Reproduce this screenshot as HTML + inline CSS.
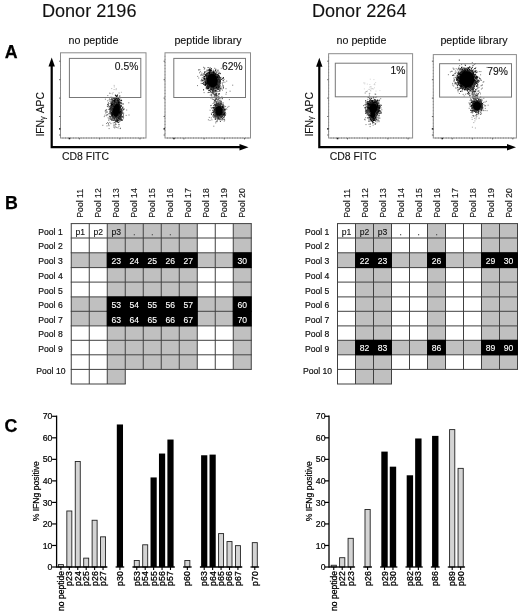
<!DOCTYPE html>
<html><head><meta charset="utf-8"><title>Figure</title>
<style>html,body{margin:0;padding:0;background:#fff;}body{width:520px;height:613px;overflow:hidden;font-family:"Liberation Sans",sans-serif;}svg{display:block;filter:blur(0.3px);}</style>
</head><body>
<svg width="520" height="613" viewBox="0 0 520 613" font-family="Liberation Sans, sans-serif"><text x="41.9" y="17.1" font-size="18.1" text-anchor="start" font-weight="normal" fill="#111" stroke="#111" stroke-width="0.12" >Donor 2196</text>
<text x="311.9" y="17.2" font-size="18.1" text-anchor="start" font-weight="normal" fill="#111" stroke="#111" stroke-width="0.12" >Donor 2264</text>
<text x="4.8" y="57.6" font-size="17.8" text-anchor="start" font-weight="bold" fill="#000" stroke="#000" stroke-width="0.25" >A</text>
<text x="4.9" y="208.7" font-size="17.8" text-anchor="start" font-weight="bold" fill="#000" stroke="#000" stroke-width="0.25" >B</text>
<text x="4.6" y="431.6" font-size="17.8" text-anchor="start" font-weight="bold" fill="#000" stroke="#000" stroke-width="0.25" >C</text>
<rect x="60.5" y="52.8" width="85.5" height="85.2" fill="#fff" stroke="#8c8c8c" stroke-width="1"/>
<path d="M59.1 61.2h1.4M59.1 79.7h1.4M59.1 98.1h1.4M59.1 116.5h1.4M59.1 135.0h1.4M79.4 138v1.4M99.6 138v1.4M119.8 138v1.4M140.0 138v1.4" stroke="#555" stroke-width="0.9" fill="none"/>
<path d="M62.5 138H144" stroke="#777" stroke-width="1" stroke-dasharray="0.9 1.7" fill="none"/>
<path d="M60.5 55.8V136" stroke="#888" stroke-width="1" stroke-dasharray="0.9 2.2" fill="none"/>
<rect x="59.0" y="128.1" width="1.5" height="1.5" fill="#222"/><rect x="68.7" y="137.8" width="1.5" height="1.5" fill="#222"/>
<path d="M112.3 112.9h0M112.2 101.6h0M114.7 117.3h0M117.6 115.9h0M115.1 115.3h0M117.3 104.1h0M116.4 116.0h0M111.5 107.6h0M112.8 112.9h0M119.8 112.8h0M116.6 104.7h0M115.2 104.5h0M119.4 102.3h0M112.8 110.4h0M119.8 113.8h0M111.7 98.1h0M113.6 113.8h0M120.1 114.0h0M112.5 114.8h0M111.6 106.2h0M118.3 103.0h0M113.2 116.4h0M114.2 113.8h0M119.8 109.3h0M113.0 108.8h0M119.7 106.8h0M119.3 105.6h0M119.0 114.8h0M121.1 113.0h0M120.7 100.4h0M122.1 113.4h0M109.8 106.4h0M118.7 105.9h0M118.4 117.4h0M112.2 107.6h0M118.9 99.3h0M118.9 104.7h0M117.9 104.3h0M116.7 115.6h0M116.1 116.9h0M122.9 107.1h0M112.6 102.7h0M113.8 103.2h0M119.3 114.4h0M119.8 107.2h0M118.1 117.7h0M114.2 116.5h0M111.6 115.1h0M119.9 106.9h0M119.0 117.5h0M119.8 110.5h0M114.5 114.2h0M119.7 110.1h0M110.8 107.1h0M111.9 112.6h0M116.5 116.1h0M119.9 118.3h0M111.8 104.3h0M111.6 113.7h0M113.3 109.4h0M120.6 111.7h0M115.8 104.7h0M115.0 114.6h0M112.3 106.6h0M118.7 114.4h0M112.5 106.5h0M112.6 108.8h0M113.5 111.1h0M110.6 110.2h0M114.8 101.4h0M110.9 105.0h0M119.5 114.1h0M117.4 101.5h0M118.5 116.6h0M121.0 103.9h0M117.4 121.2h0M120.8 111.0h0M122.7 117.0h0M117.8 99.4h0M120.3 113.3h0M111.6 113.5h0M119.5 119.0h0M112.9 106.5h0M121.4 116.2h0M113.4 103.7h0M120.4 115.7h0M120.7 115.0h0M111.1 105.6h0M116.0 104.7h0M111.7 109.3h0M113.7 98.1h0M113.8 116.5h0M115.4 104.1h0M119.9 114.4h0M120.3 115.6h0M118.8 106.3h0M115.8 121.2h0M119.3 110.2h0M116.5 121.6h0M113.8 106.9h0M116.3 103.9h0M115.3 101.3h0M115.7 104.0h0M120.7 113.8h0M118.9 107.2h0M115.9 102.3h0M118.2 114.9h0M111.7 108.8h0M117.8 103.1h0M111.9 104.5h0M114.8 103.8h0M119.9 116.4h0M113.2 107.2h0M113.8 104.9h0M117.5 103.7h0M113.3 109.4h0M115.9 98.3h0M112.7 110.2h0M116.7 104.4h0M114.6 103.9h0M121.9 110.4h0M119.0 100.7h0M117.7 120.9h0M117.1 116.1h0M118.1 114.9h0M119.1 106.7h0M116.9 119.7h0M114.4 117.4h0M120.3 111.5h0M119.7 108.2h0M119.5 111.1h0M120.0 116.2h0M115.1 119.9h0M112.1 116.9h0M119.6 105.9h0M112.7 102.3h0M119.1 109.1h0M116.4 104.1h0M115.1 116.8h0M117.7 119.8h0M123.0 104.0h0M111.8 105.2h0M113.8 112.3h0M112.9 109.2h0M120.8 109.1h0M120.0 112.7h0M112.0 115.4h0M118.5 103.3h0M112.7 108.4h0M119.9 108.8h0M113.8 103.7h0M113.4 111.0h0M120.4 113.3h0M116.9 120.2h0M113.9 104.5h0M113.2 108.6h0M119.6 109.6h0M119.9 109.6h0M112.7 109.4h0M113.6 101.0h0M117.4 103.8h0M117.0 117.7h0M114.7 120.1h0M113.3 100.3h0M117.8 122.2h0M120.3 106.0h0M115.4 95.1h0M118.5 120.3h0M113.5 115.9h0M112.5 116.3h0M112.6 113.5h0M116.2 101.0h0M119.5 109.6h0M116.0 117.1h0M120.3 111.6h0M119.2 108.0h0M122.0 109.0h0M117.6 103.9h0M118.1 104.1h0M117.6 117.5h0M119.3 112.3h0M113.2 120.3h0M121.6 103.1h0M113.7 105.1h0M116.2 101.9h0M119.1 118.5h0M110.3 116.9h0M117.6 104.7h0M111.9 110.4h0M119.2 103.0h0M119.4 110.2h0M116.0 117.8h0M113.6 106.1h0M116.2 116.2h0M117.1 105.3h0M113.9 113.0h0M118.2 116.6h0M114.2 119.8h0M115.1 115.2h0M121.6 100.7h0M121.5 112.1h0M112.4 112.9h0M112.2 114.2h0M119.3 111.6h0M113.0 102.0h0M119.1 114.3h0M110.9 107.5h0M118.4 100.2h0M122.4 107.8h0M119.1 107.6h0M112.5 114.0h0M115.5 100.9h0M119.3 112.5h0M113.8 106.4h0M113.5 112.3h0M113.2 112.3h0M119.6 112.1h0M116.7 102.9h0M115.9 102.7h0M121.3 100.3h0M115.8 102.2h0M118.7 122.5h0M110.3 109.2h0M117.6 100.9h0M110.9 108.7h0M119.3 119.8h0M114.1 101.3h0M118.4 117.5h0M118.5 114.4h0M118.4 106.9h0M111.9 104.8h0M122.3 120.3h0M119.4 110.8h0M113.7 115.3h0M111.9 99.5h0M113.3 106.2h0M111.2 108.2h0M116.8 116.1h0M120.0 119.0h0M119.1 114.6h0M119.2 105.6h0M119.7 111.7h0M119.9 108.6h0M116.3 119.7h0M119.1 112.5h0M120.2 114.1h0M119.3 111.6h0M117.3 116.2h0M112.9 109.1h0M121.1 114.4h0M117.1 103.8h0M120.9 111.9h0M114.3 116.0h0M114.7 102.0h0M117.0 105.4h0M116.0 116.4h0M116.1 99.8h0M116.7 119.9h0M113.8 104.7h0M112.9 99.0h0M111.8 110.6h0M114.8 101.8h0M112.7 112.0h0M117.1 116.4h0M121.0 116.1h0M120.6 117.7h0M115.1 104.2h0M115.0 103.2h0M119.2 113.4h0M113.4 115.6h0M118.4 102.6h0M120.7 115.0h0M121.3 106.3h0M118.8 104.5h0M113.3 103.4h0M115.5 116.8h0M118.3 106.0h0M112.5 112.2h0M114.2 115.3h0M116.8 98.5h0M112.0 109.5h0M113.7 116.3h0M115.9 120.6h0M118.9 115.0h0M120.0 115.0h0M114.9 102.7h0M112.7 115.5h0M112.4 107.8h0M116.4 104.0h0M118.9 117.9h0M114.2 103.6h0M116.8 104.8h0M115.0 101.9h0M120.1 110.3h0M121.2 118.3h0M120.5 110.7h0M117.4 116.5h0M112.9 113.9h0M118.4 115.5h0M113.0 113.4h0M112.7 106.1h0M115.4 101.2h0M116.9 103.8h0M118.5 105.6h0M115.0 115.6h0M117.1 103.8h0M113.8 100.7h0M117.7 116.5h0M109.8 109.3h0M119.2 112.4h0M118.5 117.3h0M119.0 109.1h0M118.8 114.4h0M112.6 107.5h0M112.9 108.9h0M117.7 106.0h0M111.4 114.6h0M117.2 116.9h0M113.1 114.0h0M121.3 120.4h0M113.0 112.6h0M116.9 117.5h0M119.0 109.1h0M117.1 118.2h0M119.2 116.6h0M117.5 104.9h0M113.3 110.5h0M117.2 121.6h0M114.2 114.7h0M118.1 103.5h0M120.1 111.5h0M113.2 112.1h0M120.5 107.8h0M120.5 114.3h0M119.8 107.0h0M119.2 117.4h0M122.2 112.7h0M116.7 117.9h0M119.8 106.9h0M118.8 119.0h0M113.0 104.6h0M113.8 101.6h0M117.4 102.5h0M117.5 117.0h0M112.4 107.9h0M111.7 112.4h0M111.7 106.9h0M120.9 111.9h0M113.3 110.6h0M114.0 102.5h0M114.1 105.0h0M119.5 112.3h0M114.0 100.5h0M113.0 120.2h0M115.6 104.1h0M113.8 117.0h0M112.2 108.0h0M113.6 112.1h0M109.8 108.0h0M113.9 103.3h0M115.3 115.5h0M113.5 103.8h0M120.0 113.1h0M118.6 107.3h0M119.2 108.3h0M114.0 103.2h0M119.1 107.9h0M113.8 105.5h0M115.2 104.5h0M117.1 101.0h0M118.2 103.9h0M112.8 101.4h0M119.2 113.0h0M117.5 105.3h0M111.6 103.4h0M119.9 111.5h0M120.8 119.4h0M120.4 116.1h0M120.2 113.7h0M115.2 101.7h0M113.7 104.6h0M110.9 111.3h0M116.1 121.5h0M119.8 111.8h0M114.8 116.4h0M118.7 118.4h0M114.2 113.9h0M113.0 111.8h0M118.9 117.2h0M114.0 114.4h0M113.1 114.5h0M120.3 108.8h0M122.3 116.3h0M115.0 102.1h0M114.7 115.0h0M120.8 110.4h0M111.8 113.0h0M113.7 114.2h0M112.2 103.6h0M113.5 112.2h0M118.3 102.5h0M120.7 113.7h0M118.1 102.7h0M118.9 104.7h0M114.2 100.9h0M112.3 106.6h0M117.5 117.5h0M113.5 105.4h0M116.2 117.5h0M120.0 115.4h0M111.8 104.6h0M118.5 107.4h0M113.1 110.3h0M117.9 116.9h0M114.3 114.0h0M113.9 112.7h0M119.0 114.8h0M123.5 115.0h0M120.2 108.9h0M118.9 100.9h0M111.8 105.9h0M110.7 111.5h0M120.7 119.0h0M116.2 115.9h0M112.5 100.8h0M123.6 109.4h0M120.6 106.1h0M117.2 103.9h0M112.1 99.1h0M116.5 100.1h0M112.9 105.4h0M121.7 114.0h0M117.3 120.6h0M119.7 104.5h0M120.8 117.3h0M118.1 105.7h0M115.6 104.7h0M119.3 118.1h0M114.1 118.3h0M121.3 119.6h0M121.1 114.8h0M111.5 119.0h0M121.8 111.7h0M117.8 106.1h0M118.1 117.5h0M113.4 105.1h0M117.5 105.3h0M118.9 103.7h0M118.1 118.3h0M114.1 113.9h0M119.2 111.3h0M113.6 111.3h0M119.1 115.8h0M118.3 102.9h0M114.7 116.0h0M113.4 114.4h0M120.8 114.9h0M113.4 109.0h0M116.3 118.3h0M119.5 111.8h0M113.7 107.1h0M118.9 106.0h0M112.3 104.5h0M118.2 115.3h0M118.9 101.9h0M117.9 106.2h0M111.8 115.4h0M110.1 113.4h0M118.1 101.7h0M118.2 103.1h0M119.0 112.8h0M121.7 109.1h0M120.4 110.0h0M119.4 108.8h0M118.1 102.4h0M111.0 106.3h0M115.1 115.9h0M118.6 115.0h0M119.1 109.6h0M118.9 113.9h0M118.1 105.7h0M113.2 106.7h0M117.4 117.1h0M113.4 110.8h0M113.9 113.5h0M114.8 122.4h0M115.1 117.2h0M112.7 111.9h0M120.1 109.5h0M114.1 114.9h0M112.8 103.7h0M117.6 105.9h0M116.0 103.1h0M117.1 103.9h0M116.6 104.6h0M110.1 108.8h0M117.3 101.9h0M113.9 113.2h0M117.4 102.4h0M118.2 115.3h0M118.8 104.1h0M111.6 113.3h0M119.9 107.7h0M108.0 104.3h0M113.4 108.9h0M114.3 114.3h0M112.8 117.9h0M115.0 105.2h0M113.8 112.9h0M111.9 105.1h0M113.2 111.7h0M112.0 107.6h0M120.7 110.4h0M119.2 107.0h0M119.4 99.2h0M114.1 105.4h0M111.7 120.1h0M112.7 113.4h0M115.0 116.2h0M118.0 105.9h0M113.3 109.5h0M116.0 116.4h0M108.3 105.2h0M111.9 107.9h0M113.0 104.3h0M120.5 117.0h0M121.1 114.7h0M111.0 103.4h0M113.2 111.7h0M120.6 107.9h0M114.3 118.3h0M111.4 102.3h0M110.4 109.0h0M114.5 118.1h0M112.1 109.9h0M119.5 116.9h0M118.4 116.5h0M112.0 112.0h0M114.0 115.2h0M112.0 116.8h0M117.8 121.0h0M118.9 107.6h0M113.3 109.0h0M115.8 117.6h0M113.7 113.8h0M118.4 118.5h0M114.8 115.7h0M118.7 114.5h0M119.0 116.0h0M119.8 107.2h0M119.8 105.5h0M119.9 112.5h0M113.3 112.8h0M120.3 117.8h0M115.9 103.4h0M118.0 106.0h0M113.0 112.0h0M118.4 104.4h0M118.3 106.1h0M119.6 116.1h0M117.6 120.0h0M116.2 102.1h0M119.6 108.4h0M116.0 102.0h0M119.8 113.5h0M115.0 102.4h0M116.1 115.7h0M119.7 110.0h0M115.3 103.8h0M114.8 118.5h0M118.2 115.2h0M114.1 116.6h0M112.4 107.0h0M118.0 116.4h0M116.8 102.3h0M117.5 117.0h0M120.3 111.0h0M119.6 114.7h0M119.4 110.4h0M119.3 108.1h0M112.4 101.9h0M120.4 112.7h0M117.6 116.4h0M119.4 103.0h0M118.4 117.5h0M118.2 104.6h0M114.2 113.8h0M113.2 115.5h0M113.2 107.0h0M117.9 104.6h0M121.1 105.7h0M110.4 112.7h0M118.8 103.8h0M115.6 116.4h0M114.0 102.6h0M121.5 110.0h0M120.6 102.7h0M119.5 109.8h0M114.8 104.6h0M115.4 115.5h0M113.5 117.1h0M119.3 114.4h0M114.1 113.8h0M113.7 112.3h0M118.6 107.4h0M119.9 116.9h0M113.3 109.8h0M116.8 116.0h0M111.9 112.3h0M112.7 107.2h0M120.1 110.9h0M119.9 116.2h0" stroke="#000" stroke-width="0.9" stroke-linecap="square" fill="none"/>
<path d="M118.5 101.2h0M117.0 100.7h0M117.0 101.2h0M117.0 104.3h0M118.6 102.3h0M117.2 104.0h0M116.5 99.6h0M118.3 99.8h0M118.1 99.8h0M119.2 99.6h0M118.0 105.5h0M115.7 105.4h0M115.9 97.9h0M117.8 103.6h0M116.6 96.2h0M116.8 101.3h0M116.4 101.3h0M114.7 100.7h0M119.1 105.6h0M116.4 100.4h0M117.4 104.4h0M117.8 99.3h0M117.1 102.3h0M118.7 104.8h0M117.6 104.8h0M116.4 105.5h0M116.4 102.9h0M118.0 99.9h0M116.0 97.9h0M117.1 101.9h0M116.5 103.1h0M114.3 101.9h0M117.0 101.4h0M117.9 106.0h0M116.3 99.8h0M116.1 102.2h0M117.6 100.0h0M118.1 99.6h0M117.9 103.0h0M117.5 107.0h0M116.6 101.6h0M117.5 104.0h0M115.2 102.6h0M116.0 103.5h0M118.6 102.1h0M116.8 102.4h0M113.2 103.8h0M117.6 102.4h0M116.4 100.3h0M116.7 104.8h0M116.8 105.1h0M113.7 100.9h0M117.2 102.0h0M114.8 100.5h0M118.5 99.0h0M115.7 99.5h0M116.2 103.5h0M117.6 97.3h0M118.7 100.6h0M116.2 105.8h0M116.8 99.1h0M116.1 100.3h0M115.6 101.2h0M118.0 102.8h0M115.2 108.4h0M115.7 102.3h0M116.9 103.8h0M116.5 103.1h0M119.5 102.2h0M115.5 102.8h0M115.9 101.1h0M117.1 102.8h0M116.5 104.0h0M116.7 99.0h0M118.0 101.2h0M118.4 100.5h0M117.6 102.7h0M113.5 98.6h0M115.5 105.2h0M114.5 104.1h0M118.3 103.1h0M117.7 100.9h0M116.9 102.5h0M117.4 103.6h0M116.6 100.4h0M116.2 102.9h0M114.8 99.1h0M116.4 100.7h0M116.6 95.9h0M116.5 101.4h0M117.9 97.4h0M116.5 103.1h0M117.5 104.8h0M118.2 99.6h0M117.7 101.2h0M115.9 105.5h0M116.1 100.0h0M116.4 100.0h0M118.2 102.9h0M118.7 102.9h0M116.1 104.4h0M116.1 100.9h0M116.7 102.1h0M118.4 100.6h0M117.3 101.9h0M115.3 99.5h0M116.6 102.9h0M117.3 103.1h0M117.0 101.0h0M117.4 99.7h0M115.2 101.2h0M115.1 100.8h0M116.0 100.7h0M116.8 100.1h0M116.4 98.0h0M117.1 100.0h0M117.4 95.5h0M115.9 102.6h0M113.8 101.2h0M117.0 102.2h0M115.0 102.5h0M117.1 99.7h0M117.8 101.9h0M116.9 101.0h0M117.6 102.2h0M118.3 103.0h0M116.1 101.5h0M118.1 101.2h0M117.4 103.2h0M116.7 96.6h0M117.1 102.5h0M117.1 100.2h0M118.4 101.7h0M116.1 100.3h0M117.4 99.5h0M115.6 106.6h0M118.5 104.4h0M118.6 103.4h0M114.8 104.8h0M118.5 103.1h0M114.4 104.9h0M118.6 100.9h0M117.1 103.8h0M116.8 104.6h0M117.0 103.6h0M117.0 98.6h0M115.6 109.4h0M117.3 105.0h0M118.3 106.0h0M117.6 100.6h0M116.9 97.5h0M116.7 104.1h0M114.2 102.5h0M117.9 105.1h0M115.7 100.5h0M114.5 99.6h0M117.6 106.8h0M115.5 105.2h0M117.4 100.8h0M119.7 96.1h0M116.8 102.5h0M119.6 106.2h0M119.8 102.3h0M118.1 105.2h0M117.5 102.8h0M116.7 101.0h0M115.3 106.5h0M116.3 97.1h0M117.2 101.9h0M117.1 106.2h0M116.8 101.4h0M116.0 101.9h0M116.3 102.5h0M120.8 102.9h0M115.8 106.5h0M118.0 103.9h0M117.8 103.9h0M117.8 105.3h0M118.2 105.1h0M116.3 102.0h0M116.0 104.2h0M118.0 100.9h0M117.6 108.1h0M118.5 99.4h0M116.8 103.5h0M116.9 102.9h0M118.4 102.8h0M115.5 103.7h0M116.8 102.3h0M116.2 98.8h0M115.3 101.2h0M115.5 95.7h0M118.4 99.3h0M116.0 103.2h0M113.8 105.1h0M115.9 103.5h0M116.3 102.7h0M117.0 102.0h0M114.6 98.6h0M116.8 105.3h0M116.2 103.2h0M117.1 103.1h0M118.2 98.5h0M117.2 101.6h0M116.5 100.0h0M115.9 99.6h0M115.5 107.9h0M119.1 102.0h0M117.8 99.7h0M113.4 97.7h0M117.1 105.4h0M116.8 99.7h0M116.6 99.7h0M115.1 101.5h0M116.4 100.1h0M115.8 99.8h0M117.2 105.3h0M116.6 107.2h0M114.9 102.6h0M115.4 101.6h0" stroke="#000" stroke-width="0.9" stroke-linecap="square" fill="none"/>
<path d="M115.7 116.1h0M120.3 108.8h0M109.6 109.8h0M116.5 107.2h0M119.2 124.7h0M108.8 113.6h0M119.8 98.9h0M116.1 110.5h0M108.8 120.4h0M116.2 108.7h0M117.2 116.9h0M118.6 116.7h0M117.0 103.9h0M113.3 112.6h0M102.8 125.3h0M113.5 104.2h0M107.0 112.5h0M115.3 107.8h0M113.3 105.3h0M111.8 110.8h0M112.3 116.4h0M114.6 112.8h0M117.0 121.4h0M117.9 114.1h0M114.5 106.1h0M113.7 116.7h0M116.2 109.4h0M109.2 100.0h0M116.6 119.6h0M116.9 102.4h0M114.2 113.4h0M111.1 113.8h0M114.3 105.9h0M109.6 116.9h0M116.8 105.9h0M110.7 117.7h0M117.9 110.2h0M122.3 111.1h0M110.5 119.1h0M114.4 114.3h0M115.4 104.8h0M109.9 109.8h0M121.5 105.8h0M121.3 114.6h0M110.2 113.1h0M117.7 106.0h0M105.7 113.0h0M110.2 114.4h0M106.6 109.6h0M111.6 100.8h0M114.1 113.1h0M112.7 103.1h0M116.2 99.6h0M117.6 115.9h0M122.7 119.5h0M116.8 114.1h0M115.3 102.5h0M121.7 116.8h0M113.9 103.6h0M121.8 116.9h0M109.9 116.0h0M123.7 113.2h0M117.0 109.3h0M112.4 119.2h0M129.0 115.0h0M114.6 117.6h0M113.8 117.0h0M118.9 105.3h0M110.4 110.7h0M118.9 114.6h0M120.7 103.1h0M117.4 107.9h0M115.6 114.4h0M110.9 109.7h0M110.0 113.1h0M111.4 107.9h0M116.2 107.5h0M120.3 108.3h0M119.0 114.6h0M110.6 109.7h0M111.5 108.8h0M114.0 124.8h0M113.3 122.9h0M117.2 103.0h0M104.9 115.2h0M106.3 115.7h0M119.8 115.5h0M114.3 110.1h0M116.4 110.0h0M112.8 109.0h0M120.4 108.4h0M116.9 104.1h0M112.0 101.7h0M114.3 116.7h0M116.6 108.7h0M117.9 110.0h0M116.9 114.2h0M117.6 94.7h0M109.4 116.6h0M114.7 127.9h0M114.2 107.9h0M121.9 117.0h0M123.6 117.0h0M114.3 117.0h0M111.7 108.3h0M112.7 110.0h0M118.7 109.1h0M116.6 108.7h0M119.1 93.0h0M114.3 113.1h0M110.4 118.4h0M116.2 121.3h0M119.5 117.3h0M114.5 104.2h0M114.2 108.6h0M116.3 108.9h0M128.8 102.8h0M120.4 109.5h0M114.1 118.4h0M115.2 103.4h0M117.0 110.9h0M106.1 111.9h0M110.5 106.0h0M117.3 114.5h0M113.9 127.2h0M117.1 107.9h0M116.3 111.3h0M105.4 99.2h0M109.0 125.7h0M114.4 109.9h0M112.7 118.6h0M115.3 124.1h0M118.7 124.3h0M114.7 114.6h0M113.3 110.5h0M107.5 106.6h0M111.0 106.7h0M120.6 114.7h0M120.6 119.0h0M119.3 119.8h0M112.5 117.3h0M113.8 108.0h0M120.5 128.2h0M110.9 123.6h0M118.9 106.6h0M116.4 114.8h0M116.9 109.7h0M109.5 111.3h0M119.0 118.2h0M118.1 120.3h0M110.8 111.0h0M116.7 119.3h0M115.9 115.8h0M115.8 127.0h0M105.5 110.3h0M126.2 115.4h0M107.1 111.6h0M108.8 106.2h0M116.2 124.3h0M117.3 117.1h0M119.7 114.1h0M111.4 110.7h0M116.7 110.3h0M112.2 109.0h0M108.5 103.7h0M114.8 109.4h0M115.4 122.0h0M116.5 112.0h0M110.0 103.5h0M116.9 106.1h0M117.1 104.7h0M115.8 111.6h0M119.6 109.9h0M113.6 113.5h0M115.4 124.0h0M114.1 108.0h0M113.8 115.1h0M116.2 117.1h0M109.1 128.6h0M123.3 113.1h0M109.8 112.2h0M117.0 96.5h0M115.3 101.5h0M117.2 122.1h0M119.8 102.1h0M121.3 119.4h0M113.6 115.3h0M121.9 110.7h0M115.1 108.0h0M120.3 97.6h0M121.5 106.2h0M119.3 101.1h0M111.1 107.1h0M118.9 101.1h0M117.9 107.9h0M120.7 110.7h0M117.4 111.1h0M123.1 110.7h0M115.1 126.0h0M115.5 116.9h0M111.9 112.9h0M105.2 111.1h0M112.3 100.9h0M108.9 119.1h0M117.1 101.6h0M123.2 108.4h0M113.6 113.5h0M110.2 99.7h0M111.9 119.8h0M119.4 101.5h0M120.5 113.1h0M117.4 112.7h0M117.0 105.2h0M111.2 106.4h0M113.6 116.1h0M109.8 122.4h0M112.4 107.4h0M118.3 115.6h0M113.7 104.2h0M110.8 100.0h0M120.3 120.5h0M123.5 116.9h0M116.7 117.6h0M119.4 110.8h0M116.8 127.5h0M107.7 100.8h0M110.9 116.7h0M120.5 110.4h0M118.2 112.1h0M116.5 108.4h0M115.1 111.9h0M120.2 128.6h0M107.2 114.5h0M115.2 118.9h0M119.9 118.3h0M118.8 105.8h0M107.6 122.6h0M120.6 106.1h0M120.9 117.6h0M104.3 116.6h0M110.8 119.6h0M112.2 106.2h0M108.4 109.4h0M119.7 108.0h0M107.0 125.9h0M123.4 118.2h0M112.8 103.0h0M107.9 114.8h0M121.0 105.4h0M115.2 110.0h0M114.1 115.4h0M124.5 109.0h0M119.0 120.3h0M113.9 110.7h0M109.3 118.7h0M112.8 107.0h0M115.5 106.0h0M110.6 109.1h0M121.8 111.6h0M117.5 102.0h0M106.6 123.5h0M113.4 100.8h0M114.7 116.2h0M107.5 104.5h0M116.4 105.6h0M118.7 119.4h0M117.2 109.3h0M115.0 107.5h0M114.6 114.2h0M113.9 118.7h0M126.7 110.0h0M116.7 118.1h0M118.1 110.8h0M113.1 118.8h0M118.0 116.0h0M111.6 115.9h0M118.7 111.3h0M118.1 127.9h0M106.9 115.0h0M110.0 101.5h0M114.2 115.7h0M115.4 103.7h0M108.8 107.0h0M115.3 106.1h0M108.5 123.4h0M111.5 110.3h0M112.8 107.4h0M115.4 109.9h0M118.0 104.0h0M108.6 124.8h0M114.9 117.4h0M120.5 116.8h0M115.4 100.9h0M108.1 117.8h0M118.2 116.5h0M107.8 95.6h0M110.5 102.8h0M115.9 104.8h0M122.3 108.7h0M112.7 117.8h0M116.7 105.8h0M118.9 126.3h0M109.7 109.3h0M110.4 97.4h0M118.0 117.4h0M119.5 115.8h0M106.2 110.4h0M112.2 103.1h0M110.3 116.7h0M113.9 125.8h0M117.3 98.7h0M119.2 121.6h0M115.3 103.3h0M123.1 103.9h0M114.8 98.3h0M109.6 98.9h0M120.1 121.2h0M113.4 102.0h0M114.9 114.7h0M108.4 102.6h0M114.7 117.0h0M115.5 115.3h0M109.6 93.2h0M116.6 105.6h0M114.6 109.2h0M117.4 106.8h0M121.7 113.3h0M117.6 116.9h0M119.9 115.7h0M107.3 106.2h0" stroke="#444" stroke-width="0.7" stroke-linecap="square" fill="none"/>
<path d="M120.5 101.7h0M116.6 101.7h0M113.1 92.7h0M113.1 107.1h0M116.1 111.9h0M116.5 112.8h0M116.3 88.7h0M120.1 100.6h0M118.5 99.7h0M114.0 99.3h0M111.7 88.6h0M112.4 93.9h0M111.0 97.2h0M115.9 113.9h0M120.4 97.6h0M117.6 96.3h0M116.2 97.7h0M113.4 98.6h0M110.6 101.5h0M114.1 89.5h0M113.9 102.4h0M113.0 101.7h0M116.7 110.3h0M111.8 97.1h0M116.5 109.8h0M115.8 103.9h0M110.7 93.4h0M119.9 95.8h0M121.4 92.3h0M114.2 85.4h0M116.9 100.1h0M121.0 99.3h0M114.3 86.9h0M114.8 105.5h0M117.2 107.7h0M117.6 97.6h0M116.8 99.4h0M111.1 111.5h0M116.1 89.7h0M116.1 100.3h0" stroke="#888" stroke-width="0.6" stroke-linecap="square" fill="none"/>
<ellipse cx="116.3" cy="110.3" rx="3.4" ry="6.6" fill="#000" transform="rotate(8 116.3 110.3)"/>
<rect x="69.4" y="58.4" width="71.4" height="39.1" fill="none" stroke="#777" stroke-width="1"/>
<text x="93.5" y="43.8" font-size="10.7" text-anchor="middle" font-weight="normal" fill="#111" stroke="#111" stroke-width="0.12" >no peptide</text>
<text x="138.3" y="69.6" font-size="10.3" text-anchor="end" font-weight="normal" fill="#111" stroke="#111" stroke-width="0.12" >0.5%</text>
<rect x="165" y="52.8" width="85.5" height="85.2" fill="#fff" stroke="#8c8c8c" stroke-width="1"/>
<path d="M163.6 61.2h1.4M163.6 79.7h1.4M163.6 98.1h1.4M163.6 116.5h1.4M163.6 135.0h1.4M183.9 138v1.4M204.1 138v1.4M224.3 138v1.4M244.5 138v1.4" stroke="#555" stroke-width="0.9" fill="none"/>
<path d="M167 138H248.5" stroke="#777" stroke-width="1" stroke-dasharray="0.9 1.7" fill="none"/>
<path d="M165 55.8V136" stroke="#888" stroke-width="1" stroke-dasharray="0.9 2.2" fill="none"/>
<rect x="163.5" y="128.1" width="1.5" height="1.5" fill="#222"/><rect x="173.2" y="137.8" width="1.5" height="1.5" fill="#222"/>
<path d="M215.6 87.1h0M202.1 81.0h0M217.4 77.7h0M206.1 80.6h0M219.7 83.2h0M210.3 70.5h0M214.8 73.7h0M213.3 86.2h0M215.2 74.8h0M207.3 73.6h0M207.5 80.3h0M215.9 84.6h0M208.0 81.3h0M208.8 75.0h0M209.8 74.3h0M212.6 86.7h0M217.0 88.5h0M213.0 92.9h0M213.8 73.4h0M208.6 74.8h0M218.4 80.6h0M212.8 90.3h0M213.3 86.9h0M216.7 78.9h0M217.6 80.5h0M214.7 88.0h0M217.0 86.0h0M218.1 75.8h0M218.9 81.9h0M206.4 76.9h0M207.6 79.6h0M207.2 75.5h0M215.3 74.5h0M211.5 72.4h0M204.9 72.1h0M210.7 75.0h0M208.4 83.0h0M207.8 72.3h0M211.6 73.1h0M217.8 77.5h0M209.5 72.7h0M206.0 83.0h0M215.8 90.2h0M207.3 82.0h0M217.2 80.8h0M217.5 78.7h0M218.0 70.2h0M218.1 75.5h0M209.5 86.4h0M213.4 72.2h0M217.3 86.3h0M210.4 85.6h0M207.5 78.5h0M204.5 76.8h0M206.0 84.5h0M209.0 69.9h0M210.6 89.1h0M210.1 67.9h0M210.3 74.4h0M212.2 73.6h0M217.4 82.7h0M217.1 80.2h0M208.1 76.5h0M208.0 76.1h0M217.4 80.3h0M211.4 87.5h0M216.1 75.4h0M209.9 75.5h0M218.9 82.6h0M218.3 89.5h0M208.7 85.0h0M216.2 86.9h0M212.4 88.0h0M209.0 73.2h0M207.1 81.3h0M218.3 74.0h0M213.7 86.7h0M208.4 76.2h0M216.1 87.2h0M217.6 79.3h0M213.0 86.3h0M214.3 87.4h0M205.3 74.4h0M208.1 83.4h0M220.6 82.9h0M204.0 78.3h0M201.8 79.3h0M213.6 91.3h0M209.5 85.2h0M215.6 87.9h0M217.0 81.5h0M207.3 77.2h0M218.6 89.0h0M207.9 79.0h0M206.3 84.2h0M208.7 72.9h0M219.5 84.9h0M219.0 80.1h0M215.9 75.1h0M209.8 75.5h0M214.6 72.6h0M218.7 85.9h0M207.2 78.7h0M217.3 84.6h0M209.4 73.5h0M210.0 74.3h0M218.1 79.8h0M205.0 85.0h0M209.3 74.0h0M216.3 83.9h0M216.5 79.4h0M209.0 85.1h0M206.3 87.3h0M213.0 72.9h0M209.3 75.5h0M209.8 69.8h0M214.2 87.6h0M214.3 75.9h0M216.4 74.5h0M214.7 86.7h0M211.8 87.0h0M218.3 88.1h0M208.6 75.4h0M211.8 87.8h0M214.1 73.8h0M216.0 84.4h0M214.2 87.0h0M214.3 74.0h0M207.0 78.2h0M217.7 82.9h0M209.0 75.1h0M206.8 73.7h0M213.2 73.0h0M210.5 70.0h0M210.1 86.3h0M216.7 83.4h0M218.6 78.2h0M210.9 73.4h0M219.4 77.7h0M207.6 81.4h0M219.7 80.9h0M217.4 84.4h0M219.6 87.9h0M215.0 87.4h0M212.0 87.3h0M218.0 76.0h0M203.9 80.8h0M207.0 81.1h0M215.3 91.0h0M217.2 86.2h0M214.9 87.2h0M206.8 83.4h0M215.2 77.0h0M218.1 82.1h0M206.6 74.0h0M215.9 75.0h0M213.4 89.8h0M208.2 83.0h0M216.6 76.9h0M212.6 90.0h0M215.8 69.3h0M211.5 73.6h0M216.0 74.6h0M217.5 79.0h0M210.1 74.8h0M218.9 84.3h0M209.1 86.2h0M213.7 72.6h0M215.0 71.4h0M210.5 85.7h0M216.8 77.4h0M209.7 87.9h0M206.8 75.5h0M206.2 83.8h0M217.4 79.9h0M217.6 88.1h0M216.7 82.6h0M207.4 82.4h0M206.1 78.3h0M213.3 87.5h0M220.2 73.4h0M210.3 71.0h0M209.7 86.0h0M207.2 79.7h0M217.6 89.7h0M212.7 72.3h0M207.3 86.9h0M205.0 79.1h0M219.2 75.8h0M204.4 78.5h0M208.1 74.3h0M208.2 82.4h0M211.1 73.6h0M206.4 74.1h0M213.6 86.1h0M211.3 73.6h0M211.0 74.0h0M211.4 88.3h0M213.8 74.9h0M204.7 68.1h0M209.3 86.1h0M203.8 83.1h0M204.1 80.0h0M209.6 69.8h0M216.2 88.1h0M215.5 75.8h0M209.4 84.7h0M207.6 77.7h0M211.5 70.4h0M215.9 75.4h0M208.0 76.5h0M207.9 88.2h0M217.2 77.0h0M207.6 86.4h0M216.7 78.9h0M208.8 83.7h0M207.4 86.7h0M209.2 86.7h0M215.1 86.5h0M218.0 84.4h0M211.7 73.9h0M219.3 76.5h0M205.0 76.3h0M218.8 86.9h0M212.2 72.4h0M216.3 76.4h0M204.7 72.7h0M211.1 74.7h0M214.3 86.1h0M208.1 70.1h0M206.2 88.3h0M223.2 80.5h0M209.0 85.5h0M206.7 82.3h0M215.7 77.4h0M218.6 78.9h0M208.4 84.1h0M218.4 81.9h0M218.4 82.0h0M208.0 83.0h0M207.3 76.8h0M205.1 85.0h0M219.8 79.4h0M217.3 77.3h0M213.8 73.4h0M217.5 81.2h0M209.9 86.5h0M211.9 86.2h0M216.0 88.2h0M217.5 78.6h0M215.7 86.9h0M205.7 75.3h0M211.7 74.5h0M207.1 86.4h0M223.5 77.6h0M208.3 82.3h0M214.4 74.4h0M205.8 81.6h0M205.5 85.3h0M212.3 88.2h0M218.0 85.9h0M211.2 73.8h0M207.9 87.8h0M216.2 78.1h0M218.0 80.4h0M218.4 87.1h0M214.1 75.0h0M206.1 81.2h0M219.8 79.8h0M215.1 86.4h0M206.9 77.3h0M221.6 79.4h0M215.2 85.4h0M217.2 79.5h0M206.9 87.3h0M215.6 76.5h0M209.3 84.4h0M209.5 90.5h0M212.6 91.8h0M214.9 75.8h0M209.2 71.3h0M217.4 81.2h0M206.0 84.0h0M206.9 75.5h0M215.1 88.2h0M218.6 87.5h0M211.5 89.0h0M216.9 71.2h0M216.6 85.8h0M209.0 84.6h0M222.7 78.7h0M217.0 81.2h0M207.7 86.6h0M207.1 75.7h0M209.2 73.1h0M216.4 78.8h0M216.5 84.6h0M204.3 78.4h0M216.8 77.9h0M215.1 76.2h0M214.9 85.9h0M212.0 74.0h0M208.1 67.6h0M208.1 83.5h0M219.9 81.5h0M218.0 78.6h0M210.2 74.3h0M204.1 73.7h0M217.5 83.4h0M207.6 76.4h0M209.3 85.3h0M208.7 84.8h0M210.7 91.6h0M216.9 85.1h0M215.5 76.8h0M216.2 88.3h0M208.6 84.1h0M208.1 86.6h0M217.3 77.6h0M215.3 77.0h0M217.1 80.3h0M213.0 74.3h0M212.4 90.1h0M210.7 72.9h0M206.8 80.3h0M208.7 85.3h0M212.9 87.9h0M209.4 74.9h0M208.8 75.2h0M208.0 70.3h0M213.9 74.4h0M210.6 71.7h0M216.3 74.5h0M208.7 90.3h0M210.8 89.5h0M216.6 74.4h0M217.7 87.7h0M208.3 84.9h0M209.7 85.6h0M217.4 82.3h0M214.4 88.8h0M208.5 77.1h0M210.1 85.5h0M207.5 86.5h0M219.7 90.1h0M212.7 88.8h0M212.5 86.2h0M214.1 73.7h0M211.6 87.6h0M202.4 80.4h0M213.0 86.5h0M213.4 73.0h0M211.9 87.5h0M202.3 83.5h0M207.6 85.7h0M214.1 89.2h0M216.0 85.3h0M209.2 87.1h0M209.7 74.9h0M213.0 88.0h0M206.1 81.5h0M208.4 84.7h0M217.3 80.0h0M214.6 86.3h0M207.6 80.3h0M207.9 74.9h0M206.3 82.3h0M207.1 76.8h0M218.5 80.3h0M220.6 77.7h0M219.4 82.8h0M206.3 82.4h0M210.9 89.5h0M218.0 77.0h0M217.9 78.3h0M218.8 86.9h0M207.9 77.9h0M215.1 90.9h0M211.2 87.1h0M217.9 82.8h0M212.1 72.1h0M209.1 85.5h0M206.3 79.2h0M214.1 87.2h0M208.5 86.0h0M209.1 83.8h0M218.4 81.8h0M212.1 88.4h0M207.9 78.0h0M216.2 75.8h0M209.6 73.2h0M207.6 82.1h0M213.5 89.0h0M214.1 85.9h0M205.8 79.2h0M220.1 83.0h0M207.9 77.1h0M216.8 83.8h0M207.1 77.5h0M217.5 86.3h0M208.2 85.1h0M210.4 73.4h0M217.9 83.2h0M205.6 84.4h0M219.7 86.4h0M206.9 82.3h0M208.0 81.1h0M207.5 86.0h0M208.9 75.8h0M211.0 73.8h0M213.7 86.6h0M209.5 75.0h0M210.2 85.2h0M206.4 77.4h0M216.4 85.8h0M219.6 86.0h0M217.7 82.6h0M208.4 73.6h0M207.8 84.1h0M206.9 82.2h0M219.0 78.5h0M205.2 82.4h0M210.8 85.5h0M210.6 86.5h0M206.8 74.8h0M210.7 75.1h0M211.5 86.3h0M217.5 85.4h0M206.9 79.4h0M219.4 80.9h0M220.4 81.5h0M212.0 88.2h0M217.2 81.4h0M218.3 85.7h0M207.1 81.2h0M216.4 84.8h0M209.2 74.9h0M210.4 73.8h0M215.5 90.6h0M218.1 80.1h0M212.1 74.0h0M218.3 78.7h0M214.3 73.4h0M215.1 76.0h0M215.3 86.6h0M213.4 88.8h0M209.1 87.1h0M219.0 82.5h0M216.6 85.2h0M219.4 81.3h0M217.0 87.2h0M217.6 82.4h0M214.2 75.0h0M206.4 77.2h0M214.2 87.0h0M207.0 76.4h0M209.1 76.0h0M217.8 78.0h0M210.2 71.0h0M209.2 75.2h0M217.7 78.8h0M215.9 85.0h0M209.4 72.0h0M223.2 78.2h0M206.6 82.0h0M205.1 84.7h0M206.6 83.7h0M213.1 75.3h0M210.2 85.3h0M206.6 83.2h0M209.4 69.8h0M214.6 76.3h0M216.7 85.5h0M213.7 75.5h0M215.7 85.0h0M219.2 73.0h0M215.9 77.0h0M211.0 89.6h0M215.6 73.4h0M212.4 86.1h0M212.6 74.9h0M211.0 69.5h0M210.0 70.5h0M208.7 73.9h0M213.1 87.2h0M207.7 78.7h0M210.2 85.1h0M218.0 79.6h0M208.8 86.1h0M213.5 71.2h0M204.3 79.5h0M215.7 88.0h0M210.9 75.1h0M216.7 86.6h0M215.0 74.1h0M214.0 90.5h0M219.1 81.9h0M212.9 73.6h0M208.0 74.0h0M216.2 73.2h0M210.3 86.0h0M209.7 72.7h0M216.7 87.6h0M210.6 74.4h0M216.6 86.4h0M217.4 84.6h0M216.5 84.7h0M208.7 72.7h0M212.6 88.0h0M211.0 73.3h0M207.1 78.4h0M215.5 76.7h0M219.4 77.3h0M206.5 79.4h0M207.5 85.1h0M215.8 85.4h0M211.8 71.1h0M218.6 77.0h0M216.6 78.6h0M215.9 75.0h0M207.8 85.3h0M213.6 87.6h0M214.3 88.0h0M206.0 75.4h0M216.8 79.5h0M216.1 90.0h0M203.4 82.8h0M208.9 86.0h0M209.7 74.6h0M206.7 85.9h0M217.7 83.1h0M213.9 75.7h0M217.3 80.5h0M207.5 78.5h0M213.1 88.7h0M216.3 76.0h0M212.9 87.2h0M210.7 86.6h0M208.9 85.7h0M206.7 76.2h0M213.8 87.9h0M206.9 77.4h0M212.0 86.7h0M212.7 74.8h0M207.1 82.0h0M207.8 78.5h0M211.7 75.1h0M214.9 87.0h0M216.5 86.0h0M211.4 89.0h0M212.3 74.2h0M220.4 78.9h0M205.7 83.1h0M218.7 83.0h0M213.1 74.2h0M208.1 87.5h0M217.0 87.9h0M218.6 77.9h0M217.5 82.9h0M207.3 79.7h0M214.0 86.4h0M203.7 84.4h0M214.3 87.0h0M207.5 73.9h0M205.5 85.6h0M207.4 88.7h0M204.5 76.4h0M217.2 86.9h0M213.2 73.9h0M213.4 74.3h0M210.2 86.0h0M207.5 83.4h0M219.9 84.6h0M207.7 84.7h0M206.2 80.8h0M218.2 85.6h0M220.4 80.5h0M210.7 73.9h0M207.1 75.4h0M217.9 81.4h0M216.3 77.7h0M205.3 84.5h0M223.4 87.7h0M219.0 88.1h0M215.3 75.5h0M217.4 83.2h0M207.5 81.2h0M205.8 75.7h0M216.1 76.9h0M211.6 73.5h0M210.5 86.6h0M207.4 75.7h0M215.1 74.4h0M211.4 73.7h0M208.8 74.2h0M216.6 78.5h0M209.8 75.5h0M206.6 79.8h0M217.7 82.3h0M217.9 74.6h0M217.4 76.6h0M210.4 73.2h0M212.9 88.1h0M216.7 75.2h0M215.7 84.9h0M217.7 81.0h0M217.4 84.0h0M217.9 84.8h0M218.4 75.7h0M212.3 90.1h0M206.5 82.3h0M214.6 87.0h0M208.3 88.6h0M208.3 83.0h0M210.7 85.7h0M212.2 86.1h0M211.3 87.6h0M205.4 82.7h0M213.4 71.9h0M205.5 83.6h0M212.3 92.1h0M207.2 78.7h0M217.0 88.0h0M209.0 84.9h0M209.6 85.5h0M213.8 88.4h0M213.8 73.8h0M210.0 72.0h0M214.3 76.0h0M218.0 80.9h0M215.5 70.4h0M209.1 75.1h0M220.7 88.4h0M216.8 83.0h0M205.1 83.0h0M208.9 75.6h0M207.1 77.4h0M218.5 83.8h0M215.2 85.5h0M210.5 88.1h0M209.9 73.4h0M208.5 88.4h0M217.3 74.5h0M213.3 75.5h0M218.0 86.5h0M210.6 73.2h0M214.3 72.8h0M212.7 74.3h0M216.0 87.7h0M206.3 81.3h0M206.7 79.0h0M216.0 75.9h0M211.2 88.9h0M218.7 86.8h0M210.0 74.9h0M214.1 75.0h0M206.6 78.2h0M216.9 77.4h0M210.8 90.7h0M213.3 74.7h0M210.5 86.6h0M206.2 80.1h0M207.7 86.2h0M206.6 76.7h0M203.8 77.1h0M219.5 82.3h0M209.5 85.7h0M217.2 81.3h0M217.8 77.3h0M210.6 85.6h0M207.0 88.9h0M217.6 79.8h0M218.7 81.1h0M211.8 74.2h0M216.8 74.9h0M216.1 75.2h0M211.6 87.2h0M209.6 84.7h0M217.3 86.7h0M208.4 87.6h0M216.3 91.0h0M206.9 75.5h0M211.3 68.5h0M203.6 89.8h0M204.0 76.8h0M205.3 74.8h0M218.9 79.0h0M212.0 88.2h0M209.3 84.1h0M212.7 87.2h0" stroke="#000" stroke-width="0.9" stroke-linecap="square" fill="none"/>
<path d="M211.4 79.4h0M214.6 81.3h0M211.2 76.1h0M214.1 84.3h0M222.5 84.1h0M203.5 82.7h0M224.9 82.2h0M208.6 80.0h0M197.7 76.4h0M211.8 72.5h0M215.9 77.4h0M203.0 75.3h0M216.2 94.6h0M219.4 84.8h0M210.1 79.8h0M217.9 80.0h0M215.0 88.5h0M208.0 77.3h0M215.2 82.6h0M212.1 78.6h0M212.5 93.3h0M220.0 73.8h0M213.1 82.6h0M213.0 73.6h0M212.1 82.7h0M209.2 83.1h0M199.9 69.7h0M213.3 84.5h0M211.9 79.0h0M213.8 88.9h0M217.6 82.6h0M210.3 87.9h0M215.7 88.1h0M211.3 76.4h0M213.8 78.4h0M218.9 88.7h0M201.2 83.4h0M219.9 90.0h0M210.3 76.1h0M217.9 89.4h0M213.1 75.0h0M204.7 81.7h0M208.4 76.8h0M215.2 89.0h0M201.9 75.3h0M219.7 83.4h0M211.0 85.5h0M206.8 73.1h0M212.9 91.6h0M218.2 83.2h0M218.2 80.8h0M206.6 70.2h0M214.2 87.9h0M214.8 82.2h0M210.7 88.2h0M212.6 73.1h0M220.1 79.7h0M214.9 82.5h0M218.4 84.8h0M219.3 84.8h0M210.4 78.3h0M216.3 77.7h0M217.7 81.7h0M207.9 75.5h0M212.0 92.7h0M216.9 83.1h0M208.0 92.6h0M211.3 81.6h0M210.6 89.7h0M213.7 79.4h0M213.8 76.1h0M207.2 79.7h0M197.5 85.6h0M223.3 77.7h0M212.0 72.1h0M213.7 83.5h0M216.7 74.7h0M209.6 77.3h0M211.5 95.7h0M211.7 81.5h0M210.1 86.3h0M226.4 92.4h0M220.9 77.3h0M218.4 83.5h0M219.4 90.1h0M216.3 72.5h0M213.5 79.1h0M215.2 82.8h0M218.4 73.5h0M208.9 80.6h0M214.5 79.9h0M212.6 82.3h0M218.4 82.6h0M214.1 71.1h0M198.9 69.7h0M214.7 68.3h0M215.0 81.9h0M212.8 77.5h0M210.6 86.6h0M214.7 82.3h0M210.2 82.7h0M219.1 83.4h0M210.9 74.3h0M213.3 76.5h0M205.2 85.6h0M209.5 68.7h0M209.0 92.4h0M212.2 73.7h0M206.9 85.0h0M215.0 83.8h0M211.8 84.7h0M221.0 86.9h0M211.9 73.2h0M215.2 92.2h0M216.2 75.1h0M213.8 90.2h0M209.4 84.2h0M219.2 93.6h0M204.3 69.2h0M214.8 86.8h0M210.9 81.4h0M210.6 88.9h0M201.0 80.8h0M206.0 76.2h0M204.7 74.5h0M212.7 82.1h0M222.3 82.9h0M214.6 84.6h0M214.2 91.4h0M213.5 83.1h0M212.2 81.9h0M212.5 88.1h0M212.9 82.4h0M212.5 86.6h0M210.3 87.2h0M209.8 85.6h0M223.0 85.9h0M212.3 74.6h0M216.7 83.0h0M217.6 79.1h0M215.6 93.8h0M214.9 80.5h0M205.9 80.3h0M216.3 86.5h0M206.8 74.2h0M207.6 74.5h0M211.3 83.3h0M223.0 85.6h0M220.5 73.6h0M221.0 88.9h0M215.1 87.7h0M216.1 94.6h0M217.1 72.3h0M203.5 89.8h0M212.4 90.1h0M211.0 77.5h0M211.0 83.5h0M213.8 78.4h0M215.7 86.5h0M207.9 74.0h0M202.3 77.6h0M212.9 77.7h0M209.6 80.4h0M213.0 85.6h0M217.2 85.8h0M218.8 77.4h0M216.0 85.1h0M207.2 76.5h0M215.2 83.0h0M206.1 77.0h0M220.9 89.2h0M213.2 90.5h0M208.0 79.8h0M217.9 81.1h0M206.8 84.2h0M221.3 68.3h0M213.6 74.5h0M211.2 72.9h0M226.7 81.1h0M213.0 77.7h0M207.5 77.9h0M213.9 93.1h0M214.3 92.1h0M207.1 81.1h0M210.5 71.7h0M232.7 85.2h0M214.1 77.6h0M209.7 74.9h0M218.3 80.8h0M212.0 82.9h0M206.3 81.9h0M211.9 84.5h0M210.7 81.8h0M215.6 88.6h0M209.1 87.2h0M207.5 79.6h0M213.5 83.1h0M199.5 72.8h0M211.8 87.5h0M209.0 90.5h0M203.2 80.2h0M215.7 82.8h0M214.2 88.1h0M208.5 84.6h0M218.5 81.9h0M200.4 71.7h0M208.2 74.4h0M215.1 77.6h0M226.0 88.7h0M205.8 78.6h0M221.0 88.1h0M207.4 87.1h0M210.3 95.1h0M209.9 85.0h0M215.8 80.0h0M212.0 89.0h0M215.5 82.3h0M215.2 93.4h0M217.8 86.1h0M214.6 72.7h0M213.5 79.2h0M216.7 79.2h0M215.2 76.1h0M217.6 78.6h0M212.6 85.5h0M211.1 81.6h0M218.5 94.3h0M203.2 74.1h0M216.4 88.7h0M210.3 82.0h0M211.8 95.9h0M211.7 74.4h0M204.5 72.1h0M219.8 81.2h0M223.2 88.4h0M214.8 86.5h0M217.0 88.7h0M207.6 77.3h0M209.9 82.0h0M211.5 74.1h0M209.1 92.2h0M224.1 79.4h0M214.8 82.3h0M208.3 85.3h0M212.4 92.3h0M215.2 80.7h0M198.7 78.0h0M217.3 78.7h0M217.5 87.4h0M203.4 78.6h0M214.5 87.1h0M213.6 82.1h0M211.0 79.8h0M212.8 75.4h0M216.2 80.8h0M215.6 79.5h0M215.0 83.3h0M217.6 86.0h0M217.8 82.2h0M212.5 80.3h0M206.1 79.6h0M218.6 88.1h0M208.3 82.8h0M216.8 74.5h0M214.7 84.5h0M216.8 84.5h0M203.5 67.3h0M223.4 82.1h0M219.6 91.4h0M213.3 75.0h0M220.1 83.5h0M215.6 85.6h0M217.9 89.5h0M205.2 71.5h0M213.6 82.2h0M216.9 82.1h0M211.8 94.3h0M220.1 90.9h0M218.3 78.4h0M212.3 81.5h0M207.0 75.2h0M213.7 74.7h0M215.7 85.6h0M211.5 79.6h0M216.0 85.7h0M214.8 74.9h0M204.1 92.6h0M209.3 78.9h0M203.1 74.8h0M208.9 86.0h0M198.7 70.0h0M210.6 78.4h0M208.7 78.3h0M204.4 81.7h0M219.2 84.5h0M209.9 89.1h0M215.4 76.3h0M209.7 77.5h0M212.6 89.4h0M209.0 80.2h0M213.4 74.8h0M210.3 85.2h0M218.8 71.9h0M216.6 81.1h0M219.7 87.5h0M223.3 86.4h0M210.7 76.4h0M205.2 83.6h0M215.6 87.7h0M214.7 73.2h0M210.6 80.0h0M213.7 86.9h0M220.4 85.6h0M201.8 73.1h0M201.4 74.6h0M206.4 82.0h0M211.6 88.6h0M218.6 80.6h0M217.8 83.3h0M215.2 90.9h0M206.7 80.1h0M221.0 79.2h0M213.9 83.1h0M210.6 73.4h0M209.1 75.1h0M218.6 84.9h0M216.5 75.6h0M215.5 83.5h0M218.4 78.9h0M217.1 91.5h0M222.4 78.6h0M206.8 71.6h0M217.9 86.9h0M214.6 77.1h0M219.5 93.5h0M212.6 81.2h0M219.1 86.6h0M220.0 81.2h0M214.6 80.4h0M209.8 79.5h0M211.3 84.7h0M211.2 82.1h0M208.5 73.4h0M220.4 77.8h0M222.5 90.1h0M200.6 75.2h0M210.6 81.6h0M211.9 78.1h0M219.5 82.8h0M217.9 79.0h0M209.1 89.3h0M211.3 74.9h0M211.9 88.3h0M211.9 77.4h0M216.2 88.8h0M211.7 79.8h0M210.9 98.1h0M211.8 92.5h0M212.0 84.3h0M201.9 80.5h0M213.1 80.1h0M210.6 73.1h0M204.9 81.1h0M209.4 80.6h0M211.8 78.7h0M208.9 92.5h0M206.9 77.5h0M211.2 74.6h0M207.7 86.1h0M217.8 84.0h0M230.1 91.2h0M219.4 78.6h0M218.6 93.7h0M210.8 92.6h0M208.5 74.0h0M212.6 77.0h0M216.2 76.0h0M213.3 70.1h0M212.6 88.4h0M211.4 83.6h0" stroke="#444" stroke-width="0.7" stroke-linecap="square" fill="none"/>
<path d="M221.5 107.9h0M216.1 110.8h0M216.8 114.3h0M223.6 109.0h0M213.2 110.0h0M218.1 117.8h0M223.2 113.4h0M222.2 110.0h0M216.8 108.2h0M222.3 106.5h0M219.6 106.6h0M223.4 114.5h0M215.5 108.5h0M221.1 115.5h0M223.2 110.3h0M220.4 103.8h0M218.4 107.0h0M220.9 106.2h0M216.6 107.3h0M216.9 116.1h0M224.0 115.1h0M220.7 108.1h0M213.4 112.1h0M218.5 114.5h0M224.0 114.2h0M222.1 116.2h0M222.2 112.6h0M215.6 112.9h0M216.7 112.7h0M217.9 118.2h0M216.2 111.6h0M218.3 106.4h0M221.1 114.9h0M220.3 106.8h0M216.2 112.3h0M219.7 104.9h0M224.7 109.5h0M222.9 106.2h0M223.3 117.6h0M221.2 108.2h0M222.4 115.7h0M214.8 107.5h0M218.2 114.7h0M218.3 116.5h0M219.8 115.3h0M214.8 109.5h0M217.6 115.9h0M219.4 115.3h0M221.2 108.5h0M221.1 117.8h0M216.7 108.2h0M217.2 107.2h0M222.4 111.1h0M221.7 113.1h0M219.7 115.7h0M220.6 115.3h0M216.3 107.3h0M222.4 107.8h0M219.3 106.8h0M218.6 117.6h0M224.5 110.2h0M216.8 115.5h0M217.1 105.3h0M215.8 113.8h0M217.4 107.5h0M222.6 114.8h0M223.0 114.8h0M219.1 106.3h0M216.4 112.8h0M213.7 107.7h0M216.1 110.3h0M217.1 104.0h0M219.2 107.1h0M221.4 113.3h0M222.4 107.1h0M220.6 115.8h0M217.6 113.9h0M217.5 116.6h0M224.9 112.3h0M218.3 114.6h0M221.6 116.2h0M219.3 115.1h0M221.1 113.6h0M218.9 106.6h0M221.6 109.0h0M217.8 105.3h0M221.0 108.3h0M218.9 105.6h0M218.4 115.0h0M215.7 109.6h0M221.2 116.3h0M222.9 104.2h0M215.2 116.0h0M224.6 113.4h0M216.9 114.8h0M213.0 110.5h0M223.2 108.2h0M216.4 109.1h0M219.3 106.9h0M218.5 106.8h0M217.0 107.8h0M221.7 107.8h0M218.7 114.7h0M224.3 112.0h0M221.7 109.0h0M222.8 113.9h0M217.9 104.8h0M220.1 106.6h0M214.2 111.7h0M221.4 101.9h0M221.9 110.3h0M218.7 106.3h0M218.7 116.8h0M221.0 107.2h0M215.9 108.5h0M218.9 116.6h0M223.0 112.6h0M220.4 105.2h0M218.8 118.0h0M221.7 110.1h0M222.4 114.9h0M219.0 118.7h0M221.0 106.5h0M215.9 108.2h0M217.3 115.2h0M219.0 105.4h0M217.9 114.3h0M222.2 111.1h0M214.2 115.7h0M218.7 118.5h0M217.7 114.8h0M221.6 108.1h0M221.9 119.8h0M215.7 107.3h0M219.6 106.4h0M218.6 115.0h0M216.0 109.5h0M222.4 115.3h0M215.8 115.6h0M223.2 105.0h0M222.3 114.7h0M220.5 105.5h0M224.5 113.9h0M219.9 117.8h0M221.7 113.8h0M221.1 114.8h0M221.2 108.1h0M217.8 106.7h0M223.4 113.9h0M219.5 107.3h0M219.1 107.1h0M218.5 114.5h0M214.4 109.5h0M216.0 110.3h0M215.5 110.1h0M221.0 108.7h0M219.7 106.4h0M222.7 111.3h0M216.5 114.0h0M215.0 104.7h0M215.7 114.9h0M221.6 115.6h0M215.4 111.5h0M223.0 107.2h0M221.3 114.5h0M223.3 112.4h0M219.1 104.6h0M222.3 110.4h0M222.8 110.5h0M220.5 106.4h0M221.8 112.2h0M221.4 117.4h0M219.7 107.2h0M221.1 107.3h0M221.1 115.3h0M218.8 116.1h0M218.3 106.2h0M216.7 106.9h0M223.4 111.8h0M215.7 109.9h0M222.0 109.3h0M215.1 109.9h0M218.9 104.5h0M214.7 111.9h0M221.0 113.8h0M218.9 105.5h0M222.1 110.3h0M221.3 113.8h0M215.0 114.0h0M217.0 106.2h0M215.5 108.2h0M224.1 119.3h0M216.3 108.5h0M218.0 106.0h0M215.1 110.8h0M215.8 105.2h0M222.4 114.2h0M222.2 111.7h0M216.0 112.7h0M214.9 110.0h0M222.6 115.8h0M217.6 103.7h0M213.7 107.4h0M216.0 112.5h0M218.1 114.4h0M221.7 114.2h0M213.5 107.7h0M222.6 110.7h0M216.4 112.0h0M216.9 113.4h0M215.2 110.2h0M220.4 106.4h0M216.3 113.8h0M220.0 115.1h0M224.3 109.3h0M215.7 106.6h0M219.6 106.6h0M221.4 113.1h0M216.2 107.6h0M220.3 114.7h0M221.5 104.1h0M221.1 108.4h0M222.9 107.5h0M219.1 114.9h0M217.4 116.0h0M222.2 112.5h0M212.7 107.7h0M224.5 109.6h0M216.1 109.9h0M220.3 116.2h0M215.1 110.9h0M221.8 109.2h0M218.0 107.1h0M221.9 112.8h0M215.6 105.1h0M222.6 111.8h0M217.3 113.7h0M215.2 118.9h0M216.6 115.6h0M220.5 106.0h0M224.1 109.6h0M222.0 114.5h0M218.6 116.3h0M216.3 116.6h0M217.4 116.2h0M221.8 114.0h0M223.7 106.1h0M218.7 106.8h0M223.8 114.4h0M225.2 109.7h0M220.2 115.1h0M216.7 108.5h0M219.4 107.2h0M217.6 114.9h0M220.8 107.3h0M221.9 110.3h0M213.9 105.5h0M223.1 115.7h0M223.8 114.3h0M222.1 109.5h0M222.0 110.0h0M218.9 106.7h0M221.1 114.0h0M221.3 108.2h0M219.0 105.2h0M219.9 104.7h0M217.9 115.4h0M217.4 105.8h0M215.4 119.2h0M219.3 105.0h0M222.2 116.6h0M217.0 113.3h0M222.0 112.9h0M218.3 106.1h0M215.4 114.1h0M221.9 111.7h0M224.7 113.5h0M214.7 108.9h0M215.5 104.7h0M216.9 104.4h0M222.2 115.2h0M216.8 116.9h0M220.5 103.3h0M215.0 109.6h0M221.7 112.6h0M215.7 108.4h0M217.3 114.2h0M216.9 104.6h0M217.1 113.4h0M214.6 110.9h0M216.4 113.4h0M222.6 118.4h0M215.3 110.3h0M216.7 113.2h0M224.4 116.3h0M217.3 114.5h0M218.6 114.8h0M217.9 107.3h0M219.0 106.6h0M221.9 113.6h0M215.1 110.9h0M217.9 106.7h0M218.2 114.7h0M215.1 115.7h0M216.8 104.9h0M216.6 114.3h0M225.2 110.0h0M216.1 112.6h0M221.1 114.3h0M222.6 107.1h0M221.9 108.5h0M218.7 105.4h0M218.1 99.8h0M217.0 115.6h0M220.4 121.3h0M217.6 115.3h0M215.3 113.0h0M222.8 110.5h0M217.8 105.2h0M224.0 107.9h0M221.8 111.4h0M216.4 114.7h0M217.4 106.6h0M220.9 106.6h0M216.1 111.1h0M218.7 105.8h0M217.0 115.2h0M216.6 113.8h0M215.5 115.0h0M222.7 109.4h0M216.1 112.2h0M221.8 112.1h0M221.3 108.7h0M222.7 111.3h0M218.3 105.7h0M221.9 106.3h0M216.2 110.5h0M212.8 112.3h0M214.6 104.3h0M216.6 108.3h0M214.2 102.1h0M221.2 108.9h0M216.4 105.9h0M218.4 105.1h0M215.2 113.5h0M225.4 115.2h0M219.7 107.2h0M219.4 104.7h0M221.0 107.6h0M215.9 111.9h0M217.1 113.8h0M220.1 114.6h0M218.8 105.7h0M220.6 107.9h0M215.9 108.2h0M214.2 108.2h0M225.0 112.2h0M223.1 107.8h0M215.1 107.8h0M222.0 115.7h0M218.7 114.6h0M221.9 112.4h0M222.3 112.7h0M223.8 114.4h0M222.6 106.7h0M219.1 106.5h0M215.5 113.9h0M216.5 103.4h0M216.5 114.9h0M218.4 114.8h0M216.9 106.9h0M222.7 107.5h0M213.5 112.0h0M220.5 116.7h0M222.3 112.9h0M214.9 109.9h0M218.3 105.8h0M222.4 109.5h0M221.6 113.1h0M221.8 114.0h0M215.0 111.4h0M213.5 114.8h0M216.0 109.6h0M215.0 112.1h0M217.8 105.3h0M216.1 109.4h0M223.2 112.0h0M220.8 108.0h0M218.8 105.8h0M215.3 105.6h0M220.7 114.9h0M220.9 115.5h0M224.4 115.1h0M221.9 113.5h0M218.1 104.2h0M222.6 107.8h0M215.3 117.1h0M217.6 118.0h0M213.6 114.1h0" stroke="#000" stroke-width="0.9" stroke-linecap="square" fill="none"/>
<path d="M218.5 112.2h0M219.7 109.2h0M219.7 103.2h0M217.2 120.9h0M209.3 117.4h0M210.5 105.7h0M221.8 108.2h0M216.5 102.1h0M218.2 109.5h0M216.3 101.7h0M219.2 112.8h0M222.7 113.4h0M224.1 117.2h0M208.4 119.8h0M218.2 104.6h0M220.2 115.9h0M213.0 103.6h0M221.1 107.4h0M223.9 111.7h0M216.6 103.0h0M220.8 100.8h0M213.9 103.1h0M224.7 120.1h0M217.8 108.3h0M221.1 117.5h0M215.7 122.9h0M217.8 116.9h0M210.1 110.2h0M216.1 121.6h0M217.8 103.3h0M225.6 106.6h0M218.6 103.5h0M221.0 111.6h0M217.6 108.2h0M216.5 106.5h0M213.5 117.3h0M221.8 102.7h0M214.4 112.8h0M226.8 109.3h0M217.5 109.1h0M219.5 109.5h0M222.5 116.0h0M220.6 119.3h0M217.8 107.4h0M229.4 99.6h0M213.0 97.3h0M219.9 104.5h0M222.4 98.7h0M218.1 108.3h0M214.7 116.8h0M217.2 113.0h0M216.7 111.3h0M217.0 110.9h0M218.2 106.7h0M220.2 109.5h0M215.1 104.6h0M220.2 118.0h0M213.9 108.1h0M220.2 116.4h0M221.2 103.8h0M218.7 115.5h0M219.5 109.2h0M214.3 111.4h0M218.4 110.7h0M224.0 117.2h0M215.7 111.8h0M217.5 111.1h0M224.5 115.6h0M218.7 106.8h0M218.0 112.5h0M216.8 116.7h0M218.7 103.9h0M226.0 94.2h0M217.6 109.8h0M222.2 116.8h0M223.9 119.3h0M219.7 111.1h0M222.3 110.3h0M214.0 107.9h0M221.0 113.9h0M214.6 117.2h0M219.7 102.1h0M220.3 116.2h0M220.5 108.7h0M215.7 116.8h0M219.4 110.5h0M217.2 104.7h0M211.8 108.6h0M222.6 114.8h0M216.1 119.1h0M217.8 104.8h0M222.1 118.3h0M217.2 103.6h0M218.4 96.8h0M218.8 119.1h0M219.6 106.4h0M221.2 107.7h0M223.2 108.5h0M226.0 108.5h0M219.3 105.2h0M214.0 112.4h0M219.9 105.0h0M220.6 108.2h0M216.6 110.1h0M220.0 114.6h0M223.1 112.6h0M216.0 106.6h0M219.9 103.8h0M218.0 108.3h0M218.2 111.5h0M222.4 119.7h0M221.8 116.2h0M214.7 116.3h0M223.3 102.9h0M227.7 107.3h0M210.0 120.4h0M218.8 106.0h0M216.5 116.5h0M219.5 108.4h0M222.8 105.2h0M215.5 107.3h0M215.9 114.4h0M217.8 104.6h0M216.9 99.3h0M219.2 111.1h0M220.8 109.2h0M220.0 105.3h0M218.7 111.4h0M214.2 113.8h0M219.1 110.8h0M216.9 121.7h0M218.6 106.2h0M215.5 113.8h0M217.8 106.1h0M216.0 115.7h0M218.9 116.4h0M218.5 103.9h0M221.7 112.3h0M216.2 108.8h0M215.1 115.2h0M217.1 113.2h0M219.5 109.0h0M219.9 109.1h0M214.3 108.2h0M214.3 114.7h0M220.9 107.2h0M220.8 111.9h0M222.1 105.3h0M218.7 104.9h0M216.1 118.2h0M211.4 105.4h0M220.4 114.8h0M215.8 99.1h0M212.4 112.5h0M222.6 115.6h0M216.0 118.1h0M217.9 113.9h0M217.9 119.4h0M216.7 98.5h0M217.5 111.6h0M219.6 106.5h0M217.8 104.1h0M217.8 111.0h0M219.5 119.7h0M211.4 113.4h0M220.2 104.0h0M218.9 110.5h0M215.0 114.5h0M225.5 114.3h0M221.4 116.5h0M218.1 115.9h0M215.7 111.5h0M221.1 117.8h0M217.6 108.9h0M220.3 110.1h0M219.1 115.0h0M215.8 115.4h0M220.0 109.0h0M214.1 107.0h0M218.4 115.7h0M211.5 114.5h0M219.3 104.2h0M221.7 112.7h0M220.2 105.0h0M214.6 115.6h0M223.6 112.5h0M217.9 108.0h0M212.5 116.0h0M218.3 117.4h0M216.0 116.4h0M216.0 113.8h0M223.5 106.6h0M221.9 110.5h0M215.2 111.6h0M220.9 106.5h0M217.6 107.3h0M215.8 109.3h0M221.5 107.7h0M223.1 108.4h0M216.1 116.5h0M223.6 106.9h0M220.7 104.0h0M217.1 108.4h0M221.1 103.5h0M216.8 106.7h0M219.0 103.7h0M213.8 126.2h0M219.4 102.1h0M221.6 103.2h0M211.9 119.8h0M223.1 105.8h0M214.7 113.1h0M225.8 113.8h0M221.0 103.9h0M212.3 112.6h0M222.2 111.3h0M218.6 118.2h0M215.6 116.6h0M221.6 107.0h0M219.0 111.1h0M220.7 105.1h0M217.8 111.0h0M218.7 110.6h0M219.5 109.4h0M216.8 116.2h0M216.3 108.7h0M215.5 104.2h0M220.2 110.3h0M218.1 113.0h0M218.0 114.3h0M225.0 112.4h0M217.7 119.6h0M221.1 101.3h0M223.3 111.7h0M221.6 104.1h0M215.6 106.9h0M220.6 104.3h0M216.1 115.8h0M216.3 111.1h0M215.4 101.1h0M218.3 109.8h0M213.5 115.9h0M221.5 115.4h0M216.8 104.2h0M218.3 111.4h0M218.0 107.3h0M215.1 106.4h0M218.3 107.8h0M224.5 109.0h0M220.2 107.9h0M217.9 105.1h0M216.9 102.3h0M211.3 117.9h0M214.9 112.9h0M218.2 107.4h0M221.2 107.4h0M220.1 108.5h0M222.0 115.8h0M218.8 116.5h0M220.4 119.1h0M218.2 102.0h0M219.3 111.8h0M217.3 109.4h0M217.6 103.6h0M224.7 106.2h0M214.8 101.8h0M215.6 110.3h0M223.8 113.8h0M216.0 103.7h0M214.6 110.0h0M221.7 107.9h0M224.2 121.1h0M219.2 98.6h0M222.4 110.0h0M220.9 115.9h0M215.0 110.8h0M219.2 106.4h0M221.0 109.8h0M217.2 120.8h0M219.2 119.5h0M218.0 116.2h0M215.9 111.3h0M222.4 98.6h0M220.5 109.0h0M222.4 111.5h0M218.3 103.5h0M228.9 106.4h0M217.5 106.5h0M217.5 111.7h0M213.9 116.3h0M217.7 113.8h0M211.2 107.6h0M217.5 108.4h0M216.2 112.2h0M220.0 105.1h0M211.7 114.5h0M217.5 116.3h0M221.7 109.9h0M213.6 108.5h0M216.0 117.3h0" stroke="#444" stroke-width="0.7" stroke-linecap="square" fill="none"/>
<path d="M213.2 99.4h0M213.5 94.0h0M213.7 93.7h0M215.6 98.9h0M215.3 99.9h0M219.9 100.6h0M214.2 96.0h0M216.3 96.5h0M218.7 103.6h0M220.4 102.3h0M211.3 94.4h0M217.8 95.8h0M215.3 100.7h0M216.8 93.9h0M215.4 85.8h0M216.5 93.4h0M216.4 93.5h0M214.7 95.0h0M221.9 96.8h0M214.2 94.6h0M218.6 102.2h0M217.8 97.6h0M216.7 95.3h0M216.1 94.8h0M213.6 92.6h0M220.3 101.7h0M215.0 96.7h0M215.6 102.0h0M216.4 95.6h0M217.8 100.0h0M215.2 94.3h0M216.8 92.0h0M214.7 100.7h0M218.2 103.2h0M215.6 95.2h0M216.0 95.9h0M219.0 98.6h0M219.1 96.9h0M217.2 104.5h0M215.0 94.7h0M215.3 91.3h0M215.9 95.2h0M220.8 98.8h0M212.3 99.0h0M218.3 99.0h0M217.0 101.0h0M215.4 97.5h0M216.8 104.3h0M219.2 100.3h0M213.9 99.7h0M216.4 102.3h0M216.6 98.7h0M217.8 96.0h0M215.2 105.8h0M214.8 100.4h0M217.8 101.8h0M219.1 94.6h0M218.3 91.4h0M216.6 99.3h0M218.5 103.2h0M214.7 95.9h0M216.2 95.2h0M214.9 94.5h0M218.7 104.4h0M217.9 105.1h0M216.7 94.0h0M215.2 98.0h0M218.5 103.7h0M214.7 100.5h0M215.4 99.6h0" stroke="#333" stroke-width="0.7" stroke-linecap="square" fill="none"/>
<ellipse cx="212.3" cy="80.6" rx="5.4" ry="6.8" fill="#000" transform="rotate(-10 212.3 80.6)"/>
<ellipse cx="219" cy="110.9" rx="3.5" ry="4.8" fill="#000" transform="rotate(0 219 110.9)"/>
<rect x="173.8" y="58.4" width="71.69999999999999" height="39.1" fill="none" stroke="#777" stroke-width="1"/>
<text x="208" y="43.8" font-size="10.7" text-anchor="middle" font-weight="normal" fill="#111" stroke="#111" stroke-width="0.12" >peptide library</text>
<text x="242.7" y="69.8" font-size="10.3" text-anchor="end" font-weight="normal" fill="#111" stroke="#111" stroke-width="0.12" >62%</text>
<rect x="328.6" y="53.7" width="84.0" height="84.3" fill="#fff" stroke="#8c8c8c" stroke-width="1"/>
<path d="M327.2 61.2h1.4M327.2 79.7h1.4M327.2 98.1h1.4M327.2 116.5h1.4M327.2 135.0h1.4M347.5 138v1.4M367.7 138v1.4M387.9 138v1.4M408.1 138v1.4" stroke="#555" stroke-width="0.9" fill="none"/>
<path d="M330.6 138H410.6" stroke="#777" stroke-width="1" stroke-dasharray="0.9 1.7" fill="none"/>
<path d="M328.6 56.7V136" stroke="#888" stroke-width="1" stroke-dasharray="0.9 2.2" fill="none"/>
<rect x="327.1" y="128.1" width="1.5" height="1.5" fill="#222"/><rect x="336.8" y="137.8" width="1.5" height="1.5" fill="#222"/>
<path d="M375.6 113.5h0M369.1 106.0h0M379.1 110.3h0M371.9 102.2h0M377.3 104.9h0M368.9 111.1h0M376.5 109.1h0M373.1 113.2h0M375.4 113.8h0M375.6 111.8h0M372.5 104.1h0M372.4 100.9h0M371.2 111.9h0M370.7 105.6h0M370.0 106.9h0M369.5 103.1h0M369.8 104.5h0M377.3 113.2h0M376.4 106.7h0M374.8 104.7h0M369.2 108.8h0M374.8 101.6h0M367.1 107.1h0M370.4 110.1h0M377.4 109.5h0M375.1 114.7h0M368.9 107.3h0M374.4 116.8h0M370.1 105.3h0M368.6 103.5h0M372.1 104.2h0M372.1 115.6h0M374.7 113.4h0M375.9 111.6h0M371.6 112.0h0M377.9 110.5h0M367.7 102.6h0M372.3 100.9h0M369.4 115.0h0M374.1 100.9h0M373.7 104.0h0M372.5 115.2h0M372.9 115.6h0M374.4 104.3h0M376.9 112.9h0M379.7 106.6h0M372.1 116.2h0M377.3 105.3h0M374.4 115.3h0M376.6 108.9h0M376.6 109.4h0M370.9 105.4h0M374.3 114.8h0M378.0 107.6h0M379.6 105.1h0M371.1 111.4h0M369.4 111.2h0M370.2 109.5h0M369.8 107.6h0M368.3 102.8h0M376.6 107.9h0M371.3 112.5h0M372.8 103.3h0M376.4 107.9h0M368.7 106.3h0M370.4 110.4h0M376.6 112.4h0M369.8 109.6h0M369.1 110.7h0M373.2 116.2h0M369.7 110.3h0M374.7 99.5h0M372.9 113.1h0M372.7 115.4h0M374.0 113.0h0M370.0 104.7h0M371.4 112.3h0M367.5 110.0h0M369.9 107.4h0M369.5 108.4h0M365.7 100.7h0M378.0 107.7h0M371.1 103.8h0M370.3 105.8h0M367.4 107.7h0M370.6 103.6h0M372.6 113.6h0M376.4 105.2h0M379.1 110.0h0M376.6 109.5h0M377.1 106.4h0M376.6 103.3h0M372.0 112.5h0M378.0 111.5h0M368.1 109.4h0M375.6 112.3h0M373.9 115.8h0M375.3 100.7h0M379.9 106.2h0M379.0 108.5h0M369.5 108.5h0M377.4 105.7h0M377.8 113.3h0M378.1 108.6h0M369.0 108.0h0M370.9 112.1h0M376.5 104.4h0M377.4 106.2h0M375.7 103.2h0M373.5 114.0h0M370.4 106.4h0M373.1 102.5h0M369.2 110.4h0M375.2 103.9h0M375.7 100.3h0M379.3 110.8h0M369.0 109.9h0M374.7 104.0h0M372.0 113.6h0M375.1 114.1h0M369.8 104.6h0M367.7 101.4h0M370.5 105.8h0M374.8 102.5h0M377.2 107.5h0M372.3 103.6h0M377.3 106.7h0M377.6 110.3h0M373.1 102.7h0M371.4 104.4h0M373.3 113.5h0M367.4 103.5h0M376.3 106.0h0M371.3 112.4h0M374.4 104.1h0M365.9 110.9h0M377.4 107.7h0M369.6 109.0h0M374.9 112.6h0M371.1 112.4h0M374.2 113.1h0M379.0 107.6h0M371.1 111.4h0M370.5 112.3h0M374.9 112.1h0M372.4 104.4h0M369.4 108.2h0M366.8 112.5h0M369.7 106.0h0M374.6 101.9h0M372.7 112.7h0M373.0 104.2h0M379.0 108.3h0M377.0 112.6h0M376.4 111.9h0M375.1 113.3h0M375.4 105.5h0M366.7 110.7h0M368.9 105.8h0M379.1 106.5h0M375.1 104.3h0M372.3 104.3h0M377.7 106.7h0M377.1 100.5h0M370.2 114.4h0M378.0 108.8h0M370.3 103.7h0M373.7 104.3h0M376.9 104.6h0M370.4 111.5h0M370.7 111.7h0M370.0 105.8h0M372.6 112.3h0M371.6 112.2h0M376.1 111.6h0M379.2 108.8h0M374.1 112.6h0M373.0 113.2h0M374.2 102.0h0M370.2 111.2h0M379.2 110.6h0M375.1 116.9h0M370.1 110.0h0M369.0 107.9h0M374.3 103.1h0M377.6 110.1h0M376.0 111.2h0M376.8 107.2h0M372.9 103.8h0M368.4 105.4h0M374.0 112.9h0M368.7 112.8h0M376.9 105.9h0M377.7 105.2h0M377.4 105.5h0M372.1 114.2h0M376.5 113.8h0M369.8 110.4h0M367.0 106.6h0M365.8 109.0h0M365.0 107.9h0M376.5 105.5h0M378.3 112.0h0M372.2 117.6h0M377.1 114.0h0M370.2 107.9h0M373.5 104.1h0M376.5 108.1h0M373.0 103.8h0M368.7 109.5h0M375.4 104.5h0M376.5 113.6h0M375.3 100.1h0M365.7 113.1h0M372.7 113.0h0M378.1 111.5h0M375.9 111.0h0M368.3 108.0h0M371.1 102.8h0M370.0 109.6h0M370.9 113.7h0M369.5 108.6h0M376.1 106.4h0M370.1 104.2h0M369.2 101.8h0M377.4 107.1h0M372.9 113.7h0M368.8 104.8h0M375.1 112.9h0M371.2 104.3h0M376.5 105.3h0M376.3 106.0h0M370.0 102.5h0M373.2 103.6h0M372.3 101.9h0M368.6 110.4h0M376.7 114.0h0M374.7 118.5h0M377.3 103.4h0M375.9 104.3h0M372.6 103.8h0M376.8 105.2h0M368.6 110.4h0M367.2 103.8h0M373.5 115.0h0M370.1 101.8h0M372.1 113.1h0M377.4 104.1h0M371.7 102.1h0M371.1 105.0h0M374.4 112.3h0M379.5 107.6h0M373.6 114.9h0M375.1 113.8h0M376.7 106.8h0M377.0 105.8h0M377.3 110.7h0M376.3 105.4h0M375.3 113.5h0M372.5 118.2h0M372.5 114.3h0M373.0 103.5h0M376.1 101.8h0M372.7 112.4h0M377.8 110.0h0M378.8 110.1h0M374.9 103.1h0M374.9 116.7h0M377.3 108.0h0M375.5 115.1h0M370.3 105.4h0M374.5 101.1h0M370.3 112.7h0M370.3 115.2h0M371.4 112.4h0M373.1 113.8h0M372.5 102.1h0M374.3 114.1h0M371.4 103.5h0M371.2 111.9h0M373.0 114.4h0M370.5 103.1h0M371.1 102.1h0M371.0 103.2h0M375.1 104.6h0M372.4 112.6h0M377.2 104.7h0M374.5 112.7h0M375.1 102.2h0M378.4 109.7h0M372.3 104.4h0M376.4 112.1h0M373.8 112.5h0M368.7 106.6h0M377.4 106.1h0M375.2 104.5h0M370.3 106.9h0M376.6 108.0h0M369.7 111.3h0M379.4 100.2h0M376.7 112.5h0M373.9 103.2h0M368.4 108.0h0M374.0 104.0h0M378.0 110.9h0M370.0 111.3h0M371.6 101.8h0M376.6 107.5h0M369.6 105.8h0M372.8 103.6h0M371.9 103.8h0M376.1 106.4h0M368.1 114.7h0M369.4 111.6h0M375.8 111.8h0M373.0 115.6h0M370.6 104.1h0M369.2 107.4h0M377.4 107.2h0M371.7 115.0h0M376.0 102.4h0M367.7 108.9h0M369.7 101.4h0M368.9 105.1h0M373.5 104.2h0M370.1 106.7h0M371.9 101.2h0M377.7 111.6h0M370.7 113.3h0M376.0 106.1h0M376.5 108.1h0M377.1 107.2h0M376.1 113.4h0M375.2 112.7h0M376.5 108.5h0M371.9 100.7h0M373.6 113.4h0M377.2 108.8h0M376.1 105.6h0M369.3 107.8h0M369.0 108.2h0M375.6 115.0h0M368.3 109.2h0M374.1 115.5h0M373.6 113.0h0M367.5 111.9h0M377.2 102.8h0M376.2 106.6h0M378.2 103.0h0M373.8 117.4h0M372.1 119.4h0M368.5 108.8h0M375.1 101.7h0M367.3 107.4h0M369.3 103.6h0M376.2 106.4h0M374.6 102.6h0M369.6 110.0h0M368.6 107.3h0M378.9 102.0h0M370.7 112.0h0M368.5 106.0h0M373.1 114.5h0M369.5 105.0h0M370.2 105.8h0M372.6 104.2h0M370.8 102.3h0M372.1 100.9h0M372.7 112.7h0M372.4 115.5h0M370.9 104.9h0M369.6 101.2h0M377.8 109.9h0M371.0 104.1h0M372.4 113.3h0M370.2 111.3h0M376.1 104.9h0M377.4 106.1h0M371.2 115.5h0M377.6 108.0h0M370.4 113.3h0M373.6 115.1h0M368.5 110.3h0M367.2 110.3h0M379.2 107.4h0M377.0 111.5h0M371.5 98.4h0M377.1 110.3h0M379.7 113.3h0M374.8 113.1h0M370.1 108.6h0M370.0 116.0h0M371.0 104.2h0M370.6 100.0h0M377.5 112.1h0M370.5 102.7h0M365.4 107.4h0M367.9 103.7h0M370.0 109.0h0M371.7 101.9h0M375.9 115.4h0M369.0 103.8h0M376.1 113.4h0M370.0 110.7h0M372.5 102.4h0M373.7 120.3h0M368.3 111.1h0M376.1 111.4h0M373.9 112.5h0M369.6 108.2h0M376.4 105.4h0M375.3 104.3h0M374.1 114.6h0M368.8 106.5h0M369.9 105.3h0M370.2 106.2h0M370.9 116.0h0M369.8 100.3h0M369.9 106.1h0M369.3 103.4h0M377.1 108.5h0M368.2 113.7h0M376.5 112.3h0M371.2 105.1h0M377.6 114.3h0M370.1 106.1h0M369.9 111.8h0M369.4 107.4h0M369.9 112.4h0M380.1 111.0h0M374.4 114.3h0M376.4 105.1h0M369.3 112.0h0M377.9 108.2h0M369.7 111.2h0M368.4 109.9h0M374.1 112.7h0M367.7 107.6h0M371.9 112.1h0M373.0 103.6h0M369.8 107.4h0M371.0 112.7h0M370.8 110.7h0M373.8 113.2h0M373.4 102.3h0M379.5 108.1h0M372.9 113.6h0M375.9 111.7h0M372.2 102.7h0M377.8 103.6h0M369.2 105.9h0M371.2 112.3h0M368.7 103.7h0M373.9 103.5h0M368.1 106.1h0M370.1 105.1h0M374.5 112.6h0M369.7 117.9h0M370.1 108.4h0M371.7 112.9h0M368.8 110.2h0M376.4 107.3h0M377.6 100.0h0M378.0 112.7h0M377.3 109.3h0M376.7 104.9h0M370.2 107.1h0M374.5 112.3h0M378.6 105.6h0M377.2 107.7h0M377.5 106.4h0M371.1 113.7h0M376.6 108.9h0M376.6 106.2h0M377.0 108.5h0M367.8 109.1h0M369.8 106.4h0M377.4 110.6h0M377.3 108.5h0M372.3 112.3h0M372.6 102.4h0M377.1 108.1h0M370.3 105.9h0M376.2 106.4h0M377.6 103.7h0M375.9 111.5h0M372.4 112.4h0M370.3 110.2h0M376.6 110.5h0M367.8 104.8h0M376.1 105.6h0M369.0 107.4h0M369.4 109.7h0M371.0 111.3h0M372.9 103.9h0M371.1 112.3h0M369.6 103.2h0M374.6 113.1h0M369.7 107.2h0M369.7 107.5h0M376.7 106.4h0M369.5 109.7h0M365.0 104.9h0M374.6 120.5h0M377.5 107.9h0M378.7 107.7h0M377.6 112.5h0M366.2 104.8h0M376.7 108.9h0M373.7 115.4h0M374.2 115.4h0M370.9 113.6h0M371.9 100.6h0M371.3 114.0h0M370.6 116.5h0M377.8 112.3h0M375.0 113.6h0M370.1 111.8h0M379.8 110.6h0M370.5 105.0h0M377.2 101.0h0M378.1 109.3h0M376.0 103.1h0M369.0 107.7h0M377.2 109.9h0M378.1 104.8h0M370.1 109.0h0M378.0 100.5h0M372.8 101.7h0M373.7 102.9h0M377.2 105.7h0M377.2 103.3h0M368.9 106.7h0M372.8 104.3h0M367.3 111.0h0M374.3 104.2h0M373.7 104.2h0M368.7 104.8h0M375.8 115.1h0M372.6 116.4h0M376.7 101.6h0M366.1 102.7h0M376.8 110.6h0M380.0 111.5h0M374.5 113.5h0M377.1 110.7h0M376.5 107.8h0M370.8 110.6h0M375.9 113.0h0M369.3 107.2h0M378.2 106.1h0M375.7 113.0h0M367.3 109.9h0M377.3 109.3h0M368.1 106.2h0M371.6 104.8h0M368.4 103.7h0M374.5 119.1h0M369.0 105.5h0M373.3 120.1h0M374.4 115.3h0M366.0 104.1h0M376.5 104.8h0M375.3 103.8h0M373.7 102.6h0M373.0 113.9h0M375.5 103.7h0M371.8 112.3h0M372.0 112.2h0M376.0 103.4h0M373.7 114.0h0M374.6 104.1h0M372.5 103.9h0M375.8 104.9h0M375.5 104.6h0M371.4 104.0h0M376.9 109.1h0M371.1 104.4h0M374.2 113.7h0M377.8 103.6h0M381.3 105.3h0M373.1 104.0h0M370.1 107.4h0M379.7 105.7h0M375.4 101.4h0M368.6 106.7h0M376.6 115.2h0M377.0 110.3h0M375.7 112.4h0M369.7 106.4h0M370.4 104.0h0M370.5 112.7h0M375.9 111.9h0M377.0 101.8h0M375.3 102.8h0M371.8 114.8h0M374.6 102.8h0M374.4 104.2h0M376.2 104.6h0M376.9 112.0h0M370.2 109.1h0M370.1 106.7h0M378.0 111.4h0M369.5 110.4h0M371.7 117.0h0M376.7 110.9h0M370.3 100.2h0M377.2 111.0h0M372.6 101.0h0M375.9 118.2h0M368.2 97.4h0M371.4 103.8h0M370.2 107.0h0M377.2 105.7h0M380.8 113.0h0M367.5 104.8h0M373.7 103.9h0M372.5 113.3h0M368.8 104.0h0M370.3 106.1h0M370.1 109.1h0M367.5 108.1h0M369.1 109.3h0M376.6 115.3h0M374.0 104.3h0M376.1 105.7h0M374.8 112.8h0M367.3 112.8h0M368.2 101.6h0M375.5 102.6h0M373.9 113.4h0M376.7 103.1h0M377.4 105.7h0M369.2 107.2h0M375.3 104.2h0M376.2 111.7h0M369.9 110.3h0M369.8 98.4h0M376.2 111.9h0M370.8 111.6h0M373.6 97.2h0M370.0 106.5h0M370.0 106.7h0M370.7 102.2h0M371.7 103.8h0M369.0 105.2h0M368.5 107.7h0M369.9 106.9h0M376.6 105.5h0M370.4 110.9h0M371.8 114.5h0M368.3 108.3h0M377.7 111.5h0M369.1 108.5h0M378.5 106.3h0M377.8 103.9h0M374.2 102.7h0M374.2 102.1h0M370.3 111.9h0M377.3 109.1h0M366.3 111.3h0M372.4 104.0h0M371.6 101.1h0M370.3 104.1h0M373.2 112.9h0M370.4 110.5h0M377.9 113.7h0M377.5 109.0h0M369.8 114.7h0M374.9 103.9h0M369.7 110.0h0" stroke="#000" stroke-width="0.9" stroke-linecap="square" fill="none"/>
<path d="M372.2 111.7h0M373.6 119.2h0M372.3 114.1h0M373.7 117.6h0M374.4 116.7h0M371.7 116.2h0M372.8 108.9h0M374.8 116.4h0M375.0 114.3h0M374.0 114.3h0M373.1 117.5h0M372.9 116.5h0M372.7 118.5h0M373.8 109.1h0M375.4 115.9h0M372.0 112.5h0M376.0 114.8h0M373.6 116.4h0M371.8 120.2h0M376.1 112.0h0M374.6 109.2h0M372.3 114.7h0M372.9 116.4h0M373.4 115.7h0M372.6 115.5h0M371.9 120.9h0M372.9 118.5h0M373.0 114.0h0M372.5 110.3h0M376.1 115.9h0M373.0 113.0h0M374.8 113.4h0M372.1 112.7h0M375.3 115.5h0M372.6 112.4h0M374.8 115.4h0M372.3 117.4h0M374.2 111.3h0M374.6 118.1h0M372.4 110.2h0M374.5 113.4h0M372.5 113.6h0M372.4 117.2h0M371.1 116.2h0M374.6 117.9h0M373.9 115.4h0M372.5 114.1h0M371.4 119.9h0M372.6 111.2h0M374.1 119.4h0M373.2 113.5h0M371.0 116.6h0M372.4 112.4h0M373.8 110.3h0M374.0 106.6h0M371.8 109.9h0M372.4 117.1h0M370.8 118.9h0M371.7 112.9h0M374.4 112.1h0M375.1 113.8h0M372.7 111.4h0M374.6 114.3h0M372.0 111.4h0M371.8 114.2h0M371.7 117.1h0M372.8 112.5h0M373.5 119.1h0M369.5 115.7h0M374.5 114.9h0M374.1 109.5h0M371.6 117.8h0M372.7 114.7h0M373.8 115.7h0M373.5 112.9h0M372.3 118.7h0M372.0 109.9h0M372.3 117.4h0M375.6 115.0h0M371.8 116.5h0M373.3 118.3h0M373.6 116.9h0M373.6 115.9h0M371.4 114.0h0M375.3 118.8h0M374.3 115.8h0M372.7 115.6h0M372.3 118.0h0M372.3 112.1h0M370.3 119.5h0M371.6 111.7h0M373.5 120.3h0M373.9 113.4h0M373.7 111.8h0M372.4 114.6h0M372.9 117.0h0M373.7 120.6h0M374.1 113.6h0M373.2 111.8h0M371.9 113.4h0M374.4 112.3h0M370.4 111.2h0M371.0 113.9h0M372.4 110.8h0M371.6 113.2h0M373.5 116.5h0M374.9 113.7h0M373.8 114.8h0M371.1 112.5h0M376.3 114.0h0M375.4 117.2h0M375.4 113.9h0M374.3 113.5h0M371.1 110.8h0M373.5 109.3h0M373.4 111.7h0M373.4 110.1h0M374.2 113.8h0M370.5 109.9h0M373.0 109.3h0M373.4 116.1h0M371.8 119.0h0M375.1 115.5h0M373.6 116.0h0M372.5 118.7h0M372.0 106.4h0M372.9 115.9h0M374.1 111.0h0M375.0 111.9h0M373.8 116.9h0M373.1 118.1h0M372.1 121.1h0M373.6 113.2h0M376.9 114.5h0M370.4 119.1h0M375.3 112.7h0M371.3 118.1h0M373.0 111.4h0M372.1 114.7h0M374.4 119.5h0M371.9 119.4h0M370.5 116.8h0M372.6 115.9h0M372.2 112.2h0M373.3 118.1h0M369.4 114.7h0M372.2 111.1h0M370.8 116.2h0M373.7 116.6h0M369.8 109.6h0M371.9 113.1h0M375.6 113.3h0M373.1 117.7h0M375.5 115.7h0M373.4 120.7h0M372.2 108.7h0M371.7 113.5h0M374.9 115.5h0M374.7 114.8h0M372.9 112.7h0M371.0 116.1h0M373.4 116.4h0M372.0 113.2h0M373.5 116.5h0M375.9 111.7h0M374.4 117.4h0M372.5 115.0h0M372.8 119.4h0M376.8 115.5h0M372.5 117.6h0M373.6 113.9h0M374.0 117.3h0M372.3 117.2h0M369.4 110.4h0M372.4 115.0h0M370.6 119.3h0M372.3 115.0h0M372.8 116.9h0M372.0 116.9h0M371.6 109.7h0M373.7 115.0h0M374.2 108.3h0M373.0 112.4h0M372.6 113.2h0M372.3 112.4h0M374.4 109.0h0M370.3 115.6h0M376.0 112.0h0M371.5 110.7h0M371.3 118.5h0M373.9 117.4h0M373.4 115.3h0M372.0 111.4h0M373.8 122.5h0M372.3 118.6h0M371.8 114.6h0M375.5 114.3h0M373.9 112.7h0M375.8 110.5h0M373.7 113.7h0M373.2 115.7h0M374.9 117.3h0M374.5 115.7h0M371.2 118.8h0M375.2 116.1h0M374.1 113.8h0M370.6 117.7h0M371.7 120.7h0M373.9 114.4h0M371.9 114.9h0M371.3 113.3h0M375.3 113.6h0M375.7 114.2h0M373.5 111.5h0M372.4 113.1h0M370.7 120.8h0M373.8 114.2h0M371.2 114.6h0M371.2 111.4h0M372.6 121.5h0M370.2 116.3h0M372.0 105.1h0M370.7 114.1h0M373.0 112.1h0M375.6 116.2h0M371.9 109.2h0M373.1 112.3h0M374.4 111.1h0M374.7 113.0h0M373.2 113.6h0M373.8 118.2h0M372.0 111.6h0M375.8 117.6h0M375.8 117.6h0M373.1 119.8h0M371.8 113.1h0M372.2 116.7h0M371.5 113.9h0M371.5 113.7h0M374.6 118.1h0M372.5 122.8h0M371.8 116.0h0M372.1 107.3h0M371.0 118.5h0M370.3 124.0h0M372.7 115.4h0M374.8 114.6h0M371.9 112.5h0M371.4 116.3h0M372.1 116.2h0M370.5 113.1h0M376.1 115.7h0M372.7 118.4h0M373.3 119.5h0M371.0 117.0h0M371.2 116.7h0M376.7 119.5h0M371.5 115.9h0M373.6 112.2h0M373.2 111.0h0M374.4 117.5h0M372.6 116.7h0M376.6 114.0h0M369.9 115.6h0M372.1 112.0h0M374.3 117.8h0M373.8 119.8h0M371.9 113.2h0M373.5 105.7h0M368.6 115.6h0M372.5 114.7h0M371.4 115.2h0M374.5 112.5h0M373.7 114.0h0M372.6 114.9h0M375.2 116.2h0M373.9 115.0h0M369.5 117.6h0M372.8 114.8h0M372.1 109.5h0M375.2 120.5h0M375.3 108.5h0M373.7 110.7h0M372.6 112.8h0M371.9 112.0h0M372.1 117.0h0M375.3 117.5h0M372.8 114.0h0M372.5 114.4h0M371.9 113.9h0M374.2 113.8h0M371.6 114.1h0M373.0 114.3h0M372.4 116.8h0M372.8 111.2h0M373.7 112.2h0M374.0 117.2h0M373.6 115.5h0M370.7 113.9h0M373.0 116.6h0" stroke="#000" stroke-width="0.9" stroke-linecap="square" fill="none"/>
<path d="M368.8 110.0h0M367.2 112.1h0M373.4 111.8h0M379.4 115.7h0M372.3 107.4h0M371.4 116.0h0M376.6 107.8h0M372.6 108.3h0M375.7 112.2h0M370.3 105.4h0M378.0 102.2h0M366.2 91.6h0M380.8 107.6h0M376.3 114.5h0M376.3 118.2h0M371.3 110.9h0M376.8 114.5h0M370.2 106.2h0M367.6 112.7h0M371.0 101.2h0M370.9 113.1h0M373.8 109.6h0M373.7 115.1h0M368.5 105.9h0M376.8 115.7h0M367.7 106.4h0M378.6 115.8h0M372.5 117.5h0M378.3 119.9h0M367.7 102.8h0M371.1 110.7h0M371.7 112.6h0M378.7 118.0h0M376.9 111.0h0M379.4 113.9h0M374.0 110.9h0M366.0 124.6h0M373.0 116.7h0M381.8 109.8h0M368.6 117.4h0M374.0 105.1h0M376.8 111.1h0M369.4 95.1h0M369.3 113.4h0M369.1 117.1h0M381.5 113.0h0M373.9 110.5h0M376.4 111.2h0M377.1 120.0h0M376.4 105.0h0M375.6 109.4h0M374.3 117.1h0M370.5 112.3h0M378.7 105.8h0M372.3 115.6h0M372.2 117.5h0M369.2 101.6h0M374.5 110.2h0M374.3 117.1h0M377.1 108.8h0M371.6 98.8h0M369.3 112.6h0M373.9 101.7h0M376.1 110.8h0M377.3 108.8h0M376.8 104.1h0M365.9 106.0h0M375.8 113.6h0M365.8 111.9h0M375.7 121.6h0M376.1 114.2h0M367.0 113.4h0M365.5 109.2h0M371.6 104.9h0M369.2 110.1h0M375.3 107.0h0M374.2 115.5h0M373.0 123.0h0M371.9 106.4h0M365.7 117.7h0M375.7 109.9h0M374.3 110.2h0M376.4 111.0h0M373.9 110.5h0M369.7 97.1h0M375.2 103.2h0M374.6 115.0h0M380.3 106.4h0M373.6 117.0h0M370.5 107.3h0M374.8 124.0h0M377.2 117.0h0M369.4 115.2h0M377.5 103.1h0M373.1 109.8h0M375.6 100.1h0M375.8 111.0h0M372.0 97.8h0M365.1 107.6h0M375.6 113.7h0M376.0 100.4h0M373.8 119.4h0M367.1 115.1h0M370.3 114.4h0M373.4 100.8h0M369.0 119.0h0M372.6 118.8h0M374.4 116.6h0M371.5 112.4h0M371.6 116.7h0M370.8 117.9h0M379.1 103.4h0M372.4 114.4h0M379.9 118.2h0M373.4 100.2h0M376.3 107.3h0M373.8 113.5h0M367.6 117.7h0M376.6 114.6h0M375.4 113.2h0M367.7 107.8h0M376.2 109.0h0M373.2 113.3h0M373.4 112.6h0M374.9 111.0h0M368.8 109.3h0M376.7 106.8h0M374.9 112.9h0M369.7 93.4h0M373.0 106.2h0M370.6 116.8h0M370.1 113.2h0M373.5 112.3h0M380.7 98.7h0M376.8 110.1h0M372.0 106.9h0M373.2 111.3h0M369.5 121.2h0M370.2 110.2h0M368.2 112.0h0M374.4 117.8h0M376.8 107.9h0M379.2 110.4h0M379.0 121.7h0M371.5 104.3h0M375.1 120.0h0M374.6 117.8h0M375.3 116.5h0M378.2 109.2h0M367.6 110.3h0M370.0 103.6h0M372.4 115.5h0M366.0 101.6h0M376.1 105.5h0M371.5 119.4h0M377.4 113.2h0M375.1 94.1h0M375.2 113.4h0M367.7 112.1h0M374.8 110.3h0M376.1 116.5h0M373.3 109.5h0M368.5 118.1h0M370.8 113.0h0M378.9 115.8h0M368.2 110.5h0M370.3 100.8h0M370.0 114.6h0M374.4 109.7h0M373.7 103.8h0M370.1 110.0h0M376.1 109.0h0M372.4 113.1h0M378.7 103.2h0M375.1 112.2h0M372.8 112.5h0M365.4 111.2h0M372.1 103.3h0M376.3 110.3h0M371.7 115.7h0M369.5 106.6h0M376.2 116.4h0M380.8 108.2h0M367.5 101.8h0M368.4 111.7h0M372.1 106.8h0M369.2 106.7h0M371.6 118.4h0M375.4 119.5h0M376.2 115.7h0M377.6 113.8h0M379.0 118.0h0M380.0 112.4h0M370.1 126.6h0M372.0 114.2h0M371.6 106.7h0M374.7 104.1h0M372.4 119.8h0M373.5 116.1h0M375.5 113.4h0M373.4 114.8h0M369.3 114.6h0M368.9 106.3h0M370.8 102.7h0M365.5 113.4h0M375.0 115.1h0M381.5 112.1h0M375.9 106.4h0M375.8 103.9h0M380.6 105.0h0M371.5 115.7h0M364.6 119.3h0M369.4 112.2h0M376.8 112.0h0M376.6 107.9h0M375.3 97.5h0M378.8 106.9h0M369.7 111.1h0M379.6 106.6h0M372.9 108.8h0M369.4 102.9h0M375.3 115.4h0M370.1 112.4h0M374.8 113.4h0M372.4 111.3h0M374.1 104.4h0M372.5 115.9h0M370.9 119.2h0M372.1 104.2h0M371.9 102.6h0M375.4 101.1h0M373.1 109.5h0M371.9 113.6h0M374.1 107.5h0M376.2 108.2h0M376.5 119.3h0M374.5 116.8h0M367.9 114.5h0M367.3 109.9h0M375.7 94.3h0M370.0 106.2h0M369.4 111.1h0M375.5 103.8h0M370.6 99.5h0M370.3 98.0h0M367.2 113.9h0M376.4 106.0h0M374.4 106.2h0M377.1 121.9h0M363.5 105.6h0M370.5 108.0h0M379.0 120.8h0M373.0 115.0h0M366.9 109.2h0M371.9 110.1h0M374.2 101.3h0M369.0 124.3h0M366.3 111.4h0M375.8 114.1h0M373.2 101.0h0M371.2 101.3h0M380.6 113.2h0M375.8 112.3h0M371.5 118.3h0M376.4 115.0h0M375.2 115.6h0M371.9 113.7h0M373.3 109.4h0M375.5 124.3h0M365.2 119.9h0M371.3 118.5h0M369.1 109.9h0M376.9 110.6h0M374.4 103.5h0M368.6 121.4h0M373.6 110.5h0M367.7 104.6h0M369.0 110.7h0M372.6 107.2h0M370.4 111.7h0M377.5 102.3h0M367.5 118.0h0M367.5 108.5h0M373.5 122.3h0M365.2 93.0h0M372.7 117.7h0M373.6 106.0h0M373.7 98.2h0M376.2 120.2h0M372.2 116.1h0M368.9 120.2h0M370.5 106.0h0M370.1 100.0h0M375.6 123.5h0M367.5 109.8h0M374.7 107.5h0M367.0 113.1h0M376.9 111.7h0M368.9 109.1h0M365.6 110.6h0M377.7 117.9h0M372.7 113.7h0M371.0 111.8h0M370.7 112.0h0M371.0 112.2h0M375.7 110.9h0M368.0 114.1h0M372.1 107.9h0M375.2 105.8h0M376.6 114.5h0M370.3 106.7h0M372.5 105.4h0M376.6 97.0h0M373.6 108.8h0M368.8 114.9h0M371.1 113.8h0M371.3 109.2h0M375.0 117.0h0M376.8 110.9h0M378.7 108.9h0M367.8 99.4h0M367.5 105.6h0M366.2 113.0h0M373.1 110.8h0M373.9 110.3h0M372.0 109.0h0M373.2 104.0h0M377.9 120.6h0M373.1 125.2h0M369.3 116.6h0" stroke="#444" stroke-width="0.7" stroke-linecap="square" fill="none"/>
<path d="M364.4 88.9h0M367.4 90.8h0M370.4 90.5h0M372.1 88.5h0M369.1 93.5h0M371.2 88.3h0M374.9 84.8h0M376.0 91.1h0M370.3 79.2h0M374.2 84.5h0M370.3 86.6h0M373.3 89.0h0M363.7 82.9h0M371.2 86.8h0M372.7 88.7h0M375.6 82.6h0M374.5 87.8h0M371.0 89.2h0M368.9 89.4h0M369.3 89.4h0M367.4 91.6h0M364.8 82.9h0M369.8 87.2h0M367.3 84.1h0M370.9 91.0h0M374.5 83.8h0M369.8 84.5h0M364.8 83.9h0M373.9 79.6h0M379.9 90.6h0" stroke="#bbb" stroke-width="0.6" stroke-linecap="square" fill="none"/>
<ellipse cx="373.3" cy="108.4" rx="4.0" ry="5.2" fill="#000" transform="rotate(5 373.3 108.4)"/>
<ellipse cx="372.9" cy="113.5" rx="2.3" ry="4.6" fill="#000" transform="rotate(0 372.9 113.5)"/>
<rect x="335.3" y="63.2" width="71.59999999999997" height="33.599999999999994" fill="none" stroke="#777" stroke-width="1"/>
<text x="361.5" y="43.8" font-size="10.7" text-anchor="middle" font-weight="normal" fill="#111" stroke="#111" stroke-width="0.12" >no peptide</text>
<text x="405.3" y="73.5" font-size="10.3" text-anchor="end" font-weight="normal" fill="#111" stroke="#111" stroke-width="0.12" >1%</text>
<rect x="433.3" y="54.6" width="83.09999999999997" height="83.4" fill="#fff" stroke="#8c8c8c" stroke-width="1"/>
<path d="M431.9 61.2h1.4M431.9 79.7h1.4M431.9 98.1h1.4M431.9 116.5h1.4M431.9 135.0h1.4M452.2 138v1.4M472.4 138v1.4M492.6 138v1.4M512.8 138v1.4" stroke="#555" stroke-width="0.9" fill="none"/>
<path d="M435.3 138H514.4" stroke="#777" stroke-width="1" stroke-dasharray="0.9 1.7" fill="none"/>
<path d="M433.3 57.6V136" stroke="#888" stroke-width="1" stroke-dasharray="0.9 2.2" fill="none"/>
<rect x="431.8" y="128.1" width="1.5" height="1.5" fill="#222"/><rect x="441.5" y="137.8" width="1.5" height="1.5" fill="#222"/>
<path d="M474.1 80.9h0M457.4 79.8h0M473.5 77.7h0M472.2 83.0h0M459.5 74.1h0M461.8 72.5h0M472.2 92.8h0M468.1 88.0h0M473.5 85.3h0M468.1 86.7h0M464.8 70.7h0M466.4 86.6h0M467.6 71.2h0M472.6 81.3h0M471.8 85.4h0M473.3 80.8h0M469.6 95.8h0M463.1 83.1h0M475.2 84.1h0M468.1 72.2h0M463.7 70.9h0M469.9 89.0h0M459.1 79.7h0M466.8 85.1h0M473.5 79.5h0M468.8 87.6h0M468.6 73.5h0M458.3 75.0h0M464.0 73.3h0M474.9 72.0h0M469.0 85.8h0M467.3 71.0h0M460.2 76.2h0M468.8 72.7h0M464.6 84.1h0M473.5 86.1h0M461.9 88.2h0M466.5 73.3h0M460.9 79.1h0M469.3 69.6h0M460.9 85.0h0M461.8 76.0h0M477.7 80.8h0M465.8 68.9h0M463.9 85.6h0M470.4 74.7h0M461.4 78.2h0M462.3 73.5h0M460.7 77.9h0M460.6 81.1h0M466.9 71.9h0M462.6 84.3h0M475.0 77.1h0M469.2 85.7h0M472.6 82.2h0M468.0 73.4h0M478.3 93.7h0M464.1 84.6h0M455.2 82.4h0M463.1 73.3h0M465.1 73.0h0M462.6 85.2h0M470.9 73.2h0M467.4 85.0h0M461.0 85.4h0M464.6 71.3h0M459.6 81.0h0M467.4 70.5h0M469.5 86.5h0M459.4 74.0h0M457.0 83.8h0M472.2 72.4h0M466.5 85.1h0M470.3 72.6h0M471.7 85.8h0M462.6 70.6h0M466.7 73.1h0M464.0 84.9h0M471.4 84.4h0M464.6 73.4h0M470.0 73.2h0M469.9 87.0h0M468.5 72.9h0M475.4 80.3h0M463.1 85.8h0M471.9 73.0h0M466.2 72.1h0M471.2 70.3h0M474.5 75.8h0M462.8 87.5h0M472.6 74.6h0M461.4 81.3h0M476.5 82.7h0M460.2 78.9h0M469.9 86.7h0M472.4 75.6h0M465.9 71.4h0M458.8 77.0h0M469.9 85.6h0M456.9 79.6h0M464.5 69.3h0M466.3 71.9h0M460.9 76.6h0M472.4 79.4h0M462.6 75.0h0M467.9 91.7h0M473.7 83.6h0M463.3 88.6h0M464.1 83.8h0M461.6 81.8h0M463.9 84.3h0M464.7 71.0h0M472.9 81.8h0M463.4 83.5h0M467.1 85.8h0M460.9 78.3h0M466.2 85.4h0M473.5 74.9h0M467.5 86.8h0M469.0 71.0h0M470.0 72.9h0M465.4 84.6h0M473.3 82.0h0M461.5 79.8h0M459.9 85.2h0M464.4 72.1h0M472.5 74.4h0M458.1 77.7h0M468.0 72.9h0M463.9 72.8h0M461.4 85.1h0M469.9 67.8h0M477.3 81.2h0M460.5 82.4h0M467.0 72.2h0M468.6 72.3h0M467.0 89.3h0M459.7 82.7h0M474.3 86.1h0M457.4 77.8h0M460.3 83.4h0M472.9 82.8h0M474.3 84.7h0M472.7 75.1h0M458.0 76.9h0M477.1 79.6h0M465.6 73.1h0M463.8 72.1h0M467.6 85.4h0M462.9 73.7h0M467.5 89.2h0M471.7 89.6h0M474.8 81.8h0M460.9 79.7h0M463.4 73.5h0M470.1 74.8h0M461.7 67.9h0M472.3 87.4h0M459.6 73.7h0M461.0 78.3h0M461.8 72.9h0M474.9 79.1h0M472.8 82.2h0M468.0 86.1h0M462.1 71.5h0M466.5 87.4h0M466.9 69.8h0M467.1 88.9h0M459.7 80.2h0M471.6 84.1h0M468.0 88.4h0M462.5 88.5h0M473.8 79.8h0M473.0 75.9h0M468.1 73.7h0M468.9 85.4h0M473.2 73.7h0M464.8 85.5h0M470.1 73.3h0M467.7 85.7h0M461.6 72.6h0M467.7 85.1h0M468.7 84.9h0M464.3 73.2h0M467.9 73.3h0M465.1 89.3h0M466.6 71.6h0M466.8 71.4h0M469.2 74.0h0M472.4 75.4h0M472.0 71.4h0M460.1 85.2h0M468.7 72.9h0M465.3 85.4h0M471.5 86.1h0M474.9 81.2h0M460.1 75.3h0M473.0 71.0h0M474.1 75.0h0M475.1 91.5h0M472.9 79.4h0M454.2 80.0h0M461.4 78.9h0M462.2 81.9h0M458.9 78.9h0M471.3 76.2h0M471.5 85.5h0M472.1 76.7h0M467.6 73.6h0M475.0 91.2h0M467.1 68.0h0M474.2 79.3h0M476.0 75.8h0M461.1 77.0h0M468.4 68.1h0M457.3 79.5h0M473.3 73.4h0M462.9 71.9h0M458.8 78.0h0M469.6 73.7h0M462.4 86.0h0M458.0 82.1h0M477.0 77.6h0M470.4 86.7h0M457.8 77.0h0M464.6 73.3h0M466.7 71.1h0M475.9 82.7h0M472.6 79.2h0M463.2 86.1h0M451.9 71.3h0M467.4 72.2h0M465.8 72.5h0M461.6 76.1h0M461.2 79.4h0M470.0 85.6h0M475.5 80.6h0M472.4 77.3h0M460.3 86.5h0M466.1 71.3h0M465.8 89.4h0M472.9 71.5h0M460.6 76.2h0M473.1 76.8h0M458.9 83.3h0M473.9 76.5h0M461.6 82.0h0M463.0 70.6h0M466.7 87.6h0M468.6 73.2h0M465.7 86.3h0M477.8 88.0h0M467.5 69.7h0M472.4 88.5h0M463.4 73.8h0M471.7 71.4h0M471.0 74.7h0M465.8 70.3h0M476.9 76.4h0M461.1 74.4h0M464.2 86.9h0M469.6 87.4h0M460.9 74.8h0M468.6 89.0h0M468.6 72.6h0M461.6 72.1h0M466.4 72.3h0M464.1 73.7h0M472.9 78.4h0M473.8 74.6h0M467.1 69.5h0M469.0 85.2h0M466.0 85.3h0M471.3 73.1h0M466.1 73.3h0M474.2 79.1h0M469.7 72.6h0M459.8 85.2h0M462.3 85.7h0M466.8 87.5h0M475.5 71.4h0M471.5 74.9h0M464.3 84.6h0M474.7 68.6h0M462.3 81.7h0M460.6 82.2h0M468.0 89.3h0M473.3 78.5h0M467.5 86.4h0M475.6 78.6h0M461.0 76.4h0M461.3 73.0h0M462.7 83.3h0M465.3 84.6h0M461.0 73.7h0M472.4 76.9h0M470.8 73.5h0M472.9 89.6h0M472.4 76.1h0M459.2 89.5h0M463.3 73.9h0M468.7 71.4h0M476.8 78.1h0M461.3 87.4h0M475.2 71.7h0M459.5 81.0h0M472.3 82.6h0M461.1 78.8h0M462.8 87.1h0M460.8 84.2h0M473.4 76.2h0M463.5 83.4h0M473.4 79.7h0M467.3 73.1h0M471.3 84.6h0M473.1 89.5h0M469.3 85.8h0M475.2 70.7h0M460.0 76.2h0M468.6 72.9h0M473.5 83.6h0M473.6 80.4h0M461.7 80.9h0M464.0 71.9h0M463.6 85.2h0M462.3 84.5h0M461.4 78.2h0M473.7 82.9h0M471.7 85.5h0M464.4 89.6h0M464.1 85.0h0M462.2 74.0h0M460.3 74.9h0M459.7 80.2h0M458.2 80.2h0M469.6 84.5h0M459.6 79.6h0M461.7 76.4h0M477.9 82.0h0M456.0 77.4h0M471.2 88.9h0M467.3 73.6h0M475.1 77.6h0M474.2 84.0h0M472.3 79.3h0M466.9 72.6h0M458.5 84.5h0M462.8 86.8h0M465.3 85.5h0M466.0 72.3h0M471.2 74.7h0M473.1 84.1h0M475.2 77.7h0M465.6 69.2h0M475.1 76.7h0M470.5 75.0h0M452.7 75.4h0M472.9 89.3h0M473.2 72.9h0M456.7 79.1h0M468.3 85.9h0M464.6 71.1h0M458.5 77.8h0M464.4 87.5h0M462.9 71.9h0M461.4 83.2h0M469.0 72.1h0M466.0 87.7h0M467.4 73.4h0M463.5 84.8h0M473.2 83.0h0M460.7 82.1h0M476.5 78.1h0M475.6 74.7h0M463.7 68.0h0M469.9 85.1h0M476.6 78.1h0M459.3 60.1h0M465.5 70.6h0M468.6 87.4h0M468.5 73.4h0M470.3 74.2h0M463.1 71.6h0M474.3 81.4h0M474.9 82.8h0M472.7 73.7h0M460.0 81.3h0M471.3 86.2h0M469.3 72.9h0M462.7 71.6h0M460.5 78.7h0M461.6 80.1h0M466.8 68.7h0M462.4 69.3h0M461.0 77.2h0M461.0 80.3h0M461.8 83.4h0M464.5 84.1h0M468.8 73.3h0M467.9 72.8h0M468.5 92.5h0M468.4 86.8h0M462.5 86.0h0M465.5 87.4h0M463.5 83.4h0M464.6 84.5h0M463.5 83.4h0M459.5 78.8h0M467.6 73.4h0M474.6 81.9h0M471.4 75.6h0M457.7 77.7h0M472.4 79.2h0M473.0 65.6h0M461.7 80.3h0M468.9 89.6h0M468.1 68.1h0M466.6 85.5h0M474.9 83.7h0M464.1 84.8h0M462.5 85.6h0M472.4 77.7h0M460.9 77.4h0M469.6 69.5h0M461.8 72.3h0M471.7 70.1h0M460.6 82.8h0M470.6 87.9h0M458.5 77.6h0M471.1 83.9h0M464.5 89.2h0M460.2 78.5h0M463.1 83.6h0M466.5 86.2h0M461.8 83.7h0M461.5 80.6h0M458.4 83.2h0M478.7 80.2h0M466.1 88.6h0M473.3 84.1h0M471.0 87.4h0M467.4 90.2h0M463.1 84.7h0M473.1 77.0h0M469.5 71.9h0M466.3 87.1h0M460.7 79.3h0M463.6 71.8h0M470.3 75.0h0M464.5 72.7h0M471.5 73.3h0M473.7 76.0h0M466.7 86.4h0M462.7 84.5h0M461.8 76.5h0M473.1 72.9h0M461.1 75.5h0M476.6 86.4h0M467.4 73.5h0M477.7 86.1h0M461.1 74.9h0M460.7 83.5h0M461.3 74.7h0M457.3 78.1h0M462.2 69.1h0M473.5 83.2h0M475.3 77.6h0M469.8 89.1h0M473.3 81.4h0M460.0 77.2h0M458.9 82.7h0M473.6 76.6h0M468.7 89.4h0M467.3 85.6h0M467.5 89.4h0M473.3 77.6h0M472.6 70.6h0M459.2 82.7h0M467.3 71.7h0M465.8 85.4h0M465.2 88.1h0M465.2 85.1h0M472.8 74.8h0M476.5 83.5h0M469.6 72.8h0M468.6 73.0h0M460.8 78.7h0M471.3 74.8h0M459.3 82.0h0M466.8 85.6h0M462.1 82.9h0M466.4 71.7h0M470.3 85.6h0M458.5 80.9h0M469.6 87.4h0M471.9 76.8h0M461.0 85.1h0M460.8 78.7h0M468.4 72.5h0M473.8 91.7h0M462.8 74.1h0M462.0 82.8h0M472.1 84.2h0M469.6 84.6h0M473.8 76.5h0M461.7 67.4h0M465.3 85.8h0M476.0 81.0h0M470.0 73.3h0M468.9 70.7h0M467.1 85.2h0M460.3 81.2h0M472.1 74.3h0M470.6 87.5h0M466.2 85.7h0M463.8 73.5h0M473.4 81.5h0M468.5 68.1h0M464.3 85.0h0M474.6 76.9h0M456.7 80.5h0M460.6 88.0h0M460.1 88.3h0M458.6 72.4h0M468.7 87.1h0M465.9 89.1h0M466.0 72.0h0M465.0 85.7h0M465.5 85.8h0M461.5 84.1h0M458.7 74.5h0M461.2 71.8h0M468.4 85.2h0M472.3 83.5h0M459.7 77.5h0M469.5 85.7h0M457.3 79.4h0M468.1 86.1h0M461.9 71.8h0M466.3 87.0h0M471.7 74.6h0M470.0 84.8h0M457.8 82.6h0M460.7 82.8h0M469.9 87.8h0M468.3 68.2h0M476.3 72.6h0M460.1 81.0h0M457.9 80.9h0M462.6 82.2h0M461.7 75.8h0M462.4 83.3h0M475.1 74.7h0M473.3 81.0h0M464.7 86.5h0M461.6 76.6h0M457.9 79.1h0M460.5 78.9h0M457.3 76.0h0M471.2 87.4h0M461.7 74.3h0M466.6 87.3h0M460.0 88.1h0M463.4 72.7h0M461.2 75.6h0M459.5 81.5h0M468.1 86.8h0M470.1 73.3h0M472.4 80.7h0M464.3 71.2h0M465.6 73.3h0M460.8 86.1h0M471.1 83.4h0M467.2 73.2h0M470.9 74.8h0M472.1 77.7h0M470.2 74.5h0M461.4 76.5h0M469.7 66.8h0M470.4 90.2h0M466.1 71.1h0M476.6 81.2h0M461.4 86.4h0M463.5 71.2h0M472.4 81.3h0M453.5 75.1h0M460.5 77.1h0M470.0 87.4h0M474.7 81.4h0M461.5 86.9h0M466.3 85.9h0M469.9 85.6h0M467.8 85.3h0M468.1 85.4h0M469.2 69.5h0M464.6 86.2h0M463.7 87.5h0M473.2 78.1h0M470.4 87.9h0M472.9 77.1h0M472.5 79.9h0M470.1 74.2h0M476.1 77.9h0M461.9 74.1h0M464.2 84.5h0M461.2 82.5h0M467.5 89.7h0M469.5 72.0h0M461.8 75.6h0M460.6 91.5h0M473.5 88.3h0M464.9 68.0h0M467.7 69.6h0M464.7 72.2h0M474.9 74.7h0M461.4 80.1h0M462.4 83.6h0M463.5 85.6h0M458.6 78.5h0M460.1 71.1h0M467.1 85.6h0M478.2 80.7h0M470.2 74.4h0M479.5 78.2h0M472.6 77.9h0M461.6 70.2h0M462.2 75.5h0M475.4 81.9h0M471.6 74.4h0M466.5 85.2h0M460.7 77.4h0M473.8 87.0h0M453.9 69.1h0M472.6 83.8h0M472.4 67.3h0M472.0 75.6h0M471.3 83.6h0M464.7 86.4h0M472.2 84.2h0M466.7 87.0h0M477.2 76.8h0M475.3 82.5h0M473.4 81.7h0M474.5 77.2h0M465.5 65.3h0M475.6 77.7h0M467.1 90.4h0M461.1 76.2h0M473.2 72.8h0M474.4 80.9h0M468.0 85.2h0M457.5 75.4h0M461.9 81.9h0M471.9 84.1h0M476.4 81.8h0M461.2 80.8h0M459.9 76.4h0M459.0 68.7h0M460.7 73.1h0M469.4 85.0h0M464.9 72.8h0M463.6 72.1h0M461.4 74.7h0M473.0 82.3h0M476.8 83.3h0M472.8 80.2h0M460.4 84.0h0M471.7 86.2h0M467.6 85.1h0M463.0 83.2h0M461.7 85.1h0M473.9 79.0h0M466.1 72.6h0M461.8 71.9h0M477.6 84.7h0M458.7 78.5h0M471.8 76.9h0M461.0 80.9h0M474.0 80.2h0M472.7 76.5h0M459.0 76.5h0M468.8 70.6h0M460.4 74.3h0M463.0 84.1h0M466.2 72.5h0M460.0 72.9h0M469.5 86.8h0M464.8 85.3h0M458.2 76.3h0M464.9 69.3h0M465.4 73.2h0M471.5 68.6h0M472.7 79.0h0M463.0 69.1h0M472.4 75.5h0M474.1 82.7h0M471.4 86.1h0M469.7 67.8h0M467.8 72.7h0M473.3 77.2h0M466.9 86.2h0M470.8 74.6h0M460.7 72.7h0M469.1 87.4h0M475.4 77.5h0M463.8 83.5h0M462.0 73.5h0M463.2 83.7h0M464.8 69.7h0M466.2 73.3h0M477.5 77.4h0M474.1 83.5h0M466.0 87.6h0M464.8 73.5h0M472.6 76.0h0M464.7 85.3h0M472.7 84.9h0M461.7 85.8h0M467.5 86.8h0M460.2 75.4h0M472.0 77.8h0M473.8 74.4h0M461.3 80.1h0M458.5 73.7h0M463.6 87.7h0M465.7 84.6h0M460.7 79.1h0M462.2 74.1h0M476.8 85.7h0M470.5 86.4h0M472.1 83.0h0M462.9 89.2h0M465.4 71.5h0M474.3 91.6h0M469.6 72.0h0M472.7 78.2h0M473.6 87.5h0M461.6 74.3h0M467.7 72.1h0M459.3 82.3h0M460.0 72.3h0M459.0 83.4h0M464.0 84.7h0M460.4 83.4h0M462.3 81.8h0M460.6 74.4h0M458.6 81.0h0M468.7 93.1h0M474.6 80.7h0M458.4 77.1h0M465.5 87.4h0M461.9 75.8h0M456.2 82.9h0M464.6 89.8h0M468.1 70.2h0M462.1 69.5h0M465.6 88.6h0M468.2 72.9h0M460.3 80.0h0M472.8 81.0h0M475.1 83.9h0M475.3 68.6h0M472.9 82.6h0M473.4 72.9h0M464.9 72.5h0M460.2 83.2h0M466.4 72.3h0M465.1 84.4h0M459.2 78.2h0M460.0 69.8h0M468.1 72.4h0M462.0 75.7h0M467.8 71.7h0M465.5 84.7h0M459.2 85.5h0M455.0 73.4h0M473.7 81.6h0M457.5 87.2h0M463.5 84.6h0M463.8 71.7h0M463.1 72.0h0M465.2 73.3h0M464.9 86.1h0M459.3 73.5h0M471.2 74.4h0M466.6 73.0h0M457.8 78.1h0M464.7 69.1h0M460.3 83.3h0M461.4 79.6h0M463.2 74.5h0M458.0 90.1h0M465.2 84.6h0M461.3 80.2h0M458.0 80.4h0M473.0 77.0h0M463.8 84.6h0M461.1 75.1h0M458.6 80.3h0M470.4 75.1h0M459.8 79.1h0M470.6 70.4h0M473.4 80.7h0M464.3 71.8h0M472.8 81.4h0M460.7 80.2h0M464.6 73.1h0M471.0 84.8h0M468.2 72.2h0M463.0 74.4h0M467.4 93.7h0M463.0 72.6h0M472.9 79.2h0M471.2 84.0h0M467.8 89.1h0M471.0 74.6h0M462.9 70.5h0M460.7 83.1h0M476.6 76.5h0M461.2 73.0h0M472.8 83.1h0M461.4 76.4h0M460.0 69.8h0M472.1 75.7h0M461.4 77.8h0M457.8 79.5h0M473.4 81.4h0M457.5 85.4h0M471.9 86.2h0M467.3 71.2h0M460.5 68.8h0M472.4 81.9h0M459.3 76.5h0M470.7 70.8h0M470.0 73.0h0M455.2 83.5h0M472.5 79.0h0M468.3 88.0h0M474.6 86.4h0M472.8 75.7h0M464.3 72.8h0M463.9 85.8h0M462.9 73.6h0M466.2 71.9h0M473.9 83.6h0M463.9 69.2h0M466.3 85.9h0M462.9 86.1h0M465.3 88.1h0M474.1 81.8h0M470.2 84.8h0M462.0 85.8h0M468.7 85.2h0M460.5 78.7h0M469.4 73.4h0M470.0 85.8h0M470.6 72.7h0M462.0 74.6h0M474.8 85.1h0M476.2 78.4h0M459.6 73.7h0M462.8 85.8h0M470.6 75.4h0M462.3 74.6h0M479.3 81.1h0M475.8 89.7h0M462.4 89.9h0M456.5 78.4h0M459.7 80.8h0M461.5 67.8h0M463.2 72.0h0M472.9 83.9h0M459.8 81.2h0M468.7 72.8h0M464.6 71.8h0M470.2 90.6h0M474.0 80.9h0M475.8 90.0h0M472.4 78.7h0M471.6 76.3h0M472.0 77.6h0M462.1 73.4h0M472.2 82.1h0M478.2 81.9h0M460.3 82.8h0M464.9 85.5h0M460.7 82.4h0M472.3 83.6h0M463.2 84.6h0M463.6 70.6h0M470.3 71.8h0M473.7 83.7h0M459.9 74.6h0M476.5 82.2h0M464.5 84.7h0M462.9 84.8h0M470.0 70.6h0M461.3 78.3h0M463.2 71.5h0M468.0 71.9h0M460.2 83.4h0M473.3 81.6h0M460.3 80.3h0M464.0 73.6h0M460.9 86.5h0M457.9 73.6h0" stroke="#000" stroke-width="0.9" stroke-linecap="square" fill="none"/>
<path d="M466.9 79.9h0M473.4 80.4h0M476.4 81.7h0M468.6 80.0h0M468.9 82.8h0M463.4 84.1h0M482.4 84.9h0M467.8 75.1h0M462.6 74.3h0M468.7 75.8h0M476.7 78.4h0M461.8 73.7h0M466.6 78.8h0M472.7 76.1h0M469.1 85.7h0M465.4 69.2h0M468.5 86.1h0M469.5 80.1h0M455.6 88.0h0M466.0 72.5h0M465.1 80.5h0M467.4 74.4h0M481.4 89.0h0M473.1 84.3h0M464.8 72.4h0M459.5 85.2h0M467.6 89.6h0M453.7 86.0h0M469.9 76.8h0M472.4 76.4h0M465.5 82.7h0M468.0 81.6h0M468.4 86.1h0M462.1 67.1h0M461.6 64.6h0M478.7 77.2h0M466.9 81.7h0M462.5 76.2h0M468.6 80.0h0M471.9 78.9h0M463.1 70.5h0M457.1 80.1h0M469.0 77.5h0M474.3 64.5h0M470.9 73.1h0M465.1 78.1h0M462.6 77.5h0M468.8 94.3h0M467.1 84.1h0M472.0 74.7h0M470.0 77.7h0M472.4 76.9h0M473.5 75.2h0M464.3 84.5h0M473.2 85.7h0M479.0 87.4h0M467.0 85.4h0M462.2 84.0h0M469.5 79.1h0M462.8 85.6h0M455.1 77.3h0M458.7 76.6h0M464.5 74.5h0M463.4 81.0h0M478.8 91.7h0M465.9 77.1h0M470.7 75.2h0M458.2 84.5h0M464.7 88.6h0M469.1 71.3h0M468.8 82.9h0M467.4 71.6h0M458.1 89.8h0M450.4 71.9h0M471.9 91.1h0M470.9 80.1h0M469.4 86.9h0M463.9 87.0h0M468.6 81.2h0M469.7 82.0h0M461.6 88.4h0M464.2 77.8h0M453.1 68.1h0M470.5 79.6h0M466.5 77.4h0M470.8 76.3h0M458.3 68.9h0M462.3 81.1h0M475.7 84.2h0M463.0 71.3h0M472.0 83.4h0M466.8 83.5h0M470.6 83.3h0M475.0 71.5h0M463.2 76.1h0M461.2 90.9h0M469.2 82.6h0M471.8 78.9h0M472.1 79.1h0M471.6 83.7h0M474.9 71.6h0M461.6 74.5h0M462.2 81.5h0M472.9 78.4h0M473.5 85.9h0M463.6 83.3h0M475.6 77.9h0M454.0 81.5h0M468.8 83.7h0M470.2 79.9h0M467.0 74.9h0M478.8 90.6h0M466.3 74.5h0M469.7 89.8h0M467.4 74.9h0M472.7 82.0h0M462.4 77.9h0M468.1 73.2h0M468.8 87.7h0M473.4 88.1h0M471.6 79.8h0M470.8 87.7h0M467.4 83.0h0M463.5 79.4h0M464.3 73.0h0M469.5 93.5h0M457.1 75.7h0M468.3 75.5h0M468.2 85.1h0M457.5 78.0h0M470.7 83.8h0M478.0 82.5h0M474.6 77.4h0M461.8 76.0h0M464.6 85.0h0M471.7 80.6h0M461.9 80.1h0M464.7 77.3h0M456.9 88.1h0M470.7 98.3h0M483.1 82.2h0M480.4 79.0h0M483.8 81.7h0M456.3 78.5h0M472.0 90.9h0M473.0 91.4h0M468.3 70.8h0M468.2 74.7h0M472.2 67.6h0M461.4 72.2h0M467.9 86.3h0M465.5 71.8h0M464.2 78.6h0M474.1 81.5h0M475.5 63.7h0M477.8 94.7h0M464.2 96.0h0M458.0 84.5h0M459.5 75.3h0M470.2 81.7h0M469.0 79.0h0M456.2 68.7h0M462.2 73.2h0M464.5 69.2h0M466.5 82.8h0M464.3 87.7h0M468.5 85.8h0M461.9 80.6h0M458.8 67.3h0M456.8 76.2h0M468.7 93.1h0M469.1 77.9h0M473.5 81.4h0M467.3 80.8h0M473.1 90.5h0M458.8 79.5h0M464.4 79.7h0M481.4 80.3h0M452.6 83.4h0M464.4 74.0h0M480.5 93.9h0M473.4 82.3h0M462.9 88.3h0M465.8 81.2h0M466.2 80.8h0M455.4 71.0h0M459.6 65.6h0M460.3 76.0h0M466.1 79.3h0M464.6 86.0h0M454.8 75.1h0M465.8 74.4h0M475.5 80.2h0M473.8 84.1h0M465.6 85.8h0M458.5 71.3h0M464.9 64.9h0M464.7 78.4h0M456.8 72.2h0M459.4 93.5h0M474.8 84.6h0M468.5 88.2h0M467.9 87.6h0M472.5 93.6h0M473.6 77.3h0M470.9 87.3h0M471.2 93.9h0M469.0 77.6h0M472.6 87.6h0M467.2 83.1h0M468.1 81.6h0M469.4 77.8h0M471.7 82.7h0M477.7 83.1h0M468.0 72.5h0M480.8 80.2h0M464.2 77.9h0M467.3 79.3h0M477.4 78.2h0M465.9 77.0h0M470.9 70.3h0M473.3 78.4h0M458.7 87.9h0M459.3 83.2h0M467.4 75.8h0M457.3 74.3h0M471.8 80.0h0M463.8 85.4h0M467.5 80.4h0M462.1 70.8h0M464.5 81.3h0M464.8 81.5h0M465.7 78.2h0M467.0 82.0h0M453.8 78.1h0M466.1 77.0h0M473.1 87.7h0M474.1 85.2h0M470.0 81.0h0M471.8 76.4h0M466.5 81.7h0M466.4 72.1h0M466.7 77.2h0M463.4 83.1h0M473.7 81.1h0M460.3 77.9h0M466.1 73.2h0M463.6 80.2h0M463.7 82.1h0M459.4 82.8h0M463.0 80.0h0M467.3 76.7h0M473.5 69.7h0M468.4 83.8h0M465.8 79.2h0M460.4 78.6h0M468.2 76.2h0M467.3 77.5h0M461.1 78.5h0M462.5 84.5h0M462.5 87.7h0M467.1 79.6h0M462.8 81.8h0M461.0 69.6h0M469.8 67.3h0M474.0 77.3h0M476.7 82.3h0M477.1 72.1h0M464.5 81.0h0M463.8 79.7h0M466.2 83.6h0M475.8 67.6h0M471.0 73.2h0M477.0 71.9h0M462.1 82.2h0M466.1 83.7h0M469.4 75.3h0M457.3 85.5h0M465.9 78.9h0M465.3 77.9h0M462.8 79.5h0M468.7 72.3h0M457.6 81.8h0M472.5 77.0h0M466.2 76.5h0M469.6 79.5h0M463.8 74.6h0M469.9 82.2h0M464.6 81.8h0M448.4 74.7h0M468.2 67.5h0M463.7 80.7h0M474.8 83.0h0M459.7 84.1h0M465.5 84.4h0M458.7 68.7h0M457.5 82.0h0M474.4 82.0h0M468.2 79.1h0M468.4 73.6h0M474.6 85.4h0M473.0 79.9h0M472.3 86.2h0M482.4 88.1h0M462.7 74.3h0M472.5 83.3h0M470.5 80.4h0M462.3 79.9h0M458.3 80.3h0M481.0 85.8h0M462.0 73.8h0M481.8 85.4h0M464.1 82.8h0M465.2 73.0h0M468.1 82.8h0M475.1 73.1h0M476.2 79.3h0M455.1 84.1h0M473.3 83.6h0M472.3 74.9h0M470.3 70.2h0M463.2 94.4h0M477.3 83.3h0M470.3 80.6h0M471.1 81.4h0M461.5 76.8h0M455.5 73.0h0M466.2 81.8h0M480.9 71.6h0M480.1 78.7h0M464.6 78.9h0M480.6 74.8h0M464.9 82.7h0M473.1 82.8h0M468.0 85.7h0M461.3 88.4h0M464.2 81.6h0M461.6 75.3h0M473.3 83.9h0M466.1 84.4h0M487.0 67.4h0M454.7 79.3h0M456.7 84.5h0M462.2 79.0h0M462.1 91.5h0M476.6 70.7h0M471.3 78.4h0M476.3 82.8h0M462.7 76.5h0M467.6 90.0h0M467.8 76.6h0M464.8 84.5h0M465.4 90.0h0M472.7 81.3h0M467.9 77.8h0M452.7 85.0h0M476.5 79.7h0M469.0 71.8h0M466.0 80.7h0M466.8 80.0h0M473.4 84.8h0M472.1 76.9h0M464.1 79.4h0M457.4 69.9h0M469.3 80.0h0M467.8 86.9h0M454.1 80.6h0M465.8 71.7h0M471.4 88.7h0M458.2 78.9h0M473.2 80.7h0M464.5 85.2h0M456.7 78.2h0M463.3 78.8h0M459.5 79.9h0M474.9 83.4h0M459.3 75.7h0M462.6 70.2h0M471.8 83.3h0M466.2 88.5h0M471.7 76.8h0M467.5 79.0h0M467.2 87.7h0M475.1 74.9h0M479.3 71.6h0M465.6 94.2h0M471.5 87.4h0M468.1 82.9h0M463.3 88.1h0M466.0 76.5h0M458.1 91.8h0M458.1 72.5h0M470.3 80.4h0M477.9 84.9h0M469.4 75.3h0M470.6 71.6h0M462.6 87.5h0M469.0 73.1h0M463.4 78.5h0M469.2 81.2h0M472.3 62.6h0M471.8 69.1h0M464.5 80.3h0M473.8 76.9h0M459.1 73.8h0M468.9 94.5h0M459.7 75.8h0M462.9 86.1h0M470.8 79.3h0M469.2 89.6h0M465.6 72.8h0M467.5 72.4h0M468.7 85.3h0M465.1 85.2h0M474.7 91.9h0M465.1 83.1h0M472.3 85.4h0M473.2 83.5h0M471.6 86.0h0M470.3 83.8h0" stroke="#444" stroke-width="0.7" stroke-linecap="square" fill="none"/>
<path d="M472.7 105.7h0M476.0 108.9h0M476.4 100.3h0M479.9 106.6h0M475.7 102.0h0M479.6 108.1h0M478.9 108.7h0M473.0 106.6h0M475.7 108.7h0M480.5 103.5h0M479.2 107.7h0M476.6 102.7h0M472.9 108.3h0M477.7 108.9h0M480.7 107.8h0M477.9 109.0h0M474.1 111.0h0M478.9 99.8h0M477.3 109.9h0M481.7 104.6h0M481.3 102.2h0M473.4 107.2h0M473.5 99.0h0M472.8 102.2h0M480.5 103.7h0M480.8 105.4h0M472.8 108.4h0M473.3 106.2h0M472.0 105.6h0M481.5 105.8h0M478.0 102.3h0M473.7 102.2h0M474.4 108.6h0M472.9 102.9h0M479.6 107.6h0M480.2 102.6h0M472.5 105.9h0M473.0 103.3h0M473.6 104.1h0M474.4 106.9h0M479.8 106.6h0M481.5 108.8h0M475.9 112.1h0M472.9 105.8h0M476.4 109.5h0M478.9 111.1h0M479.3 108.0h0M472.4 106.7h0M478.7 113.4h0M477.6 102.9h0M480.5 100.9h0M481.4 107.1h0M479.7 102.4h0M479.0 102.8h0M481.4 106.7h0M475.5 108.9h0M480.1 107.1h0M474.9 109.7h0M476.2 108.8h0M472.9 104.0h0M481.4 100.9h0M476.8 114.4h0M470.8 110.4h0M476.9 110.2h0M480.1 104.5h0M471.7 108.7h0M481.4 102.3h0M475.1 102.1h0M481.2 106.5h0M479.4 109.3h0M478.7 102.4h0M472.2 110.5h0M474.3 107.2h0M476.0 103.0h0M477.8 109.6h0M473.6 105.8h0M482.0 105.4h0M475.4 109.8h0M480.8 107.4h0M477.8 110.5h0M473.6 103.2h0M476.6 101.4h0M473.3 107.6h0M473.5 110.2h0M479.4 102.7h0M477.5 101.4h0M477.1 102.2h0M478.2 102.8h0M474.4 103.7h0M479.7 102.4h0M477.3 102.6h0M481.6 107.6h0M475.2 103.1h0M480.8 109.4h0M473.8 106.0h0M477.1 102.0h0M481.5 110.7h0M475.9 110.6h0M480.3 103.9h0M471.2 102.5h0M474.3 104.2h0M473.9 106.5h0M480.2 104.8h0M480.0 109.8h0M474.3 101.5h0M475.3 108.8h0M474.0 104.4h0M473.8 106.7h0M481.6 107.4h0M474.0 104.8h0M476.8 102.9h0M481.5 107.9h0M480.3 104.7h0M478.9 108.4h0M475.4 109.8h0M472.9 105.2h0M475.0 108.8h0M476.5 109.5h0M482.3 108.7h0M482.5 103.7h0M473.9 102.8h0M476.1 109.7h0M479.7 107.7h0M480.8 107.2h0M479.4 102.7h0M479.5 108.4h0M471.9 110.9h0M477.4 109.3h0M477.6 102.5h0M475.3 103.3h0M476.1 109.2h0M473.9 105.6h0M480.6 106.5h0M473.9 104.9h0M477.2 109.4h0M481.9 105.9h0M474.5 109.1h0M474.3 107.7h0M477.8 110.0h0M474.3 106.5h0M475.4 108.5h0M473.7 102.9h0M476.1 102.9h0M479.2 102.4h0M476.6 110.0h0M478.5 109.0h0M480.2 107.2h0M477.7 102.0h0M473.1 105.0h0M481.7 103.3h0M475.4 109.6h0M473.4 105.3h0M473.2 104.3h0M480.5 101.2h0M473.2 106.0h0M479.8 103.1h0M473.7 106.0h0M471.5 106.5h0M479.3 108.2h0M480.3 108.2h0M482.9 104.3h0M473.9 108.1h0M475.4 108.4h0M474.0 107.8h0M474.5 111.3h0M480.7 102.3h0M473.3 107.4h0M477.0 102.3h0M474.3 104.3h0M479.9 107.5h0M473.2 102.7h0M477.6 109.9h0M473.9 107.5h0M480.7 103.3h0M478.8 103.0h0M475.7 102.9h0M481.6 109.7h0M478.2 109.3h0M477.5 101.4h0M480.1 107.3h0M480.6 104.9h0M480.4 106.3h0M474.1 108.1h0M476.3 110.0h0M479.8 106.2h0M476.2 109.4h0M473.9 101.2h0M478.6 99.7h0M479.5 107.7h0M471.7 105.6h0M475.4 108.9h0M480.0 105.1h0M475.0 109.1h0M473.9 105.1h0M477.8 109.7h0M481.3 106.6h0M471.4 102.1h0M477.0 101.7h0M477.6 101.9h0M473.6 102.1h0M481.1 107.0h0M472.2 110.8h0M478.4 100.0h0M480.7 106.9h0M479.1 101.1h0M477.7 102.9h0M478.7 108.4h0M474.7 104.1h0M479.8 106.2h0M476.5 110.6h0M479.3 102.1h0M479.4 108.3h0M479.0 108.9h0M475.0 103.0h0M475.8 109.0h0M480.1 103.3h0M480.4 106.6h0M474.3 100.8h0M476.0 110.9h0M475.2 109.6h0M476.8 100.9h0M479.9 105.9h0M479.7 103.9h0M480.3 104.4h0M477.1 110.8h0M480.0 107.6h0M474.4 104.7h0M472.6 108.6h0M472.5 104.4h0M474.8 108.8h0M475.9 112.5h0M473.4 104.3h0M478.6 110.3h0M472.2 107.5h0M473.5 103.6h0M479.6 108.3h0M481.7 108.3h0M481.1 107.8h0M477.7 101.8h0M476.1 102.7h0M479.9 105.9h0M480.9 103.7h0M479.2 108.4h0M474.0 110.4h0M474.3 103.5h0M474.3 107.9h0M480.2 108.4h0M477.6 102.5h0M480.8 105.8h0M477.8 102.0h0M476.9 102.8h0M480.6 104.8h0M473.8 105.6h0M474.9 101.8h0M474.4 107.5h0M482.4 107.5h0M473.5 107.2h0M477.4 109.0h0M476.8 101.4h0M480.7 99.6h0M479.0 101.2h0M475.2 101.8h0M481.3 105.3h0M481.3 104.2h0M479.2 108.2h0M480.6 104.9h0M474.2 104.4h0M472.6 106.8h0M472.3 106.9h0M480.4 105.6h0M476.8 102.6h0M473.7 103.3h0M475.7 111.1h0M476.4 110.3h0M481.9 106.5h0M477.9 101.9h0M477.9 103.0h0M480.5 104.0h0M473.9 104.9h0M476.9 100.3h0M471.5 105.4h0M480.2 103.1h0M479.1 109.4h0M475.6 108.5h0M476.6 108.9h0M474.4 108.4h0M479.4 101.1h0M477.8 102.5h0M473.2 103.6h0M474.4 103.6h0M475.4 110.5h0M474.7 103.6h0M476.4 109.1h0M477.5 109.8h0M477.9 109.7h0M471.5 102.5h0M473.6 101.8h0M479.1 107.9h0M474.0 105.1h0M482.1 103.6h0M480.0 105.5h0M480.9 104.7h0M474.3 104.4h0M482.3 106.0h0M478.5 112.2h0M472.5 108.6h0M477.8 110.5h0M475.6 109.0h0M477.2 100.7h0M474.3 107.5h0M478.7 108.3h0M480.0 105.6h0M477.1 109.0h0M480.6 106.0h0M475.5 109.5h0M472.6 105.5h0M478.6 111.6h0M477.7 101.8h0M475.1 98.8h0M473.1 102.3h0M475.3 109.8h0M475.8 102.0h0M474.7 101.8h0M481.1 107.6h0M479.9 107.0h0M475.2 108.3h0M473.2 105.8h0M474.1 105.2h0M472.3 101.5h0M478.7 109.7h0M475.5 102.2h0M477.0 101.7h0M481.5 105.6h0M474.5 110.7h0M480.4 105.2h0M480.2 103.7h0M481.2 106.3h0" stroke="#000" stroke-width="0.9" stroke-linecap="square" fill="none"/>
<path d="M473.8 116.0h0M480.7 102.4h0M472.2 101.6h0M487.1 110.7h0M473.2 102.2h0M475.4 100.1h0M478.8 100.9h0M475.8 107.9h0M475.8 109.6h0M474.8 110.3h0M474.4 103.0h0M471.5 106.8h0M479.1 105.5h0M481.7 108.1h0M477.9 98.5h0M476.1 106.9h0M472.5 111.6h0M477.8 111.7h0M472.3 113.0h0M481.5 106.0h0M475.5 112.2h0M473.2 104.5h0M480.7 105.1h0M473.8 100.6h0M475.0 110.7h0M486.4 101.3h0M472.4 108.1h0M476.1 103.7h0M476.2 111.1h0M479.4 102.3h0M478.5 100.3h0M480.7 96.9h0M475.2 109.3h0M482.8 107.6h0M469.7 104.6h0M480.0 108.1h0M478.1 103.0h0M469.9 103.4h0M477.2 102.6h0M473.7 107.1h0M475.5 106.2h0M480.5 102.4h0M480.2 100.7h0M479.8 107.1h0M478.5 108.5h0M477.5 98.1h0M482.7 106.4h0M477.4 105.7h0M478.1 104.5h0M471.9 100.5h0M483.0 108.0h0M472.9 112.2h0M477.7 100.7h0M473.9 102.6h0M480.7 108.6h0M475.8 104.4h0M474.2 105.9h0M473.0 109.2h0M476.4 109.4h0M482.3 106.7h0M479.8 92.5h0M473.4 106.5h0M473.6 110.0h0M475.5 104.7h0M469.2 108.3h0M474.9 110.9h0M478.5 105.2h0M479.8 104.3h0M473.8 105.2h0M475.9 110.0h0M474.3 100.9h0M481.5 109.2h0M475.4 106.0h0M471.0 112.5h0M474.8 96.3h0M476.3 107.6h0M479.1 106.5h0M477.6 104.7h0M476.4 104.4h0M485.6 105.7h0M477.2 96.7h0M476.6 107.8h0M479.2 98.8h0M476.5 112.2h0M476.0 104.6h0M478.8 105.1h0M474.8 102.7h0M470.6 106.2h0M478.8 108.0h0M474.0 107.2h0M473.0 98.5h0M479.0 100.0h0M471.8 104.1h0M475.5 112.0h0M480.4 114.3h0M477.4 98.5h0M472.2 106.6h0M471.9 107.3h0M480.4 108.0h0M470.7 110.2h0M482.9 109.8h0M485.1 102.0h0M476.3 109.1h0M480.3 111.8h0M476.2 102.5h0M476.0 102.4h0M477.1 104.0h0M479.5 102.5h0M480.0 102.1h0M481.1 110.6h0M476.6 104.5h0M478.0 107.4h0M473.1 108.5h0M470.1 100.4h0M472.5 106.3h0M473.8 95.4h0M480.6 103.0h0M475.6 106.9h0M478.0 108.0h0M472.2 106.8h0M480.2 108.7h0M482.0 99.2h0M481.0 99.3h0M472.7 106.3h0M485.1 110.6h0M476.3 105.8h0M480.6 100.2h0M475.5 102.9h0M481.0 107.9h0M477.9 110.7h0M475.9 101.6h0M480.0 97.6h0M477.7 105.4h0M471.0 106.3h0M473.7 111.3h0M479.5 109.3h0M480.3 105.4h0M480.7 108.1h0M478.8 110.1h0M483.8 98.3h0M475.1 99.2h0M472.3 108.4h0M473.3 104.6h0M474.8 109.6h0M482.5 106.0h0M474.3 103.0h0M476.1 98.5h0M472.5 106.3h0M477.6 106.2h0M478.0 102.3h0M476.4 101.2h0M477.6 96.9h0M478.6 106.5h0M475.3 106.1h0M480.4 105.7h0M483.6 110.6h0M477.2 104.6h0M472.6 100.9h0M477.5 106.0h0M478.0 112.6h0M478.3 107.2h0M476.0 100.8h0M475.2 105.1h0M479.3 108.4h0M473.2 105.0h0M479.5 99.4h0M475.9 99.3h0M474.4 110.4h0M478.1 114.7h0M473.2 109.4h0M476.2 98.7h0M477.5 106.5h0M475.9 110.6h0M475.7 108.6h0M476.8 103.2h0M478.2 110.0h0M481.9 110.6h0M470.8 99.8h0M475.9 110.6h0M470.1 106.1h0M472.6 108.8h0M480.5 104.3h0M481.6 108.7h0M476.3 111.7h0M484.3 105.1h0M477.7 106.9h0M479.7 103.8h0M476.1 110.6h0M476.4 111.2h0M477.8 112.8h0M482.1 100.6h0M479.3 104.5h0M474.7 109.2h0M480.6 107.8h0M480.7 112.5h0M478.1 108.2h0M478.6 112.0h0M473.8 105.2h0M472.6 103.2h0M478.1 104.0h0M474.2 104.6h0M480.8 114.4h0M477.3 102.4h0M477.6 102.9h0M478.0 108.5h0M483.7 102.4h0M476.4 102.0h0M480.7 101.5h0M481.4 113.3h0M470.9 110.2h0M484.9 106.0h0M476.7 114.2h0M476.1 105.2h0M473.7 108.4h0M481.5 102.3h0M479.8 107.8h0M482.4 105.2h0M474.2 106.6h0M478.5 104.4h0M473.6 108.3h0M471.3 100.7h0M476.5 99.8h0M478.7 98.7h0M476.2 107.4h0M481.7 102.0h0M477.9 110.7h0M474.1 107.2h0M480.9 110.4h0M476.7 107.1h0M474.4 107.9h0M478.4 103.4h0M485.3 108.4h0M474.0 105.8h0M478.6 101.2h0M473.7 108.8h0M476.7 105.4h0M480.6 104.5h0M471.7 100.8h0M476.4 104.8h0M475.6 101.9h0M470.8 104.6h0M478.4 106.8h0M479.1 118.2h0M472.8 103.0h0M477.5 95.3h0M479.4 105.2h0M488.1 105.2h0M476.5 105.6h0M476.1 102.7h0M480.8 107.0h0M478.0 104.5h0M470.2 103.6h0M469.0 102.9h0M478.2 104.5h0M477.2 112.4h0M478.8 109.9h0M475.8 104.2h0M472.0 111.9h0M480.9 105.3h0M478.5 106.7h0" stroke="#444" stroke-width="0.7" stroke-linecap="square" fill="none"/>
<path d="M476.8 97.3h0M473.9 90.4h0M469.1 83.4h0M473.6 97.9h0M472.6 92.5h0M475.3 100.3h0M469.3 91.1h0M473.1 96.4h0M473.3 87.7h0M469.3 85.8h0M473.2 90.0h0M471.3 99.4h0M471.0 91.4h0M476.5 95.4h0M469.9 91.9h0M474.0 98.6h0M472.4 87.9h0M473.2 89.8h0M474.4 96.5h0M473.9 93.8h0M471.5 88.0h0M474.6 99.2h0M475.7 103.3h0M472.0 85.6h0M473.9 94.9h0M472.3 86.6h0M476.8 89.0h0M475.0 97.5h0M476.7 95.3h0M475.9 94.2h0M475.5 99.4h0M474.0 88.0h0M474.9 84.2h0M476.8 93.4h0M472.9 96.9h0M475.8 96.7h0M472.8 95.9h0M474.3 92.9h0M472.4 94.8h0M472.5 97.7h0M470.4 88.6h0M474.4 88.4h0M477.8 91.2h0M472.8 91.9h0M474.4 99.0h0M473.1 91.8h0M476.6 95.4h0M475.6 95.0h0M473.0 91.3h0M472.0 90.2h0M474.4 94.0h0M475.6 95.3h0M474.8 91.5h0M470.7 95.7h0M477.6 95.0h0M475.8 91.9h0M472.2 94.4h0M475.7 96.9h0M476.3 95.5h0M473.7 94.2h0" stroke="#333" stroke-width="0.7" stroke-linecap="square" fill="none"/>
<path d="M473.7 116.2h0M472.5 112.1h0M476.2 115.3h0M471.5 112.3h0M476.2 117.7h0M474.9 120.9h0M476.8 116.5h0M475.4 128.0h0M475.9 115.3h0M473.7 115.7h0M476.8 107.7h0M476.0 115.9h0M476.0 119.0h0M472.6 115.5h0M472.0 117.3h0M473.8 122.6h0M472.2 119.4h0M473.5 115.5h0M472.4 127.2h0M474.6 118.4h0" stroke="#666" stroke-width="0.6" stroke-linecap="square" fill="none"/>
<ellipse cx="466.9" cy="79.2" rx="7.4" ry="8.0" fill="#000" transform="rotate(-12 466.9 79.2)"/>
<ellipse cx="477" cy="105.9" rx="4.0" ry="4.3" fill="#000" transform="rotate(0 477 105.9)"/>
<rect x="439.6" y="63.7" width="71.89999999999998" height="33.39999999999999" fill="none" stroke="#777" stroke-width="1"/>
<text x="474" y="43.8" font-size="10.7" text-anchor="middle" font-weight="normal" fill="#111" stroke="#111" stroke-width="0.12" >peptide library</text>
<text x="507.8" y="74.5" font-size="10.3" text-anchor="end" font-weight="normal" fill="#111" stroke="#111" stroke-width="0.12" >79%</text>
<path d="M51.7 63.6V147.2H242.5" stroke="#000" stroke-width="2.2" fill="none" stroke-linejoin="miter"/>
<path d="M51.7 57.6l-3.2 9h6.4z" fill="#000"/>
<path d="M248.5 147.2l-9 -3.2v6.4z" fill="#000"/>
<path d="M319.3 63.8V147.2H510" stroke="#000" stroke-width="2.2" fill="none" stroke-linejoin="miter"/>
<path d="M319.3 57.8l-3.2 9h6.4z" fill="#000"/>
<path d="M516 147.2l-9 -3.2v6.4z" fill="#000"/>
<text x="62.0" y="159.8" font-size="10.45" text-anchor="start" font-weight="normal" fill="#111" stroke="#111" stroke-width="0.12" >CD8 FITC</text>
<text x="329.7" y="159.8" font-size="10.45" text-anchor="start" font-weight="normal" fill="#111" stroke="#111" stroke-width="0.12" >CD8 FITC</text>
<text x="44.4" y="136.6" font-size="10.35" fill="#111" stroke="#111" stroke-width="0.12" transform="rotate(-90 44.4 136.6)">IFN<tspan font-size="7.5" dy="0.4">γ</tspan><tspan dy="-0.4"> APC</tspan></text>
<text x="312.6" y="136.6" font-size="10.35" fill="#111" stroke="#111" stroke-width="0.12" transform="rotate(-90 312.6 136.6)">IFN<tspan font-size="7.5" dy="0.4">γ</tspan><tspan dy="-0.4"> APC</tspan></text>
<rect x="71.25" y="223.60" width="18.0" height="14.40" fill="#fff"/>
<rect x="89.25" y="223.60" width="18.0" height="14.40" fill="#fff"/>
<rect x="107.25" y="223.60" width="18.0" height="14.40" fill="#c0c0c0"/>
<rect x="125.25" y="223.60" width="18.0" height="14.40" fill="#c0c0c0"/>
<rect x="143.25" y="223.60" width="18.0" height="14.40" fill="#c0c0c0"/>
<rect x="161.25" y="223.60" width="18.0" height="14.40" fill="#c0c0c0"/>
<rect x="179.25" y="223.60" width="18.0" height="14.40" fill="#c0c0c0"/>
<rect x="197.25" y="223.60" width="18.0" height="14.40" fill="#fff"/>
<rect x="215.25" y="223.60" width="18.0" height="14.40" fill="#fff"/>
<rect x="233.25" y="223.60" width="18.0" height="14.40" fill="#c0c0c0"/>
<rect x="71.25" y="238.00" width="18.0" height="14.80" fill="#fff"/>
<rect x="89.25" y="238.00" width="18.0" height="14.80" fill="#fff"/>
<rect x="107.25" y="238.00" width="18.0" height="14.80" fill="#c0c0c0"/>
<rect x="125.25" y="238.00" width="18.0" height="14.80" fill="#c0c0c0"/>
<rect x="143.25" y="238.00" width="18.0" height="14.80" fill="#c0c0c0"/>
<rect x="161.25" y="238.00" width="18.0" height="14.80" fill="#c0c0c0"/>
<rect x="179.25" y="238.00" width="18.0" height="14.80" fill="#c0c0c0"/>
<rect x="197.25" y="238.00" width="18.0" height="14.80" fill="#fff"/>
<rect x="215.25" y="238.00" width="18.0" height="14.80" fill="#fff"/>
<rect x="233.25" y="238.00" width="18.0" height="14.80" fill="#c0c0c0"/>
<rect x="71.25" y="252.80" width="18.0" height="14.80" fill="#c0c0c0"/>
<rect x="89.25" y="252.80" width="18.0" height="14.80" fill="#c0c0c0"/>
<rect x="107.25" y="252.80" width="18.0" height="14.80" fill="#c0c0c0"/>
<rect x="125.25" y="252.80" width="18.0" height="14.80" fill="#c0c0c0"/>
<rect x="143.25" y="252.80" width="18.0" height="14.80" fill="#c0c0c0"/>
<rect x="161.25" y="252.80" width="18.0" height="14.80" fill="#c0c0c0"/>
<rect x="179.25" y="252.80" width="18.0" height="14.80" fill="#c0c0c0"/>
<rect x="197.25" y="252.80" width="18.0" height="14.80" fill="#c0c0c0"/>
<rect x="215.25" y="252.80" width="18.0" height="14.80" fill="#c0c0c0"/>
<rect x="233.25" y="252.80" width="18.0" height="14.80" fill="#c0c0c0"/>
<rect x="71.25" y="267.60" width="18.0" height="14.50" fill="#fff"/>
<rect x="89.25" y="267.60" width="18.0" height="14.50" fill="#fff"/>
<rect x="107.25" y="267.60" width="18.0" height="14.50" fill="#c0c0c0"/>
<rect x="125.25" y="267.60" width="18.0" height="14.50" fill="#c0c0c0"/>
<rect x="143.25" y="267.60" width="18.0" height="14.50" fill="#c0c0c0"/>
<rect x="161.25" y="267.60" width="18.0" height="14.50" fill="#c0c0c0"/>
<rect x="179.25" y="267.60" width="18.0" height="14.50" fill="#c0c0c0"/>
<rect x="197.25" y="267.60" width="18.0" height="14.50" fill="#fff"/>
<rect x="215.25" y="267.60" width="18.0" height="14.50" fill="#fff"/>
<rect x="233.25" y="267.60" width="18.0" height="14.50" fill="#c0c0c0"/>
<rect x="71.25" y="282.10" width="18.0" height="14.80" fill="#fff"/>
<rect x="89.25" y="282.10" width="18.0" height="14.80" fill="#fff"/>
<rect x="107.25" y="282.10" width="18.0" height="14.80" fill="#c0c0c0"/>
<rect x="125.25" y="282.10" width="18.0" height="14.80" fill="#c0c0c0"/>
<rect x="143.25" y="282.10" width="18.0" height="14.80" fill="#c0c0c0"/>
<rect x="161.25" y="282.10" width="18.0" height="14.80" fill="#c0c0c0"/>
<rect x="179.25" y="282.10" width="18.0" height="14.80" fill="#c0c0c0"/>
<rect x="197.25" y="282.10" width="18.0" height="14.80" fill="#fff"/>
<rect x="215.25" y="282.10" width="18.0" height="14.80" fill="#fff"/>
<rect x="233.25" y="282.10" width="18.0" height="14.80" fill="#c0c0c0"/>
<rect x="71.25" y="296.90" width="18.0" height="14.40" fill="#c0c0c0"/>
<rect x="89.25" y="296.90" width="18.0" height="14.40" fill="#c0c0c0"/>
<rect x="107.25" y="296.90" width="18.0" height="14.40" fill="#c0c0c0"/>
<rect x="125.25" y="296.90" width="18.0" height="14.40" fill="#c0c0c0"/>
<rect x="143.25" y="296.90" width="18.0" height="14.40" fill="#c0c0c0"/>
<rect x="161.25" y="296.90" width="18.0" height="14.40" fill="#c0c0c0"/>
<rect x="179.25" y="296.90" width="18.0" height="14.40" fill="#c0c0c0"/>
<rect x="197.25" y="296.90" width="18.0" height="14.40" fill="#c0c0c0"/>
<rect x="215.25" y="296.90" width="18.0" height="14.40" fill="#c0c0c0"/>
<rect x="233.25" y="296.90" width="18.0" height="14.40" fill="#c0c0c0"/>
<rect x="71.25" y="311.30" width="18.0" height="14.60" fill="#c0c0c0"/>
<rect x="89.25" y="311.30" width="18.0" height="14.60" fill="#c0c0c0"/>
<rect x="107.25" y="311.30" width="18.0" height="14.60" fill="#c0c0c0"/>
<rect x="125.25" y="311.30" width="18.0" height="14.60" fill="#c0c0c0"/>
<rect x="143.25" y="311.30" width="18.0" height="14.60" fill="#c0c0c0"/>
<rect x="161.25" y="311.30" width="18.0" height="14.60" fill="#c0c0c0"/>
<rect x="179.25" y="311.30" width="18.0" height="14.60" fill="#c0c0c0"/>
<rect x="197.25" y="311.30" width="18.0" height="14.60" fill="#c0c0c0"/>
<rect x="215.25" y="311.30" width="18.0" height="14.60" fill="#c0c0c0"/>
<rect x="233.25" y="311.30" width="18.0" height="14.60" fill="#c0c0c0"/>
<rect x="71.25" y="325.90" width="18.0" height="14.40" fill="#fff"/>
<rect x="89.25" y="325.90" width="18.0" height="14.40" fill="#fff"/>
<rect x="107.25" y="325.90" width="18.0" height="14.40" fill="#c0c0c0"/>
<rect x="125.25" y="325.90" width="18.0" height="14.40" fill="#c0c0c0"/>
<rect x="143.25" y="325.90" width="18.0" height="14.40" fill="#c0c0c0"/>
<rect x="161.25" y="325.90" width="18.0" height="14.40" fill="#c0c0c0"/>
<rect x="179.25" y="325.90" width="18.0" height="14.40" fill="#c0c0c0"/>
<rect x="197.25" y="325.90" width="18.0" height="14.40" fill="#fff"/>
<rect x="215.25" y="325.90" width="18.0" height="14.40" fill="#fff"/>
<rect x="233.25" y="325.90" width="18.0" height="14.40" fill="#c0c0c0"/>
<rect x="71.25" y="340.30" width="18.0" height="14.50" fill="#fff"/>
<rect x="89.25" y="340.30" width="18.0" height="14.50" fill="#fff"/>
<rect x="107.25" y="340.30" width="18.0" height="14.50" fill="#c0c0c0"/>
<rect x="125.25" y="340.30" width="18.0" height="14.50" fill="#c0c0c0"/>
<rect x="143.25" y="340.30" width="18.0" height="14.50" fill="#c0c0c0"/>
<rect x="161.25" y="340.30" width="18.0" height="14.50" fill="#c0c0c0"/>
<rect x="179.25" y="340.30" width="18.0" height="14.50" fill="#c0c0c0"/>
<rect x="197.25" y="340.30" width="18.0" height="14.50" fill="#fff"/>
<rect x="215.25" y="340.30" width="18.0" height="14.50" fill="#fff"/>
<rect x="233.25" y="340.30" width="18.0" height="14.50" fill="#c0c0c0"/>
<rect x="71.25" y="354.80" width="18.0" height="14.60" fill="#fff"/>
<rect x="89.25" y="354.80" width="18.0" height="14.60" fill="#fff"/>
<rect x="107.25" y="354.80" width="18.0" height="14.60" fill="#c0c0c0"/>
<rect x="125.25" y="354.80" width="18.0" height="14.60" fill="#c0c0c0"/>
<rect x="143.25" y="354.80" width="18.0" height="14.60" fill="#c0c0c0"/>
<rect x="161.25" y="354.80" width="18.0" height="14.60" fill="#c0c0c0"/>
<rect x="179.25" y="354.80" width="18.0" height="14.60" fill="#c0c0c0"/>
<rect x="197.25" y="354.80" width="18.0" height="14.60" fill="#fff"/>
<rect x="215.25" y="354.80" width="18.0" height="14.60" fill="#fff"/>
<rect x="233.25" y="354.80" width="18.0" height="14.60" fill="#c0c0c0"/>
<rect x="71.25" y="369.40" width="18.0" height="14.60" fill="#fff"/>
<rect x="89.25" y="369.40" width="18.0" height="14.60" fill="#fff"/>
<rect x="107.25" y="369.40" width="18.0" height="14.60" fill="#c0c0c0"/>
<path d="M70.75 223.60H251.75M70.75 238.00H251.75M70.75 252.80H251.75M70.75 267.60H251.75M70.75 282.10H251.75M70.75 296.90H251.75M70.75 311.30H251.75M70.75 325.90H251.75M70.75 340.30H251.75M70.75 354.80H251.75M70.75 369.40H251.75M70.75 384.00H125.75M71.25 223.6V384.00M89.25 223.6V384.00M107.25 223.6V384.00M125.25 223.6V384.00M143.25 223.6V369.40M161.25 223.6V369.40M179.25 223.6V369.40M197.25 223.6V369.40M215.25 223.6V369.40M233.25 223.6V369.40M251.25 223.6V369.40" stroke="#404040" stroke-width="1.0" fill="none"/>
<rect x="106.75" y="252.30" width="19.0" height="15.80" fill="#000"/>
<rect x="124.75" y="252.30" width="19.0" height="15.80" fill="#000"/>
<rect x="142.75" y="252.30" width="19.0" height="15.80" fill="#000"/>
<rect x="160.75" y="252.30" width="19.0" height="15.80" fill="#000"/>
<rect x="178.75" y="252.30" width="19.0" height="15.80" fill="#000"/>
<rect x="232.75" y="252.30" width="19.0" height="15.80" fill="#000"/>
<rect x="106.75" y="296.40" width="19.0" height="15.40" fill="#000"/>
<rect x="124.75" y="296.40" width="19.0" height="15.40" fill="#000"/>
<rect x="142.75" y="296.40" width="19.0" height="15.40" fill="#000"/>
<rect x="160.75" y="296.40" width="19.0" height="15.40" fill="#000"/>
<rect x="178.75" y="296.40" width="19.0" height="15.40" fill="#000"/>
<rect x="232.75" y="296.40" width="19.0" height="15.40" fill="#000"/>
<rect x="106.75" y="310.80" width="19.0" height="15.60" fill="#000"/>
<rect x="124.75" y="310.80" width="19.0" height="15.60" fill="#000"/>
<rect x="142.75" y="310.80" width="19.0" height="15.60" fill="#000"/>
<rect x="160.75" y="310.80" width="19.0" height="15.60" fill="#000"/>
<rect x="178.75" y="310.80" width="19.0" height="15.60" fill="#000"/>
<rect x="232.75" y="310.80" width="19.0" height="15.60" fill="#000"/>
<text x="80.25" y="234.70" font-size="8.6" text-anchor="middle" font-weight="normal" fill="#111" stroke="#111" stroke-width="0.12" >p1</text>
<text x="98.25" y="234.70" font-size="8.6" text-anchor="middle" font-weight="normal" fill="#111" stroke="#111" stroke-width="0.12" >p2</text>
<text x="116.25" y="234.70" font-size="8.6" text-anchor="middle" font-weight="normal" fill="#111" stroke="#111" stroke-width="0.12" >p3</text>
<rect x="133.75" y="234.10" width="1.2" height="1.2" fill="#555"/>
<rect x="151.75" y="234.10" width="1.2" height="1.2" fill="#555"/>
<rect x="169.75" y="234.10" width="1.2" height="1.2" fill="#555"/>
<text x="116.25" y="264.10" font-size="8.6" text-anchor="middle" font-weight="normal" fill="#fff" stroke="#fff" stroke-width="0.12" >23</text>
<text x="134.25" y="264.10" font-size="8.6" text-anchor="middle" font-weight="normal" fill="#fff" stroke="#fff" stroke-width="0.12" >24</text>
<text x="152.25" y="264.10" font-size="8.6" text-anchor="middle" font-weight="normal" fill="#fff" stroke="#fff" stroke-width="0.12" >25</text>
<text x="170.25" y="264.10" font-size="8.6" text-anchor="middle" font-weight="normal" fill="#fff" stroke="#fff" stroke-width="0.12" >26</text>
<text x="188.25" y="264.10" font-size="8.6" text-anchor="middle" font-weight="normal" fill="#fff" stroke="#fff" stroke-width="0.12" >27</text>
<text x="242.25" y="264.10" font-size="8.6" text-anchor="middle" font-weight="normal" fill="#fff" stroke="#fff" stroke-width="0.12" >30</text>
<text x="116.25" y="308.00" font-size="8.6" text-anchor="middle" font-weight="normal" fill="#fff" stroke="#fff" stroke-width="0.12" >53</text>
<text x="134.25" y="308.00" font-size="8.6" text-anchor="middle" font-weight="normal" fill="#fff" stroke="#fff" stroke-width="0.12" >54</text>
<text x="152.25" y="308.00" font-size="8.6" text-anchor="middle" font-weight="normal" fill="#fff" stroke="#fff" stroke-width="0.12" >55</text>
<text x="170.25" y="308.00" font-size="8.6" text-anchor="middle" font-weight="normal" fill="#fff" stroke="#fff" stroke-width="0.12" >56</text>
<text x="188.25" y="308.00" font-size="8.6" text-anchor="middle" font-weight="normal" fill="#fff" stroke="#fff" stroke-width="0.12" >57</text>
<text x="242.25" y="308.00" font-size="8.6" text-anchor="middle" font-weight="normal" fill="#fff" stroke="#fff" stroke-width="0.12" >60</text>
<text x="116.25" y="322.50" font-size="8.6" text-anchor="middle" font-weight="normal" fill="#fff" stroke="#fff" stroke-width="0.12" >63</text>
<text x="134.25" y="322.50" font-size="8.6" text-anchor="middle" font-weight="normal" fill="#fff" stroke="#fff" stroke-width="0.12" >64</text>
<text x="152.25" y="322.50" font-size="8.6" text-anchor="middle" font-weight="normal" fill="#fff" stroke="#fff" stroke-width="0.12" >65</text>
<text x="170.25" y="322.50" font-size="8.6" text-anchor="middle" font-weight="normal" fill="#fff" stroke="#fff" stroke-width="0.12" >66</text>
<text x="188.25" y="322.50" font-size="8.6" text-anchor="middle" font-weight="normal" fill="#fff" stroke="#fff" stroke-width="0.12" >67</text>
<text x="242.25" y="322.50" font-size="8.6" text-anchor="middle" font-weight="normal" fill="#fff" stroke="#fff" stroke-width="0.12" >70</text>
<text x="38.3" y="234.80" font-size="8.6" text-anchor="start" font-weight="normal" fill="#111" stroke="#111" stroke-width="0.2" >Pool 1</text>
<text x="38.3" y="249.40" font-size="8.6" text-anchor="start" font-weight="normal" fill="#111" stroke="#111" stroke-width="0.2" >Pool 2</text>
<text x="38.3" y="264.20" font-size="8.6" text-anchor="start" font-weight="normal" fill="#111" stroke="#111" stroke-width="0.2" >Pool 3</text>
<text x="38.3" y="278.85" font-size="8.6" text-anchor="start" font-weight="normal" fill="#111" stroke="#111" stroke-width="0.2" >Pool 4</text>
<text x="38.3" y="293.50" font-size="8.6" text-anchor="start" font-weight="normal" fill="#111" stroke="#111" stroke-width="0.2" >Pool 5</text>
<text x="38.3" y="308.10" font-size="8.6" text-anchor="start" font-weight="normal" fill="#111" stroke="#111" stroke-width="0.2" >Pool 6</text>
<text x="38.3" y="322.60" font-size="8.6" text-anchor="start" font-weight="normal" fill="#111" stroke="#111" stroke-width="0.2" >Pool 7</text>
<text x="38.3" y="337.10" font-size="8.6" text-anchor="start" font-weight="normal" fill="#111" stroke="#111" stroke-width="0.2" >Pool 8</text>
<text x="38.3" y="351.55" font-size="8.6" text-anchor="start" font-weight="normal" fill="#111" stroke="#111" stroke-width="0.2" >Pool 9</text>
<text x="36.3" y="373.60" font-size="8.6" text-anchor="start" font-weight="normal" fill="#111" stroke="#111" stroke-width="0.2" >Pool 10</text>
<text x="83.35" y="217.70" font-size="8.7" text-anchor="start" font-weight="normal" fill="#111" stroke="#111" stroke-width="0.12" transform="rotate(-90 83.35 217.70)" >Pool 11</text>
<text x="101.35" y="217.70" font-size="8.7" text-anchor="start" font-weight="normal" fill="#111" stroke="#111" stroke-width="0.12" transform="rotate(-90 101.35 217.70)" >Pool 12</text>
<text x="119.35" y="217.70" font-size="8.7" text-anchor="start" font-weight="normal" fill="#111" stroke="#111" stroke-width="0.12" transform="rotate(-90 119.35 217.70)" >Pool 13</text>
<text x="137.35" y="217.70" font-size="8.7" text-anchor="start" font-weight="normal" fill="#111" stroke="#111" stroke-width="0.12" transform="rotate(-90 137.35 217.70)" >Pool 14</text>
<text x="155.35" y="217.70" font-size="8.7" text-anchor="start" font-weight="normal" fill="#111" stroke="#111" stroke-width="0.12" transform="rotate(-90 155.35 217.70)" >Pool 15</text>
<text x="173.35" y="217.70" font-size="8.7" text-anchor="start" font-weight="normal" fill="#111" stroke="#111" stroke-width="0.12" transform="rotate(-90 173.35 217.70)" >Pool 16</text>
<text x="191.35" y="217.70" font-size="8.7" text-anchor="start" font-weight="normal" fill="#111" stroke="#111" stroke-width="0.12" transform="rotate(-90 191.35 217.70)" >Pool 17</text>
<text x="209.35" y="217.70" font-size="8.7" text-anchor="start" font-weight="normal" fill="#111" stroke="#111" stroke-width="0.12" transform="rotate(-90 209.35 217.70)" >Pool 18</text>
<text x="227.35" y="217.70" font-size="8.7" text-anchor="start" font-weight="normal" fill="#111" stroke="#111" stroke-width="0.12" transform="rotate(-90 227.35 217.70)" >Pool 19</text>
<text x="245.35" y="217.70" font-size="8.7" text-anchor="start" font-weight="normal" fill="#111" stroke="#111" stroke-width="0.12" transform="rotate(-90 245.35 217.70)" >Pool 20</text>
<rect x="337.50" y="223.60" width="18.0" height="14.40" fill="#fff"/>
<rect x="355.50" y="223.60" width="18.0" height="14.40" fill="#c0c0c0"/>
<rect x="373.50" y="223.60" width="18.0" height="14.40" fill="#c0c0c0"/>
<rect x="391.50" y="223.60" width="18.0" height="14.40" fill="#fff"/>
<rect x="409.50" y="223.60" width="18.0" height="14.40" fill="#fff"/>
<rect x="427.50" y="223.60" width="18.0" height="14.40" fill="#c0c0c0"/>
<rect x="445.50" y="223.60" width="18.0" height="14.40" fill="#fff"/>
<rect x="463.50" y="223.60" width="18.0" height="14.40" fill="#fff"/>
<rect x="481.50" y="223.60" width="18.0" height="14.40" fill="#c0c0c0"/>
<rect x="499.50" y="223.60" width="18.0" height="14.40" fill="#c0c0c0"/>
<rect x="337.50" y="238.00" width="18.0" height="14.80" fill="#fff"/>
<rect x="355.50" y="238.00" width="18.0" height="14.80" fill="#c0c0c0"/>
<rect x="373.50" y="238.00" width="18.0" height="14.80" fill="#c0c0c0"/>
<rect x="391.50" y="238.00" width="18.0" height="14.80" fill="#fff"/>
<rect x="409.50" y="238.00" width="18.0" height="14.80" fill="#fff"/>
<rect x="427.50" y="238.00" width="18.0" height="14.80" fill="#c0c0c0"/>
<rect x="445.50" y="238.00" width="18.0" height="14.80" fill="#fff"/>
<rect x="463.50" y="238.00" width="18.0" height="14.80" fill="#fff"/>
<rect x="481.50" y="238.00" width="18.0" height="14.80" fill="#c0c0c0"/>
<rect x="499.50" y="238.00" width="18.0" height="14.80" fill="#c0c0c0"/>
<rect x="337.50" y="252.80" width="18.0" height="14.80" fill="#c0c0c0"/>
<rect x="355.50" y="252.80" width="18.0" height="14.80" fill="#c0c0c0"/>
<rect x="373.50" y="252.80" width="18.0" height="14.80" fill="#c0c0c0"/>
<rect x="391.50" y="252.80" width="18.0" height="14.80" fill="#c0c0c0"/>
<rect x="409.50" y="252.80" width="18.0" height="14.80" fill="#c0c0c0"/>
<rect x="427.50" y="252.80" width="18.0" height="14.80" fill="#c0c0c0"/>
<rect x="445.50" y="252.80" width="18.0" height="14.80" fill="#c0c0c0"/>
<rect x="463.50" y="252.80" width="18.0" height="14.80" fill="#c0c0c0"/>
<rect x="481.50" y="252.80" width="18.0" height="14.80" fill="#c0c0c0"/>
<rect x="499.50" y="252.80" width="18.0" height="14.80" fill="#c0c0c0"/>
<rect x="337.50" y="267.60" width="18.0" height="14.50" fill="#fff"/>
<rect x="355.50" y="267.60" width="18.0" height="14.50" fill="#c0c0c0"/>
<rect x="373.50" y="267.60" width="18.0" height="14.50" fill="#c0c0c0"/>
<rect x="391.50" y="267.60" width="18.0" height="14.50" fill="#fff"/>
<rect x="409.50" y="267.60" width="18.0" height="14.50" fill="#fff"/>
<rect x="427.50" y="267.60" width="18.0" height="14.50" fill="#c0c0c0"/>
<rect x="445.50" y="267.60" width="18.0" height="14.50" fill="#fff"/>
<rect x="463.50" y="267.60" width="18.0" height="14.50" fill="#fff"/>
<rect x="481.50" y="267.60" width="18.0" height="14.50" fill="#c0c0c0"/>
<rect x="499.50" y="267.60" width="18.0" height="14.50" fill="#c0c0c0"/>
<rect x="337.50" y="282.10" width="18.0" height="14.80" fill="#fff"/>
<rect x="355.50" y="282.10" width="18.0" height="14.80" fill="#c0c0c0"/>
<rect x="373.50" y="282.10" width="18.0" height="14.80" fill="#c0c0c0"/>
<rect x="391.50" y="282.10" width="18.0" height="14.80" fill="#fff"/>
<rect x="409.50" y="282.10" width="18.0" height="14.80" fill="#fff"/>
<rect x="427.50" y="282.10" width="18.0" height="14.80" fill="#c0c0c0"/>
<rect x="445.50" y="282.10" width="18.0" height="14.80" fill="#fff"/>
<rect x="463.50" y="282.10" width="18.0" height="14.80" fill="#fff"/>
<rect x="481.50" y="282.10" width="18.0" height="14.80" fill="#c0c0c0"/>
<rect x="499.50" y="282.10" width="18.0" height="14.80" fill="#c0c0c0"/>
<rect x="337.50" y="296.90" width="18.0" height="14.40" fill="#fff"/>
<rect x="355.50" y="296.90" width="18.0" height="14.40" fill="#c0c0c0"/>
<rect x="373.50" y="296.90" width="18.0" height="14.40" fill="#c0c0c0"/>
<rect x="391.50" y="296.90" width="18.0" height="14.40" fill="#fff"/>
<rect x="409.50" y="296.90" width="18.0" height="14.40" fill="#fff"/>
<rect x="427.50" y="296.90" width="18.0" height="14.40" fill="#c0c0c0"/>
<rect x="445.50" y="296.90" width="18.0" height="14.40" fill="#fff"/>
<rect x="463.50" y="296.90" width="18.0" height="14.40" fill="#fff"/>
<rect x="481.50" y="296.90" width="18.0" height="14.40" fill="#c0c0c0"/>
<rect x="499.50" y="296.90" width="18.0" height="14.40" fill="#c0c0c0"/>
<rect x="337.50" y="311.30" width="18.0" height="14.60" fill="#fff"/>
<rect x="355.50" y="311.30" width="18.0" height="14.60" fill="#c0c0c0"/>
<rect x="373.50" y="311.30" width="18.0" height="14.60" fill="#c0c0c0"/>
<rect x="391.50" y="311.30" width="18.0" height="14.60" fill="#fff"/>
<rect x="409.50" y="311.30" width="18.0" height="14.60" fill="#fff"/>
<rect x="427.50" y="311.30" width="18.0" height="14.60" fill="#c0c0c0"/>
<rect x="445.50" y="311.30" width="18.0" height="14.60" fill="#fff"/>
<rect x="463.50" y="311.30" width="18.0" height="14.60" fill="#fff"/>
<rect x="481.50" y="311.30" width="18.0" height="14.60" fill="#c0c0c0"/>
<rect x="499.50" y="311.30" width="18.0" height="14.60" fill="#c0c0c0"/>
<rect x="337.50" y="325.90" width="18.0" height="14.40" fill="#fff"/>
<rect x="355.50" y="325.90" width="18.0" height="14.40" fill="#c0c0c0"/>
<rect x="373.50" y="325.90" width="18.0" height="14.40" fill="#c0c0c0"/>
<rect x="391.50" y="325.90" width="18.0" height="14.40" fill="#fff"/>
<rect x="409.50" y="325.90" width="18.0" height="14.40" fill="#fff"/>
<rect x="427.50" y="325.90" width="18.0" height="14.40" fill="#c0c0c0"/>
<rect x="445.50" y="325.90" width="18.0" height="14.40" fill="#fff"/>
<rect x="463.50" y="325.90" width="18.0" height="14.40" fill="#fff"/>
<rect x="481.50" y="325.90" width="18.0" height="14.40" fill="#c0c0c0"/>
<rect x="499.50" y="325.90" width="18.0" height="14.40" fill="#c0c0c0"/>
<rect x="337.50" y="340.30" width="18.0" height="14.50" fill="#c0c0c0"/>
<rect x="355.50" y="340.30" width="18.0" height="14.50" fill="#c0c0c0"/>
<rect x="373.50" y="340.30" width="18.0" height="14.50" fill="#c0c0c0"/>
<rect x="391.50" y="340.30" width="18.0" height="14.50" fill="#c0c0c0"/>
<rect x="409.50" y="340.30" width="18.0" height="14.50" fill="#c0c0c0"/>
<rect x="427.50" y="340.30" width="18.0" height="14.50" fill="#c0c0c0"/>
<rect x="445.50" y="340.30" width="18.0" height="14.50" fill="#c0c0c0"/>
<rect x="463.50" y="340.30" width="18.0" height="14.50" fill="#c0c0c0"/>
<rect x="481.50" y="340.30" width="18.0" height="14.50" fill="#c0c0c0"/>
<rect x="499.50" y="340.30" width="18.0" height="14.50" fill="#c0c0c0"/>
<rect x="337.50" y="354.80" width="18.0" height="14.60" fill="#fff"/>
<rect x="355.50" y="354.80" width="18.0" height="14.60" fill="#c0c0c0"/>
<rect x="373.50" y="354.80" width="18.0" height="14.60" fill="#c0c0c0"/>
<rect x="391.50" y="354.80" width="18.0" height="14.60" fill="#fff"/>
<rect x="409.50" y="354.80" width="18.0" height="14.60" fill="#fff"/>
<rect x="427.50" y="354.80" width="18.0" height="14.60" fill="#c0c0c0"/>
<rect x="445.50" y="354.80" width="18.0" height="14.60" fill="#fff"/>
<rect x="463.50" y="354.80" width="18.0" height="14.60" fill="#fff"/>
<rect x="481.50" y="354.80" width="18.0" height="14.60" fill="#c0c0c0"/>
<rect x="499.50" y="354.80" width="18.0" height="14.60" fill="#c0c0c0"/>
<rect x="337.50" y="369.40" width="18.0" height="14.60" fill="#fff"/>
<rect x="355.50" y="369.40" width="18.0" height="14.60" fill="#c0c0c0"/>
<rect x="373.50" y="369.40" width="18.0" height="14.60" fill="#c0c0c0"/>
<path d="M337.0 223.60H518.0M337.0 238.00H518.0M337.0 252.80H518.0M337.0 267.60H518.0M337.0 282.10H518.0M337.0 296.90H518.0M337.0 311.30H518.0M337.0 325.90H518.0M337.0 340.30H518.0M337.0 354.80H518.0M337.0 369.40H518.0M337.0 384.00H392.0M337.50 223.6V384.00M355.50 223.6V384.00M373.50 223.6V384.00M391.50 223.6V384.00M409.50 223.6V369.40M427.50 223.6V369.40M445.50 223.6V369.40M463.50 223.6V369.40M481.50 223.6V369.40M499.50 223.6V369.40M517.50 223.6V369.40" stroke="#404040" stroke-width="1.0" fill="none"/>
<rect x="355.00" y="339.80" width="19.0" height="15.50" fill="#000"/>
<rect x="373.00" y="339.80" width="19.0" height="15.50" fill="#000"/>
<rect x="427.00" y="339.80" width="19.0" height="15.50" fill="#000"/>
<rect x="481.00" y="339.80" width="19.0" height="15.50" fill="#000"/>
<rect x="499.00" y="339.80" width="19.0" height="15.50" fill="#000"/>
<rect x="355.00" y="252.30" width="19.0" height="15.80" fill="#000"/>
<rect x="373.00" y="252.30" width="19.0" height="15.80" fill="#000"/>
<rect x="427.00" y="252.30" width="19.0" height="15.80" fill="#000"/>
<rect x="481.00" y="252.30" width="19.0" height="15.80" fill="#000"/>
<rect x="499.00" y="252.30" width="19.0" height="15.80" fill="#000"/>
<text x="346.50" y="234.70" font-size="8.6" text-anchor="middle" font-weight="normal" fill="#111" stroke="#111" stroke-width="0.12" >p1</text>
<text x="364.50" y="234.70" font-size="8.6" text-anchor="middle" font-weight="normal" fill="#111" stroke="#111" stroke-width="0.12" >p2</text>
<text x="382.50" y="234.70" font-size="8.6" text-anchor="middle" font-weight="normal" fill="#111" stroke="#111" stroke-width="0.12" >p3</text>
<rect x="400.00" y="234.10" width="1.2" height="1.2" fill="#555"/>
<rect x="418.00" y="234.10" width="1.2" height="1.2" fill="#555"/>
<rect x="436.00" y="234.10" width="1.2" height="1.2" fill="#555"/>
<text x="364.50" y="264.10" font-size="8.6" text-anchor="middle" font-weight="normal" fill="#fff" stroke="#fff" stroke-width="0.12" >22</text>
<text x="382.50" y="264.10" font-size="8.6" text-anchor="middle" font-weight="normal" fill="#fff" stroke="#fff" stroke-width="0.12" >23</text>
<text x="436.50" y="264.10" font-size="8.6" text-anchor="middle" font-weight="normal" fill="#fff" stroke="#fff" stroke-width="0.12" >26</text>
<text x="490.50" y="264.10" font-size="8.6" text-anchor="middle" font-weight="normal" fill="#fff" stroke="#fff" stroke-width="0.12" >29</text>
<text x="508.50" y="264.10" font-size="8.6" text-anchor="middle" font-weight="normal" fill="#fff" stroke="#fff" stroke-width="0.12" >30</text>
<text x="364.50" y="351.45" font-size="8.6" text-anchor="middle" font-weight="normal" fill="#fff" stroke="#fff" stroke-width="0.12" >82</text>
<text x="382.50" y="351.45" font-size="8.6" text-anchor="middle" font-weight="normal" fill="#fff" stroke="#fff" stroke-width="0.12" >83</text>
<text x="436.50" y="351.45" font-size="8.6" text-anchor="middle" font-weight="normal" fill="#fff" stroke="#fff" stroke-width="0.12" >86</text>
<text x="490.50" y="351.45" font-size="8.6" text-anchor="middle" font-weight="normal" fill="#fff" stroke="#fff" stroke-width="0.12" >89</text>
<text x="508.50" y="351.45" font-size="8.6" text-anchor="middle" font-weight="normal" fill="#fff" stroke="#fff" stroke-width="0.12" >90</text>
<text x="305.0" y="234.80" font-size="8.6" text-anchor="start" font-weight="normal" fill="#111" stroke="#111" stroke-width="0.2" >Pool 1</text>
<text x="305.0" y="249.40" font-size="8.6" text-anchor="start" font-weight="normal" fill="#111" stroke="#111" stroke-width="0.2" >Pool 2</text>
<text x="305.0" y="264.20" font-size="8.6" text-anchor="start" font-weight="normal" fill="#111" stroke="#111" stroke-width="0.2" >Pool 3</text>
<text x="305.0" y="278.85" font-size="8.6" text-anchor="start" font-weight="normal" fill="#111" stroke="#111" stroke-width="0.2" >Pool 4</text>
<text x="305.0" y="293.50" font-size="8.6" text-anchor="start" font-weight="normal" fill="#111" stroke="#111" stroke-width="0.2" >Pool 5</text>
<text x="305.0" y="308.10" font-size="8.6" text-anchor="start" font-weight="normal" fill="#111" stroke="#111" stroke-width="0.2" >Pool 6</text>
<text x="305.0" y="322.60" font-size="8.6" text-anchor="start" font-weight="normal" fill="#111" stroke="#111" stroke-width="0.2" >Pool 7</text>
<text x="305.0" y="337.10" font-size="8.6" text-anchor="start" font-weight="normal" fill="#111" stroke="#111" stroke-width="0.2" >Pool 8</text>
<text x="305.0" y="351.55" font-size="8.6" text-anchor="start" font-weight="normal" fill="#111" stroke="#111" stroke-width="0.2" >Pool 9</text>
<text x="303.0" y="373.60" font-size="8.6" text-anchor="start" font-weight="normal" fill="#111" stroke="#111" stroke-width="0.2" >Pool 10</text>
<text x="349.60" y="217.70" font-size="8.7" text-anchor="start" font-weight="normal" fill="#111" stroke="#111" stroke-width="0.12" transform="rotate(-90 349.60 217.70)" >Pool 11</text>
<text x="367.60" y="217.70" font-size="8.7" text-anchor="start" font-weight="normal" fill="#111" stroke="#111" stroke-width="0.12" transform="rotate(-90 367.60 217.70)" >Pool 12</text>
<text x="385.60" y="217.70" font-size="8.7" text-anchor="start" font-weight="normal" fill="#111" stroke="#111" stroke-width="0.12" transform="rotate(-90 385.60 217.70)" >Pool 13</text>
<text x="403.60" y="217.70" font-size="8.7" text-anchor="start" font-weight="normal" fill="#111" stroke="#111" stroke-width="0.12" transform="rotate(-90 403.60 217.70)" >Pool 14</text>
<text x="421.60" y="217.70" font-size="8.7" text-anchor="start" font-weight="normal" fill="#111" stroke="#111" stroke-width="0.12" transform="rotate(-90 421.60 217.70)" >Pool 15</text>
<text x="439.60" y="217.70" font-size="8.7" text-anchor="start" font-weight="normal" fill="#111" stroke="#111" stroke-width="0.12" transform="rotate(-90 439.60 217.70)" >Pool 16</text>
<text x="457.60" y="217.70" font-size="8.7" text-anchor="start" font-weight="normal" fill="#111" stroke="#111" stroke-width="0.12" transform="rotate(-90 457.60 217.70)" >Pool 17</text>
<text x="475.60" y="217.70" font-size="8.7" text-anchor="start" font-weight="normal" fill="#111" stroke="#111" stroke-width="0.12" transform="rotate(-90 475.60 217.70)" >Pool 18</text>
<text x="493.60" y="217.70" font-size="8.7" text-anchor="start" font-weight="normal" fill="#111" stroke="#111" stroke-width="0.12" transform="rotate(-90 493.60 217.70)" >Pool 19</text>
<text x="511.60" y="217.70" font-size="8.7" text-anchor="start" font-weight="normal" fill="#111" stroke="#111" stroke-width="0.12" transform="rotate(-90 511.60 217.70)" >Pool 20</text>
<rect x="58.40" y="564.60" width="5.00" height="2.40" fill="#d4d4d4" stroke="#222" stroke-width="0.9"/>
<path d="M60.90 567.0v3.0" stroke="#000" stroke-width="1.1"/>
<text x="63.90" y="570.90" font-size="8.6" text-anchor="end" font-weight="normal" fill="#000" stroke="#000" stroke-width="0.3" transform="rotate(-90 63.90 570.90)" >no peptide</text>
<rect x="66.83" y="510.99" width="5.00" height="56.01" fill="#d4d4d4" stroke="#222" stroke-width="0.9"/>
<path d="M69.33 567.0v3.0" stroke="#000" stroke-width="1.1"/>
<text x="72.33" y="570.90" font-size="8.6" text-anchor="end" font-weight="normal" fill="#000" stroke="#000" stroke-width="0.3" transform="rotate(-90 72.33 570.90)" letter-spacing="0.25">p23</text>
<rect x="75.26" y="461.47" width="5.00" height="105.53" fill="#d4d4d4" stroke="#222" stroke-width="0.9"/>
<path d="M77.76 567.0v3.0" stroke="#000" stroke-width="1.1"/>
<text x="80.76" y="570.90" font-size="8.6" text-anchor="end" font-weight="normal" fill="#000" stroke="#000" stroke-width="0.3" transform="rotate(-90 80.76 570.90)" letter-spacing="0.25">p24</text>
<rect x="83.69" y="558.14" width="5.00" height="8.86" fill="#d4d4d4" stroke="#222" stroke-width="0.9"/>
<path d="M86.19 567.0v3.0" stroke="#000" stroke-width="1.1"/>
<text x="89.19" y="570.90" font-size="8.6" text-anchor="end" font-weight="normal" fill="#000" stroke="#000" stroke-width="0.3" transform="rotate(-90 89.19 570.90)" letter-spacing="0.25">p25</text>
<rect x="92.12" y="520.25" width="5.00" height="46.75" fill="#d4d4d4" stroke="#222" stroke-width="0.9"/>
<path d="M94.62 567.0v3.0" stroke="#000" stroke-width="1.1"/>
<text x="97.62" y="570.90" font-size="8.6" text-anchor="end" font-weight="normal" fill="#000" stroke="#000" stroke-width="0.3" transform="rotate(-90 97.62 570.90)" letter-spacing="0.25">p26</text>
<rect x="100.55" y="536.83" width="5.00" height="30.17" fill="#d4d4d4" stroke="#222" stroke-width="0.9"/>
<path d="M103.05 567.0v3.0" stroke="#000" stroke-width="1.1"/>
<text x="106.05" y="570.90" font-size="8.6" text-anchor="end" font-weight="normal" fill="#000" stroke="#000" stroke-width="0.3" transform="rotate(-90 106.05 570.90)" letter-spacing="0.25">p27</text>
<rect x="116.81" y="424.47" width="6.20" height="142.53" fill="#000"/>
<path d="M119.91 567.0v3.0" stroke="#000" stroke-width="1.1"/>
<text x="122.91" y="570.90" font-size="8.6" text-anchor="end" font-weight="normal" fill="#000" stroke="#000" stroke-width="0.3" transform="rotate(-90 122.91 570.90)" letter-spacing="0.25">p30</text>
<rect x="134.27" y="560.51" width="5.00" height="6.49" fill="#d4d4d4" stroke="#222" stroke-width="0.9"/>
<path d="M136.77 567.0v3.0" stroke="#000" stroke-width="1.1"/>
<text x="139.77" y="570.90" font-size="8.6" text-anchor="end" font-weight="normal" fill="#000" stroke="#000" stroke-width="0.3" transform="rotate(-90 139.77 570.90)" letter-spacing="0.25">p53</text>
<rect x="142.70" y="544.79" width="5.00" height="22.21" fill="#d4d4d4" stroke="#222" stroke-width="0.9"/>
<path d="M145.20 567.0v3.0" stroke="#000" stroke-width="1.1"/>
<text x="148.20" y="570.90" font-size="8.6" text-anchor="end" font-weight="normal" fill="#000" stroke="#000" stroke-width="0.3" transform="rotate(-90 148.20 570.90)" letter-spacing="0.25">p54</text>
<rect x="150.53" y="477.44" width="6.20" height="89.56" fill="#000"/>
<path d="M153.63 567.0v3.0" stroke="#000" stroke-width="1.1"/>
<text x="156.63" y="570.90" font-size="8.6" text-anchor="end" font-weight="normal" fill="#000" stroke="#000" stroke-width="0.3" transform="rotate(-90 156.63 570.90)" letter-spacing="0.25">p55</text>
<rect x="158.96" y="453.54" width="6.20" height="113.46" fill="#000"/>
<path d="M162.06 567.0v3.0" stroke="#000" stroke-width="1.1"/>
<text x="165.06" y="570.90" font-size="8.6" text-anchor="end" font-weight="normal" fill="#000" stroke="#000" stroke-width="0.3" transform="rotate(-90 165.06 570.90)" letter-spacing="0.25">p56</text>
<rect x="167.39" y="439.54" width="6.20" height="127.46" fill="#000"/>
<path d="M170.49 567.0v3.0" stroke="#000" stroke-width="1.1"/>
<text x="173.49" y="570.90" font-size="8.6" text-anchor="end" font-weight="normal" fill="#000" stroke="#000" stroke-width="0.3" transform="rotate(-90 173.49 570.90)" letter-spacing="0.25">p57</text>
<rect x="184.85" y="560.51" width="5.00" height="6.49" fill="#d4d4d4" stroke="#222" stroke-width="0.9"/>
<path d="M187.35 567.0v3.0" stroke="#000" stroke-width="1.1"/>
<text x="190.35" y="570.90" font-size="8.6" text-anchor="end" font-weight="normal" fill="#000" stroke="#000" stroke-width="0.3" transform="rotate(-90 190.35 570.90)" letter-spacing="0.25">p60</text>
<rect x="201.11" y="455.26" width="6.20" height="111.74" fill="#000"/>
<path d="M204.21 567.0v3.0" stroke="#000" stroke-width="1.1"/>
<text x="207.21" y="570.90" font-size="8.6" text-anchor="end" font-weight="normal" fill="#000" stroke="#000" stroke-width="0.3" transform="rotate(-90 207.21 570.90)" letter-spacing="0.25">p63</text>
<rect x="209.54" y="454.61" width="6.20" height="112.39" fill="#000"/>
<path d="M212.64 567.0v3.0" stroke="#000" stroke-width="1.1"/>
<text x="215.64" y="570.90" font-size="8.6" text-anchor="end" font-weight="normal" fill="#000" stroke="#000" stroke-width="0.3" transform="rotate(-90 215.64 570.90)" letter-spacing="0.25">p64</text>
<rect x="218.57" y="533.60" width="5.00" height="33.40" fill="#d4d4d4" stroke="#222" stroke-width="0.9"/>
<path d="M221.07 567.0v3.0" stroke="#000" stroke-width="1.1"/>
<text x="224.07" y="570.90" font-size="8.6" text-anchor="end" font-weight="normal" fill="#000" stroke="#000" stroke-width="0.3" transform="rotate(-90 224.07 570.90)" letter-spacing="0.25">p65</text>
<rect x="227.00" y="541.56" width="5.00" height="25.44" fill="#d4d4d4" stroke="#222" stroke-width="0.9"/>
<path d="M229.50 567.0v3.0" stroke="#000" stroke-width="1.1"/>
<text x="232.50" y="570.90" font-size="8.6" text-anchor="end" font-weight="normal" fill="#000" stroke="#000" stroke-width="0.3" transform="rotate(-90 232.50 570.90)" letter-spacing="0.25">p66</text>
<rect x="235.43" y="545.65" width="5.00" height="21.35" fill="#d4d4d4" stroke="#222" stroke-width="0.9"/>
<path d="M237.93 567.0v3.0" stroke="#000" stroke-width="1.1"/>
<text x="240.93" y="570.90" font-size="8.6" text-anchor="end" font-weight="normal" fill="#000" stroke="#000" stroke-width="0.3" transform="rotate(-90 240.93 570.90)" letter-spacing="0.25">p67</text>
<rect x="252.29" y="542.64" width="5.00" height="24.36" fill="#d4d4d4" stroke="#222" stroke-width="0.9"/>
<path d="M254.79 567.0v3.0" stroke="#000" stroke-width="1.1"/>
<text x="257.79" y="570.90" font-size="8.6" text-anchor="end" font-weight="normal" fill="#000" stroke="#000" stroke-width="0.3" transform="rotate(-90 257.79 570.90)" letter-spacing="0.25">p70</text>
<path d="M56.60 567.0H107.35" stroke="#000" stroke-width="1.3"/>
<path d="M115.61 567.0H124.21" stroke="#000" stroke-width="1.3"/>
<path d="M132.47 567.0H174.79" stroke="#000" stroke-width="1.3"/>
<path d="M183.05 567.0H191.65" stroke="#000" stroke-width="1.3"/>
<path d="M199.91 567.0H242.23" stroke="#000" stroke-width="1.3"/>
<path d="M250.49 567.0H259.09" stroke="#000" stroke-width="1.3"/>
<path d="M56.6 567.65V415.59" stroke="#000" stroke-width="1.3"/>
<path d="M56.6 567.00h-4.5" stroke="#000" stroke-width="1.2"/>
<text x="52.30" y="570.10" font-size="8.7" text-anchor="end" font-weight="normal" fill="#000" stroke="#000" stroke-width="0.2" >0</text>
<path d="M56.6 545.47h-4.5" stroke="#000" stroke-width="1.2"/>
<text x="52.30" y="548.57" font-size="8.7" text-anchor="end" font-weight="normal" fill="#000" stroke="#000" stroke-width="0.2" >10</text>
<path d="M56.6 523.94h-4.5" stroke="#000" stroke-width="1.2"/>
<text x="52.30" y="527.04" font-size="8.7" text-anchor="end" font-weight="normal" fill="#000" stroke="#000" stroke-width="0.2" >20</text>
<path d="M56.6 502.41h-4.5" stroke="#000" stroke-width="1.2"/>
<text x="52.30" y="505.51" font-size="8.7" text-anchor="end" font-weight="normal" fill="#000" stroke="#000" stroke-width="0.2" >30</text>
<path d="M56.6 480.88h-4.5" stroke="#000" stroke-width="1.2"/>
<text x="52.30" y="483.98" font-size="8.7" text-anchor="end" font-weight="normal" fill="#000" stroke="#000" stroke-width="0.2" >40</text>
<path d="M56.6 459.35h-4.5" stroke="#000" stroke-width="1.2"/>
<text x="52.30" y="462.45" font-size="8.7" text-anchor="end" font-weight="normal" fill="#000" stroke="#000" stroke-width="0.2" >50</text>
<path d="M56.6 437.82h-4.5" stroke="#000" stroke-width="1.2"/>
<text x="52.30" y="440.92" font-size="8.7" text-anchor="end" font-weight="normal" fill="#000" stroke="#000" stroke-width="0.2" >60</text>
<path d="M56.6 416.29h-4.5" stroke="#000" stroke-width="1.2"/>
<text x="52.30" y="419.39" font-size="8.7" text-anchor="end" font-weight="normal" fill="#000" stroke="#000" stroke-width="0.2" >70</text>
<text x="38.80" y="491.20" font-size="8.6" text-anchor="middle" font-weight="normal" fill="#000" stroke="#000" stroke-width="0.2" transform="rotate(-90 38.80 491.20)" >% IFNg positive</text>
<rect x="331.15" y="565.25" width="5.20" height="1.75" fill="#d4d4d4" stroke="#222" stroke-width="0.9"/>
<path d="M333.75 567.0v3.0" stroke="#000" stroke-width="1.1"/>
<text x="336.75" y="570.90" font-size="8.6" text-anchor="end" font-weight="normal" fill="#000" stroke="#000" stroke-width="0.3" transform="rotate(-90 336.75 570.90)" >no peptide</text>
<rect x="339.61" y="557.71" width="5.20" height="9.29" fill="#d4d4d4" stroke="#222" stroke-width="0.9"/>
<path d="M342.21 567.0v3.0" stroke="#000" stroke-width="1.1"/>
<text x="345.21" y="570.90" font-size="8.6" text-anchor="end" font-weight="normal" fill="#000" stroke="#000" stroke-width="0.3" transform="rotate(-90 345.21 570.90)" letter-spacing="0.25">p22</text>
<rect x="348.07" y="538.33" width="5.20" height="28.67" fill="#d4d4d4" stroke="#222" stroke-width="0.9"/>
<path d="M350.67 567.0v3.0" stroke="#000" stroke-width="1.1"/>
<text x="353.67" y="570.90" font-size="8.6" text-anchor="end" font-weight="normal" fill="#000" stroke="#000" stroke-width="0.3" transform="rotate(-90 353.67 570.90)" letter-spacing="0.25">p23</text>
<rect x="364.99" y="509.48" width="5.20" height="57.52" fill="#d4d4d4" stroke="#222" stroke-width="0.9"/>
<path d="M367.59 567.0v3.0" stroke="#000" stroke-width="1.1"/>
<text x="370.59" y="570.90" font-size="8.6" text-anchor="end" font-weight="normal" fill="#000" stroke="#000" stroke-width="0.3" transform="rotate(-90 370.59 570.90)" letter-spacing="0.25">p26</text>
<rect x="381.31" y="451.60" width="6.40" height="115.40" fill="#000"/>
<path d="M384.51 567.0v3.0" stroke="#000" stroke-width="1.1"/>
<text x="387.51" y="570.90" font-size="8.6" text-anchor="end" font-weight="normal" fill="#000" stroke="#000" stroke-width="0.3" transform="rotate(-90 387.51 570.90)" letter-spacing="0.25">p29</text>
<rect x="389.77" y="466.67" width="6.40" height="100.33" fill="#000"/>
<path d="M392.97 567.0v3.0" stroke="#000" stroke-width="1.1"/>
<text x="395.97" y="570.90" font-size="8.6" text-anchor="end" font-weight="normal" fill="#000" stroke="#000" stroke-width="0.3" transform="rotate(-90 395.97 570.90)" letter-spacing="0.25">p30</text>
<rect x="406.69" y="475.28" width="6.40" height="91.72" fill="#000"/>
<path d="M409.89 567.0v3.0" stroke="#000" stroke-width="1.1"/>
<text x="412.89" y="570.90" font-size="8.6" text-anchor="end" font-weight="normal" fill="#000" stroke="#000" stroke-width="0.3" transform="rotate(-90 412.89 570.90)" letter-spacing="0.25">p82</text>
<rect x="415.15" y="438.47" width="6.40" height="128.53" fill="#000"/>
<path d="M418.35 567.0v3.0" stroke="#000" stroke-width="1.1"/>
<text x="421.35" y="570.90" font-size="8.6" text-anchor="end" font-weight="normal" fill="#000" stroke="#000" stroke-width="0.3" transform="rotate(-90 421.35 570.90)" letter-spacing="0.25">p83</text>
<rect x="432.07" y="435.88" width="6.40" height="131.12" fill="#000"/>
<path d="M435.27 567.0v3.0" stroke="#000" stroke-width="1.1"/>
<text x="438.27" y="570.90" font-size="8.6" text-anchor="end" font-weight="normal" fill="#000" stroke="#000" stroke-width="0.3" transform="rotate(-90 438.27 570.90)" letter-spacing="0.25">p86</text>
<rect x="449.59" y="429.61" width="5.20" height="137.39" fill="#d4d4d4" stroke="#222" stroke-width="0.9"/>
<path d="M452.19 567.0v3.0" stroke="#000" stroke-width="1.1"/>
<text x="455.19" y="570.90" font-size="8.6" text-anchor="end" font-weight="normal" fill="#000" stroke="#000" stroke-width="0.3" transform="rotate(-90 455.19 570.90)" letter-spacing="0.25">p89</text>
<rect x="458.05" y="468.36" width="5.20" height="98.64" fill="#d4d4d4" stroke="#222" stroke-width="0.9"/>
<path d="M460.65 567.0v3.0" stroke="#000" stroke-width="1.1"/>
<text x="463.65" y="570.90" font-size="8.6" text-anchor="end" font-weight="normal" fill="#000" stroke="#000" stroke-width="0.3" transform="rotate(-90 463.65 570.90)" letter-spacing="0.25">p90</text>
<path d="M329.00 567.0H355.07" stroke="#000" stroke-width="1.3"/>
<path d="M363.19 567.0H371.99" stroke="#000" stroke-width="1.3"/>
<path d="M380.11 567.0H397.37" stroke="#000" stroke-width="1.3"/>
<path d="M405.49 567.0H422.75" stroke="#000" stroke-width="1.3"/>
<path d="M430.87 567.0H439.67" stroke="#000" stroke-width="1.3"/>
<path d="M447.79 567.0H465.05" stroke="#000" stroke-width="1.3"/>
<path d="M329.0 567.65V415.59" stroke="#000" stroke-width="1.3"/>
<path d="M329.0 567.00h-4.5" stroke="#000" stroke-width="1.2"/>
<text x="325.50" y="570.10" font-size="8.7" text-anchor="end" font-weight="normal" fill="#000" stroke="#000" stroke-width="0.2" >0</text>
<path d="M329.0 545.47h-4.5" stroke="#000" stroke-width="1.2"/>
<text x="325.50" y="548.57" font-size="8.7" text-anchor="end" font-weight="normal" fill="#000" stroke="#000" stroke-width="0.2" >10</text>
<path d="M329.0 523.94h-4.5" stroke="#000" stroke-width="1.2"/>
<text x="325.50" y="527.04" font-size="8.7" text-anchor="end" font-weight="normal" fill="#000" stroke="#000" stroke-width="0.2" >20</text>
<path d="M329.0 502.41h-4.5" stroke="#000" stroke-width="1.2"/>
<text x="325.50" y="505.51" font-size="8.7" text-anchor="end" font-weight="normal" fill="#000" stroke="#000" stroke-width="0.2" >30</text>
<path d="M329.0 480.88h-4.5" stroke="#000" stroke-width="1.2"/>
<text x="325.50" y="483.98" font-size="8.7" text-anchor="end" font-weight="normal" fill="#000" stroke="#000" stroke-width="0.2" >40</text>
<path d="M329.0 459.35h-4.5" stroke="#000" stroke-width="1.2"/>
<text x="325.50" y="462.45" font-size="8.7" text-anchor="end" font-weight="normal" fill="#000" stroke="#000" stroke-width="0.2" >50</text>
<path d="M329.0 437.82h-4.5" stroke="#000" stroke-width="1.2"/>
<text x="325.50" y="440.92" font-size="8.7" text-anchor="end" font-weight="normal" fill="#000" stroke="#000" stroke-width="0.2" >60</text>
<path d="M329.0 416.29h-4.5" stroke="#000" stroke-width="1.2"/>
<text x="325.50" y="419.39" font-size="8.7" text-anchor="end" font-weight="normal" fill="#000" stroke="#000" stroke-width="0.2" >70</text>
<text x="312.50" y="491.20" font-size="8.6" text-anchor="middle" font-weight="normal" fill="#000" stroke="#000" stroke-width="0.2" transform="rotate(-90 312.50 491.20)" >% IFNg positive</text></svg>
</body></html>
